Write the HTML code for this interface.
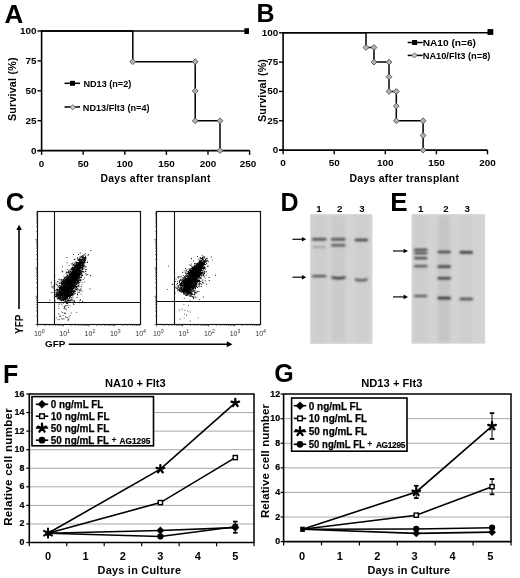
<!DOCTYPE html>
<html><head><meta charset="utf-8"><style>
html,body{margin:0;padding:0;background:#fff;}
svg{display:block;font-family:"Liberation Sans",sans-serif;}
</style></head><body>
<svg width="520" height="578" viewBox="0 0 520 578">
<defs><filter id="soft" x="0" y="0" width="100%" height="100%"><feGaussianBlur stdDeviation="0.35"/></filter></defs>
<g filter="url(#soft)">
<rect width="520" height="578" fill="#fff"/>
<text x="4.60" y="22.60" font-size="26" font-weight="bold" text-anchor="start" fill="#000" >A</text>
<line x1="41.60" y1="30.20" x2="41.60" y2="151.40" stroke="#000" stroke-width="1.6"/>
<line x1="37.50" y1="150.60" x2="249.60" y2="150.60" stroke="#000" stroke-width="1.6"/>
<line x1="37.50" y1="31.00" x2="41.60" y2="31.00" stroke="#000" stroke-width="1.4"/>
<text x="36.60" y="34.00" font-size="9.9" font-weight="bold" text-anchor="end" fill="#000" >100</text>
<line x1="37.50" y1="60.90" x2="41.60" y2="60.90" stroke="#000" stroke-width="1.4"/>
<text x="36.60" y="63.90" font-size="9.9" font-weight="bold" text-anchor="end" fill="#000" >75</text>
<line x1="37.50" y1="90.80" x2="41.60" y2="90.80" stroke="#000" stroke-width="1.4"/>
<text x="36.60" y="93.80" font-size="9.9" font-weight="bold" text-anchor="end" fill="#000" >50</text>
<line x1="37.50" y1="120.70" x2="41.60" y2="120.70" stroke="#000" stroke-width="1.4"/>
<text x="36.60" y="123.70" font-size="9.9" font-weight="bold" text-anchor="end" fill="#000" >25</text>
<line x1="37.50" y1="150.60" x2="41.60" y2="150.60" stroke="#000" stroke-width="1.4"/>
<text x="36.60" y="153.60" font-size="9.9" font-weight="bold" text-anchor="end" fill="#000" >0</text>
<line x1="41.60" y1="150.60" x2="41.60" y2="154.80" stroke="#000" stroke-width="1.4"/>
<text x="41.60" y="166.80" font-size="9.9" font-weight="bold" text-anchor="middle" fill="#000" >0</text>
<line x1="83.20" y1="150.60" x2="83.20" y2="154.80" stroke="#000" stroke-width="1.4"/>
<text x="83.20" y="166.80" font-size="9.9" font-weight="bold" text-anchor="middle" fill="#000" >50</text>
<line x1="124.80" y1="150.60" x2="124.80" y2="154.80" stroke="#000" stroke-width="1.4"/>
<text x="124.80" y="166.80" font-size="9.9" font-weight="bold" text-anchor="middle" fill="#000" >100</text>
<line x1="166.40" y1="150.60" x2="166.40" y2="154.80" stroke="#000" stroke-width="1.4"/>
<text x="166.40" y="166.80" font-size="9.9" font-weight="bold" text-anchor="middle" fill="#000" >150</text>
<line x1="208.00" y1="150.60" x2="208.00" y2="154.80" stroke="#000" stroke-width="1.4"/>
<text x="208.00" y="166.80" font-size="9.9" font-weight="bold" text-anchor="middle" fill="#000" >200</text>
<line x1="249.60" y1="150.60" x2="249.60" y2="154.80" stroke="#000" stroke-width="1.4"/>
<text x="248.10" y="166.80" font-size="9.9" font-weight="bold" text-anchor="middle" fill="#000" >250</text>
<text transform="translate(16.00,89.30) rotate(-90)" x="0" y="0" font-size="10.7" font-weight="bold" text-anchor="middle"  textLength="63.5">Survival (%)</text>
<text x="100.40" y="182.30" font-size="10.4" font-weight="bold" text-anchor="start" fill="#000"  textLength="110">Days after transplant</text>
<path d="M41.6,31.0 H246.7" fill="none" stroke="#000" stroke-width="1.5"/>
<rect x="244.40" y="28.20" width="4.6" height="5.8" fill="#000"/>
<path d="M41.6,31.0 H132.8 V61.7 H195.2 V120.8 H220 V150.6" fill="none" stroke="#000" stroke-width="1.5"/>
<path d="M132.80,58.80 L135.70,61.70 L132.80,64.60 L129.90,61.70Z" fill="#b4b4b4" stroke="#505050" stroke-width="0.9"/>
<path d="M195.20,58.80 L198.10,61.70 L195.20,64.60 L192.30,61.70Z" fill="#b4b4b4" stroke="#505050" stroke-width="0.9"/>
<path d="M195.20,88.10 L198.10,91.00 L195.20,93.90 L192.30,91.00Z" fill="#b4b4b4" stroke="#505050" stroke-width="0.9"/>
<path d="M195.20,117.90 L198.10,120.80 L195.20,123.70 L192.30,120.80Z" fill="#b4b4b4" stroke="#505050" stroke-width="0.9"/>
<path d="M220.00,117.90 L222.90,120.80 L220.00,123.70 L217.10,120.80Z" fill="#b4b4b4" stroke="#505050" stroke-width="0.9"/>
<path d="M220.00,147.70 L222.90,150.60 L220.00,153.50 L217.10,150.60Z" fill="#b4b4b4" stroke="#505050" stroke-width="0.9"/>
<line x1="64.50" y1="83.30" x2="80.00" y2="83.30" stroke="#000" stroke-width="1.5"/>
<rect x="70.00" y="80.80" width="5" height="5" fill="#000"/>
<text x="83.4" y="86.6" font-size="9.4" font-weight="bold" textLength="47.9" lengthAdjust="spacingAndGlyphs">ND13 (n=2)</text>
<line x1="64.50" y1="107.00" x2="80.00" y2="107.00" stroke="#000" stroke-width="1.5"/>
<path d="M72.80,104.70 L75.40,107.30 L72.80,109.90 L70.20,107.30Z" fill="#c8c8c8" stroke="#666" stroke-width="0.9"/>
<text x="82.8" y="110.6" font-size="9.4" font-weight="bold" textLength="66.8" lengthAdjust="spacingAndGlyphs">ND13/Flt3 (n=4)</text>
<text x="256.60" y="22.40" font-size="25" font-weight="bold" text-anchor="start" fill="#000" >B</text>
<line x1="283.10" y1="32.00" x2="283.10" y2="150.90" stroke="#000" stroke-width="1.6"/>
<line x1="279.00" y1="150.10" x2="487.50" y2="150.10" stroke="#000" stroke-width="1.6"/>
<line x1="279.00" y1="32.80" x2="283.10" y2="32.80" stroke="#000" stroke-width="1.4"/>
<text x="278.30" y="35.60" font-size="9.9" font-weight="bold" text-anchor="end" fill="#000" >100</text>
<line x1="279.00" y1="62.12" x2="283.10" y2="62.12" stroke="#000" stroke-width="1.4"/>
<text x="278.30" y="64.92" font-size="9.9" font-weight="bold" text-anchor="end" fill="#000" >75</text>
<line x1="279.00" y1="91.45" x2="283.10" y2="91.45" stroke="#000" stroke-width="1.4"/>
<text x="278.30" y="94.25" font-size="9.9" font-weight="bold" text-anchor="end" fill="#000" >50</text>
<line x1="279.00" y1="120.77" x2="283.10" y2="120.77" stroke="#000" stroke-width="1.4"/>
<text x="278.30" y="123.57" font-size="9.9" font-weight="bold" text-anchor="end" fill="#000" >25</text>
<line x1="279.00" y1="150.10" x2="283.10" y2="150.10" stroke="#000" stroke-width="1.4"/>
<text x="278.30" y="152.90" font-size="9.9" font-weight="bold" text-anchor="end" fill="#000" >0</text>
<line x1="283.10" y1="150.10" x2="283.10" y2="154.30" stroke="#000" stroke-width="1.4"/>
<text x="283.10" y="165.80" font-size="9.9" font-weight="bold" text-anchor="middle" fill="#000" >0</text>
<line x1="334.20" y1="150.10" x2="334.20" y2="154.30" stroke="#000" stroke-width="1.4"/>
<text x="334.20" y="165.80" font-size="9.9" font-weight="bold" text-anchor="middle" fill="#000" >50</text>
<line x1="385.30" y1="150.10" x2="385.30" y2="154.30" stroke="#000" stroke-width="1.4"/>
<text x="385.30" y="165.80" font-size="9.9" font-weight="bold" text-anchor="middle" fill="#000" >100</text>
<line x1="436.40" y1="150.10" x2="436.40" y2="154.30" stroke="#000" stroke-width="1.4"/>
<text x="436.40" y="165.80" font-size="9.9" font-weight="bold" text-anchor="middle" fill="#000" >150</text>
<line x1="487.50" y1="150.10" x2="487.50" y2="154.30" stroke="#000" stroke-width="1.4"/>
<text x="487.50" y="165.80" font-size="9.9" font-weight="bold" text-anchor="middle" fill="#000" >200</text>
<text transform="translate(265.60,90.60) rotate(-90)" x="0" y="0" font-size="10.7" font-weight="bold" text-anchor="middle"  textLength="63">Survival (%)</text>
<text x="349.50" y="182.30" font-size="10.4" font-weight="bold" text-anchor="start" fill="#000"  textLength="109.5">Days after transplant</text>
<path d="M283.1,32.79999999999998 H490.4" fill="none" stroke="#000" stroke-width="1.5"/>
<rect x="487.50" y="29.10" width="5.8" height="5.8" fill="#000"/>
<path d="M283.1,32.79999999999998 H366 V47.46 H374 V62.12 H389 V91.45 H396.3 V120.77 H423.1 V150.1" fill="none" stroke="#000" stroke-width="1.5"/>
<path d="M366.00,44.56 L368.90,47.46 L366.00,50.36 L363.10,47.46Z" fill="#b4b4b4" stroke="#505050" stroke-width="0.9"/>
<path d="M374.00,44.56 L376.90,47.46 L374.00,50.36 L371.10,47.46Z" fill="#b4b4b4" stroke="#505050" stroke-width="0.9"/>
<path d="M374.00,59.22 L376.90,62.12 L374.00,65.02 L371.10,62.12Z" fill="#b4b4b4" stroke="#505050" stroke-width="0.9"/>
<path d="M389.00,59.22 L391.90,62.12 L389.00,65.02 L386.10,62.12Z" fill="#b4b4b4" stroke="#505050" stroke-width="0.9"/>
<path d="M389.00,73.89 L391.90,76.79 L389.00,79.69 L386.10,76.79Z" fill="#b4b4b4" stroke="#505050" stroke-width="0.9"/>
<path d="M389.00,88.55 L391.90,91.45 L389.00,94.35 L386.10,91.45Z" fill="#b4b4b4" stroke="#505050" stroke-width="0.9"/>
<path d="M396.30,88.55 L399.20,91.45 L396.30,94.35 L393.40,91.45Z" fill="#b4b4b4" stroke="#505050" stroke-width="0.9"/>
<path d="M396.30,103.21 L399.20,106.11 L396.30,109.01 L393.40,106.11Z" fill="#b4b4b4" stroke="#505050" stroke-width="0.9"/>
<path d="M396.30,117.87 L399.20,120.77 L396.30,123.67 L393.40,120.77Z" fill="#b4b4b4" stroke="#505050" stroke-width="0.9"/>
<path d="M423.10,117.87 L426.00,120.77 L423.10,123.67 L420.20,120.77Z" fill="#b4b4b4" stroke="#505050" stroke-width="0.9"/>
<path d="M423.10,132.54 L426.00,135.44 L423.10,138.34 L420.20,135.44Z" fill="#b4b4b4" stroke="#505050" stroke-width="0.9"/>
<path d="M423.10,147.20 L426.00,150.10 L423.10,153.00 L420.20,150.10Z" fill="#b4b4b4" stroke="#505050" stroke-width="0.9"/>
<line x1="407.70" y1="42.50" x2="422.70" y2="42.50" stroke="#000" stroke-width="1.5"/>
<rect x="412.10" y="40.00" width="5" height="5" fill="#000"/>
<text x="422.7" y="45.9" font-size="9.8" font-weight="bold" textLength="53.3" lengthAdjust="spacingAndGlyphs">NA10 (n=6)</text>
<line x1="407.70" y1="55.40" x2="422.70" y2="55.40" stroke="#000" stroke-width="1.5"/>
<path d="M414.40,52.80 L417.00,55.40 L414.40,58.00 L411.80,55.40Z" fill="#c8c8c8" stroke="#666" stroke-width="0.9"/>
<text x="422.7" y="58.8" font-size="9.8" font-weight="bold" textLength="67.7" lengthAdjust="spacingAndGlyphs">NA10/Flt3 (n=8)</text>
<text x="5.80" y="210.70" font-size="26" font-weight="bold" text-anchor="start" fill="#000" >C</text>
<rect x="37.5" y="211.5" width="103.00" height="113.00" fill="none" stroke="#111" stroke-width="1.15"/>
<line x1="54.50" y1="211.50" x2="54.50" y2="324.50" stroke="#111" stroke-width="1.1"/>
<line x1="37.50" y1="302.50" x2="140.50" y2="302.50" stroke="#111" stroke-width="1.1"/>
<path d="M37.50,324.5 v2 M45.25,324.5 v1.3 M49.79,324.5 v1.3 M53.00,324.5 v1.3 M55.50,324.5 v1.3 M57.54,324.5 v1.3 M59.26,324.5 v1.3 M60.75,324.5 v1.3 M62.07,324.5 v1.3 M63.25,324.5 v2 M71.00,324.5 v1.3 M75.54,324.5 v1.3 M78.75,324.5 v1.3 M81.25,324.5 v1.3 M83.29,324.5 v1.3 M85.01,324.5 v1.3 M86.50,324.5 v1.3 M87.82,324.5 v1.3 M89.00,324.5 v2 M96.75,324.5 v1.3 M101.29,324.5 v1.3 M104.50,324.5 v1.3 M107.00,324.5 v1.3 M109.04,324.5 v1.3 M110.76,324.5 v1.3 M112.25,324.5 v1.3 M113.57,324.5 v1.3 M114.75,324.5 v2 M122.50,324.5 v1.3 M127.04,324.5 v1.3 M130.25,324.5 v1.3 M132.75,324.5 v1.3 M134.79,324.5 v1.3 M136.51,324.5 v1.3 M138.00,324.5 v1.3 M139.32,324.5 v1.3 M37.5,324.50 h-2 M37.5,316.00 h-1.3 M37.5,311.02 h-1.3 M37.5,307.49 h-1.3 M37.5,304.75 h-1.3 M37.5,302.52 h-1.3 M37.5,300.63 h-1.3 M37.5,298.99 h-1.3 M37.5,297.54 h-1.3 M37.5,296.25 h-2 M37.5,287.75 h-1.3 M37.5,282.77 h-1.3 M37.5,279.24 h-1.3 M37.5,276.50 h-1.3 M37.5,274.27 h-1.3 M37.5,272.38 h-1.3 M37.5,270.74 h-1.3 M37.5,269.29 h-1.3 M37.5,268.00 h-2 M37.5,259.50 h-1.3 M37.5,254.52 h-1.3 M37.5,250.99 h-1.3 M37.5,248.25 h-1.3 M37.5,246.02 h-1.3 M37.5,244.13 h-1.3 M37.5,242.49 h-1.3 M37.5,241.04 h-1.3 M37.5,239.75 h-2 M37.5,231.25 h-1.3 M37.5,226.27 h-1.3 M37.5,222.74 h-1.3 M37.5,220.00 h-1.3 M37.5,217.77 h-1.3 M37.5,215.88 h-1.3 M37.5,214.24 h-1.3 M37.5,212.79 h-1.3" stroke="#333" stroke-width="0.8" fill="none"/>
<text x="33.90" y="335.9" font-size="7" fill="#333">10<tspan dy="-2.8" font-size="5.2">0</tspan></text>
<text x="59.25" y="335.9" font-size="7" fill="#333">10<tspan dy="-2.8" font-size="5.2">1</tspan></text>
<text x="84.60" y="335.9" font-size="7" fill="#333">10<tspan dy="-2.8" font-size="5.2">2</tspan></text>
<text x="109.95" y="335.9" font-size="7" fill="#333">10<tspan dy="-2.8" font-size="5.2">3</tspan></text>
<text x="135.30" y="335.9" font-size="7" fill="#333">10<tspan dy="-2.8" font-size="5.2">4</tspan></text>
<path d="M73.5,282.7h.9v.9h-.9zM77.4,269.7h.9v.9h-.9zM77.1,281.5h.9v.9h-.9zM66.1,284.8h.9v.9h-.9zM76.8,276.3h.9v.9h-.9zM68.6,290.7h.9v.9h-.9zM64.9,296.7h.9v.9h-.9zM76.2,270.5h.9v.9h-.9zM79.6,272.3h.9v.9h-.9zM56.9,293.3h.9v.9h-.9zM66.7,279.2h.9v.9h-.9zM73.9,277.4h.9v.9h-.9zM85.3,271.0h.9v.9h-.9zM75.6,279.6h.9v.9h-.9zM68.6,278.1h.9v.9h-.9zM81.4,271.8h.9v.9h-.9zM68.0,291.9h.9v.9h-.9zM70.6,275.9h.9v.9h-.9zM65.9,279.1h.9v.9h-.9zM64.1,293.5h.9v.9h-.9zM76.3,268.8h.9v.9h-.9zM75.9,276.9h.9v.9h-.9zM66.2,274.4h.9v.9h-.9zM82.1,262.6h.9v.9h-.9zM72.4,285.8h.9v.9h-.9zM70.1,278.3h.9v.9h-.9zM77.3,263.4h.9v.9h-.9zM73.0,286.2h.9v.9h-.9zM72.5,273.4h.9v.9h-.9zM72.4,283.7h.9v.9h-.9zM69.6,300.8h.9v.9h-.9zM64.5,294.0h.9v.9h-.9zM68.8,291.4h.9v.9h-.9zM77.0,272.6h.9v.9h-.9zM70.1,283.2h.9v.9h-.9zM79.4,270.6h.9v.9h-.9zM72.9,292.0h.9v.9h-.9zM67.5,290.5h.9v.9h-.9zM66.4,297.7h.9v.9h-.9zM70.5,280.1h.9v.9h-.9zM68.6,286.1h.9v.9h-.9zM75.0,281.6h.9v.9h-.9zM70.0,284.4h.9v.9h-.9zM69.0,286.3h.9v.9h-.9zM59.4,294.8h.9v.9h-.9zM78.2,271.0h.9v.9h-.9zM71.7,283.3h.9v.9h-.9zM87.6,255.2h.9v.9h-.9zM61.1,288.6h.9v.9h-.9zM60.2,296.0h.9v.9h-.9zM73.7,279.1h.9v.9h-.9zM79.6,265.2h.9v.9h-.9zM69.4,284.6h.9v.9h-.9zM65.3,292.1h.9v.9h-.9zM64.7,284.6h.9v.9h-.9zM71.5,278.9h.9v.9h-.9zM74.3,269.6h.9v.9h-.9zM72.2,280.7h.9v.9h-.9zM77.6,264.5h.9v.9h-.9zM82.2,269.4h.9v.9h-.9zM62.1,289.2h.9v.9h-.9zM74.7,279.8h.9v.9h-.9zM67.4,285.8h.9v.9h-.9zM72.0,279.6h.9v.9h-.9zM76.2,266.3h.9v.9h-.9zM61.9,293.1h.9v.9h-.9zM50.8,281.8h.9v.9h-.9zM83.6,258.4h.9v.9h-.9zM70.2,287.8h.9v.9h-.9zM63.3,290.4h.9v.9h-.9zM70.9,269.5h.9v.9h-.9zM63.5,288.5h.9v.9h-.9zM80.2,280.5h.9v.9h-.9zM76.9,274.4h.9v.9h-.9zM69.9,278.3h.9v.9h-.9zM63.9,282.2h.9v.9h-.9zM73.4,285.2h.9v.9h-.9zM68.7,290.3h.9v.9h-.9zM61.4,287.7h.9v.9h-.9zM68.9,286.0h.9v.9h-.9zM67.1,291.8h.9v.9h-.9zM77.2,275.1h.9v.9h-.9zM64.5,290.1h.9v.9h-.9zM76.2,270.6h.9v.9h-.9zM79.5,274.5h.9v.9h-.9zM79.2,270.7h.9v.9h-.9zM78.0,254.0h.9v.9h-.9zM73.2,274.9h.9v.9h-.9zM68.2,290.3h.9v.9h-.9zM74.1,272.0h.9v.9h-.9zM79.2,261.2h.9v.9h-.9zM80.6,260.5h.9v.9h-.9zM80.4,261.1h.9v.9h-.9zM72.2,276.6h.9v.9h-.9zM71.6,275.4h.9v.9h-.9zM58.9,286.4h.9v.9h-.9zM72.7,300.7h.9v.9h-.9zM77.7,268.2h.9v.9h-.9zM70.1,285.0h.9v.9h-.9zM64.2,289.5h.9v.9h-.9zM71.9,266.8h.9v.9h-.9zM74.8,272.0h.9v.9h-.9zM78.1,266.7h.9v.9h-.9zM71.5,281.8h.9v.9h-.9zM78.0,275.1h.9v.9h-.9zM65.0,289.7h.9v.9h-.9zM72.6,291.0h.9v.9h-.9zM64.1,287.4h.9v.9h-.9zM68.1,289.7h.9v.9h-.9zM69.2,269.7h.9v.9h-.9zM70.6,295.3h.9v.9h-.9zM70.8,281.0h.9v.9h-.9zM61.5,290.9h.9v.9h-.9zM75.5,270.6h.9v.9h-.9zM72.4,277.3h.9v.9h-.9zM75.9,289.3h.9v.9h-.9zM72.9,278.0h.9v.9h-.9zM71.0,277.8h.9v.9h-.9zM69.6,293.3h.9v.9h-.9zM71.7,277.0h.9v.9h-.9zM79.0,264.4h.9v.9h-.9zM73.5,288.2h.9v.9h-.9zM79.2,263.9h.9v.9h-.9zM64.6,292.4h.9v.9h-.9zM65.0,296.7h.9v.9h-.9zM69.6,272.8h.9v.9h-.9zM74.7,277.8h.9v.9h-.9zM69.5,285.9h.9v.9h-.9zM62.2,293.3h.9v.9h-.9zM79.7,263.3h.9v.9h-.9zM79.0,265.9h.9v.9h-.9zM76.8,264.2h.9v.9h-.9zM73.0,273.0h.9v.9h-.9zM72.9,279.3h.9v.9h-.9zM81.7,264.3h.9v.9h-.9zM76.4,266.0h.9v.9h-.9zM63.4,298.6h.9v.9h-.9zM69.9,281.1h.9v.9h-.9zM68.5,279.3h.9v.9h-.9zM72.8,279.5h.9v.9h-.9zM72.4,272.8h.9v.9h-.9zM76.3,286.7h.9v.9h-.9zM79.3,264.1h.9v.9h-.9zM67.5,287.7h.9v.9h-.9zM75.0,266.0h.9v.9h-.9zM68.5,282.5h.9v.9h-.9zM61.2,300.4h.9v.9h-.9zM69.9,296.1h.9v.9h-.9zM75.4,270.5h.9v.9h-.9zM80.2,270.7h.9v.9h-.9zM73.5,267.0h.9v.9h-.9zM78.5,265.2h.9v.9h-.9zM73.0,279.4h.9v.9h-.9zM67.9,286.3h.9v.9h-.9zM72.0,277.7h.9v.9h-.9zM66.4,294.6h.9v.9h-.9zM74.2,264.4h.9v.9h-.9zM74.8,268.4h.9v.9h-.9zM77.6,282.1h.9v.9h-.9zM77.9,277.7h.9v.9h-.9zM65.4,296.8h.9v.9h-.9zM65.8,271.4h.9v.9h-.9zM77.1,273.8h.9v.9h-.9zM72.3,268.9h.9v.9h-.9zM83.1,261.5h.9v.9h-.9zM74.0,275.4h.9v.9h-.9zM62.5,288.6h.9v.9h-.9zM80.7,286.2h.9v.9h-.9zM70.7,283.7h.9v.9h-.9zM76.8,273.1h.9v.9h-.9zM79.4,265.5h.9v.9h-.9zM71.2,273.6h.9v.9h-.9zM72.4,272.3h.9v.9h-.9zM70.1,283.8h.9v.9h-.9zM73.9,279.5h.9v.9h-.9zM85.6,266.5h.9v.9h-.9zM67.8,294.5h.9v.9h-.9zM76.2,270.2h.9v.9h-.9zM63.1,282.6h.9v.9h-.9zM72.4,279.7h.9v.9h-.9zM73.1,271.4h.9v.9h-.9zM62.2,292.7h.9v.9h-.9zM75.5,275.9h.9v.9h-.9zM66.2,292.5h.9v.9h-.9zM83.7,263.0h.9v.9h-.9zM65.9,291.3h.9v.9h-.9zM68.9,290.3h.9v.9h-.9zM78.3,278.6h.9v.9h-.9zM79.2,275.4h.9v.9h-.9zM74.9,270.4h.9v.9h-.9zM77.7,267.2h.9v.9h-.9zM67.8,277.8h.9v.9h-.9zM69.1,282.2h.9v.9h-.9zM65.8,276.3h.9v.9h-.9zM56.2,291.4h.9v.9h-.9zM64.6,293.6h.9v.9h-.9zM83.7,260.7h.9v.9h-.9zM81.5,266.8h.9v.9h-.9zM73.3,274.3h.9v.9h-.9zM79.0,265.7h.9v.9h-.9zM69.7,295.2h.9v.9h-.9zM73.5,289.9h.9v.9h-.9zM69.0,276.0h.9v.9h-.9zM72.9,268.5h.9v.9h-.9zM69.3,280.4h.9v.9h-.9zM63.8,278.5h.9v.9h-.9zM72.0,277.2h.9v.9h-.9zM64.8,293.1h.9v.9h-.9zM67.7,283.6h.9v.9h-.9zM69.2,275.9h.9v.9h-.9zM72.1,271.8h.9v.9h-.9zM65.7,290.0h.9v.9h-.9zM67.1,290.5h.9v.9h-.9zM64.9,287.8h.9v.9h-.9zM80.3,262.6h.9v.9h-.9zM70.8,281.9h.9v.9h-.9zM81.0,267.1h.9v.9h-.9zM71.3,277.5h.9v.9h-.9zM79.2,264.9h.9v.9h-.9zM80.0,279.3h.9v.9h-.9zM77.4,265.4h.9v.9h-.9zM75.7,262.6h.9v.9h-.9zM64.4,295.0h.9v.9h-.9zM74.3,285.4h.9v.9h-.9zM62.6,292.3h.9v.9h-.9zM68.7,291.7h.9v.9h-.9zM67.6,286.3h.9v.9h-.9zM69.1,291.0h.9v.9h-.9zM62.4,281.6h.9v.9h-.9zM74.1,279.1h.9v.9h-.9zM76.6,282.6h.9v.9h-.9zM73.2,287.8h.9v.9h-.9zM79.8,262.1h.9v.9h-.9zM74.6,281.8h.9v.9h-.9zM71.4,275.7h.9v.9h-.9zM72.3,275.4h.9v.9h-.9zM68.0,289.3h.9v.9h-.9zM71.4,283.5h.9v.9h-.9zM71.1,279.6h.9v.9h-.9zM73.9,286.9h.9v.9h-.9zM72.9,279.5h.9v.9h-.9zM58.9,290.2h.9v.9h-.9zM80.6,272.7h.9v.9h-.9zM66.0,296.3h.9v.9h-.9zM68.0,281.8h.9v.9h-.9zM62.6,284.4h.9v.9h-.9zM66.8,292.1h.9v.9h-.9zM79.5,277.8h.9v.9h-.9zM72.2,290.2h.9v.9h-.9zM71.6,286.0h.9v.9h-.9zM78.6,262.5h.9v.9h-.9zM65.5,283.3h.9v.9h-.9zM77.3,271.7h.9v.9h-.9zM79.8,271.2h.9v.9h-.9zM78.4,266.2h.9v.9h-.9zM70.6,285.1h.9v.9h-.9zM75.4,286.7h.9v.9h-.9zM78.7,262.5h.9v.9h-.9zM63.5,293.3h.9v.9h-.9zM74.6,292.7h.9v.9h-.9zM69.3,287.0h.9v.9h-.9zM75.2,274.6h.9v.9h-.9zM63.3,292.6h.9v.9h-.9zM64.0,277.6h.9v.9h-.9zM57.5,292.1h.9v.9h-.9zM63.0,287.0h.9v.9h-.9zM72.5,280.1h.9v.9h-.9zM66.6,295.6h.9v.9h-.9zM62.2,290.6h.9v.9h-.9zM71.2,281.6h.9v.9h-.9zM67.5,287.9h.9v.9h-.9zM70.8,275.0h.9v.9h-.9zM58.0,297.7h.9v.9h-.9zM72.4,284.3h.9v.9h-.9zM65.4,289.8h.9v.9h-.9zM62.7,289.1h.9v.9h-.9zM69.0,288.9h.9v.9h-.9zM71.7,276.9h.9v.9h-.9zM68.7,281.0h.9v.9h-.9zM72.4,277.3h.9v.9h-.9zM77.7,269.7h.9v.9h-.9zM70.1,275.1h.9v.9h-.9zM79.3,282.2h.9v.9h-.9zM79.8,263.8h.9v.9h-.9zM60.9,292.8h.9v.9h-.9zM62.2,299.2h.9v.9h-.9zM73.6,292.2h.9v.9h-.9zM76.1,268.2h.9v.9h-.9zM80.2,266.6h.9v.9h-.9zM76.8,272.5h.9v.9h-.9zM81.7,257.3h.9v.9h-.9zM62.7,287.9h.9v.9h-.9zM66.6,287.7h.9v.9h-.9zM68.9,280.1h.9v.9h-.9zM76.8,266.6h.9v.9h-.9zM64.7,297.1h.9v.9h-.9zM73.2,283.6h.9v.9h-.9zM58.5,278.8h.9v.9h-.9zM62.9,292.7h.9v.9h-.9zM74.5,287.6h.9v.9h-.9zM78.0,265.0h.9v.9h-.9zM64.9,290.7h.9v.9h-.9zM67.9,283.2h.9v.9h-.9zM80.9,267.6h.9v.9h-.9zM67.7,295.8h.9v.9h-.9zM70.2,286.0h.9v.9h-.9zM78.3,272.5h.9v.9h-.9zM68.0,296.1h.9v.9h-.9zM71.1,283.5h.9v.9h-.9zM68.0,285.4h.9v.9h-.9zM64.9,284.5h.9v.9h-.9zM66.8,280.2h.9v.9h-.9zM66.3,279.3h.9v.9h-.9zM62.9,298.7h.9v.9h-.9zM72.5,275.0h.9v.9h-.9zM84.5,257.2h.9v.9h-.9zM76.8,273.8h.9v.9h-.9zM82.2,301.1h.9v.9h-.9zM60.1,298.5h.9v.9h-.9zM73.9,271.0h.9v.9h-.9zM74.6,276.4h.9v.9h-.9zM64.9,289.3h.9v.9h-.9zM73.1,277.7h.9v.9h-.9zM64.8,286.4h.9v.9h-.9zM75.3,282.6h.9v.9h-.9zM84.8,256.9h.9v.9h-.9zM74.1,276.7h.9v.9h-.9zM70.4,283.1h.9v.9h-.9zM75.6,269.6h.9v.9h-.9zM69.2,270.3h.9v.9h-.9zM67.7,280.0h.9v.9h-.9zM68.8,281.6h.9v.9h-.9zM78.9,272.2h.9v.9h-.9zM71.8,286.5h.9v.9h-.9zM62.4,285.1h.9v.9h-.9zM83.7,262.9h.9v.9h-.9zM87.3,274.0h.9v.9h-.9zM80.9,259.3h.9v.9h-.9zM67.6,289.8h.9v.9h-.9zM67.6,291.6h.9v.9h-.9zM69.7,287.7h.9v.9h-.9zM68.1,280.1h.9v.9h-.9zM62.2,294.5h.9v.9h-.9zM66.4,290.7h.9v.9h-.9zM64.7,288.3h.9v.9h-.9zM61.5,292.2h.9v.9h-.9zM72.3,280.0h.9v.9h-.9zM66.8,297.4h.9v.9h-.9zM54.3,275.3h.9v.9h-.9zM72.5,273.8h.9v.9h-.9zM64.3,291.4h.9v.9h-.9zM73.2,279.2h.9v.9h-.9zM63.0,290.5h.9v.9h-.9zM69.7,274.2h.9v.9h-.9zM67.6,292.3h.9v.9h-.9zM68.9,285.6h.9v.9h-.9zM65.4,290.9h.9v.9h-.9zM67.5,288.6h.9v.9h-.9zM59.3,299.3h.9v.9h-.9zM73.8,286.7h.9v.9h-.9zM69.2,286.1h.9v.9h-.9zM56.1,295.7h.9v.9h-.9zM78.2,271.7h.9v.9h-.9zM64.5,283.8h.9v.9h-.9zM74.1,274.2h.9v.9h-.9zM69.7,282.8h.9v.9h-.9zM73.0,268.1h.9v.9h-.9zM58.4,293.9h.9v.9h-.9zM65.7,298.2h.9v.9h-.9zM61.6,295.1h.9v.9h-.9zM78.3,276.3h.9v.9h-.9zM56.9,290.7h.9v.9h-.9zM75.6,277.1h.9v.9h-.9zM74.6,272.2h.9v.9h-.9zM67.2,293.1h.9v.9h-.9zM74.8,273.5h.9v.9h-.9zM68.4,278.2h.9v.9h-.9zM66.6,280.3h.9v.9h-.9zM82.4,264.8h.9v.9h-.9zM63.8,281.3h.9v.9h-.9zM67.4,276.9h.9v.9h-.9zM74.8,280.6h.9v.9h-.9zM71.1,290.3h.9v.9h-.9zM81.3,260.6h.9v.9h-.9zM68.0,275.9h.9v.9h-.9zM73.4,287.2h.9v.9h-.9zM68.6,275.5h.9v.9h-.9zM83.5,260.5h.9v.9h-.9zM81.4,275.6h.9v.9h-.9zM64.1,282.1h.9v.9h-.9zM66.2,280.2h.9v.9h-.9zM71.7,269.0h.9v.9h-.9zM64.0,288.5h.9v.9h-.9zM73.2,303.5h.9v.9h-.9zM63.1,291.1h.9v.9h-.9zM76.3,274.0h.9v.9h-.9zM81.6,290.5h.9v.9h-.9zM66.5,277.5h.9v.9h-.9zM50.7,292.2h.9v.9h-.9zM75.8,267.3h.9v.9h-.9zM74.1,270.9h.9v.9h-.9zM78.2,269.2h.9v.9h-.9zM63.3,279.2h.9v.9h-.9zM71.5,281.9h.9v.9h-.9zM69.2,287.8h.9v.9h-.9zM64.6,287.9h.9v.9h-.9zM65.9,288.3h.9v.9h-.9zM73.9,273.5h.9v.9h-.9zM62.6,285.0h.9v.9h-.9zM69.7,290.2h.9v.9h-.9zM72.4,288.8h.9v.9h-.9zM76.8,283.2h.9v.9h-.9zM60.1,295.6h.9v.9h-.9zM70.3,277.3h.9v.9h-.9zM67.7,286.8h.9v.9h-.9zM67.3,280.2h.9v.9h-.9zM64.1,291.0h.9v.9h-.9zM58.1,297.6h.9v.9h-.9zM76.1,271.1h.9v.9h-.9zM58.6,292.9h.9v.9h-.9zM67.1,293.5h.9v.9h-.9zM81.0,260.8h.9v.9h-.9zM57.5,296.2h.9v.9h-.9zM72.4,294.3h.9v.9h-.9zM75.2,271.3h.9v.9h-.9zM61.7,293.1h.9v.9h-.9zM59.9,294.6h.9v.9h-.9zM83.4,263.1h.9v.9h-.9zM73.1,269.8h.9v.9h-.9zM71.6,285.2h.9v.9h-.9zM72.5,286.3h.9v.9h-.9zM72.4,283.5h.9v.9h-.9zM65.1,290.4h.9v.9h-.9zM67.9,278.9h.9v.9h-.9zM69.1,288.2h.9v.9h-.9zM81.4,260.2h.9v.9h-.9zM69.8,275.3h.9v.9h-.9zM77.0,277.4h.9v.9h-.9zM62.0,292.0h.9v.9h-.9zM61.9,297.0h.9v.9h-.9zM71.5,280.9h.9v.9h-.9zM73.3,291.0h.9v.9h-.9zM76.5,269.4h.9v.9h-.9zM63.5,282.8h.9v.9h-.9zM70.6,277.0h.9v.9h-.9zM76.4,267.0h.9v.9h-.9zM66.8,275.1h.9v.9h-.9zM66.6,297.1h.9v.9h-.9zM83.1,271.7h.9v.9h-.9zM82.3,264.1h.9v.9h-.9zM60.1,293.8h.9v.9h-.9zM67.7,292.2h.9v.9h-.9zM62.0,287.1h.9v.9h-.9zM72.7,286.5h.9v.9h-.9zM62.4,289.8h.9v.9h-.9zM66.9,282.4h.9v.9h-.9zM72.4,282.1h.9v.9h-.9zM84.4,259.4h.9v.9h-.9zM70.9,291.0h.9v.9h-.9zM69.7,288.5h.9v.9h-.9zM73.4,284.7h.9v.9h-.9zM76.6,269.6h.9v.9h-.9zM67.9,278.7h.9v.9h-.9zM68.5,275.0h.9v.9h-.9zM62.6,298.2h.9v.9h-.9zM81.3,273.5h.9v.9h-.9zM70.7,288.7h.9v.9h-.9zM81.3,262.4h.9v.9h-.9zM73.4,282.0h.9v.9h-.9zM78.8,273.0h.9v.9h-.9zM55.7,293.8h.9v.9h-.9zM87.0,262.0h.9v.9h-.9zM75.3,276.2h.9v.9h-.9zM77.5,263.3h.9v.9h-.9zM63.7,284.7h.9v.9h-.9zM68.0,281.4h.9v.9h-.9zM78.7,269.3h.9v.9h-.9zM72.5,299.9h.9v.9h-.9zM78.8,260.1h.9v.9h-.9zM79.2,263.2h.9v.9h-.9zM65.1,280.4h.9v.9h-.9zM69.0,278.4h.9v.9h-.9zM63.7,282.5h.9v.9h-.9zM68.3,291.6h.9v.9h-.9zM77.0,269.5h.9v.9h-.9zM69.3,279.4h.9v.9h-.9zM71.7,277.7h.9v.9h-.9zM82.2,264.9h.9v.9h-.9zM74.1,281.1h.9v.9h-.9zM63.0,287.4h.9v.9h-.9zM73.6,274.3h.9v.9h-.9zM71.4,267.9h.9v.9h-.9zM71.5,276.7h.9v.9h-.9zM71.1,263.4h.9v.9h-.9zM66.1,283.3h.9v.9h-.9zM75.8,275.4h.9v.9h-.9zM59.8,291.3h.9v.9h-.9zM67.5,280.7h.9v.9h-.9zM60.9,298.0h.9v.9h-.9zM72.7,275.7h.9v.9h-.9zM70.7,279.4h.9v.9h-.9zM72.9,268.6h.9v.9h-.9zM69.8,291.7h.9v.9h-.9zM66.2,293.9h.9v.9h-.9zM70.4,282.8h.9v.9h-.9zM76.8,267.5h.9v.9h-.9zM72.1,270.0h.9v.9h-.9zM72.2,291.1h.9v.9h-.9zM75.3,274.3h.9v.9h-.9zM64.7,277.0h.9v.9h-.9zM64.7,294.7h.9v.9h-.9zM68.0,270.5h.9v.9h-.9zM73.2,279.7h.9v.9h-.9zM67.0,271.7h.9v.9h-.9zM70.3,274.1h.9v.9h-.9zM70.8,273.5h.9v.9h-.9zM75.1,276.5h.9v.9h-.9zM69.0,289.7h.9v.9h-.9zM71.4,276.2h.9v.9h-.9zM79.9,270.9h.9v.9h-.9zM73.1,280.1h.9v.9h-.9zM77.8,275.9h.9v.9h-.9zM58.5,292.1h.9v.9h-.9zM64.2,284.7h.9v.9h-.9zM61.2,284.4h.9v.9h-.9zM66.1,285.7h.9v.9h-.9zM80.4,268.7h.9v.9h-.9zM65.2,294.1h.9v.9h-.9zM69.7,290.6h.9v.9h-.9zM77.1,275.4h.9v.9h-.9zM66.8,283.5h.9v.9h-.9zM72.7,279.8h.9v.9h-.9zM73.2,281.0h.9v.9h-.9zM78.3,289.3h.9v.9h-.9zM73.4,273.8h.9v.9h-.9zM78.5,261.8h.9v.9h-.9zM63.7,290.9h.9v.9h-.9zM79.3,261.1h.9v.9h-.9zM62.3,296.6h.9v.9h-.9zM77.4,271.6h.9v.9h-.9zM81.1,277.0h.9v.9h-.9zM74.2,273.5h.9v.9h-.9zM80.4,264.8h.9v.9h-.9zM55.4,291.9h.9v.9h-.9zM65.2,297.3h.9v.9h-.9zM82.5,258.1h.9v.9h-.9zM82.4,256.8h.9v.9h-.9zM80.7,255.8h.9v.9h-.9zM83.3,259.4h.9v.9h-.9zM76.1,262.1h.9v.9h-.9zM69.9,281.3h.9v.9h-.9zM73.6,277.7h.9v.9h-.9zM59.5,294.9h.9v.9h-.9zM71.2,294.2h.9v.9h-.9zM67.3,289.1h.9v.9h-.9zM68.2,276.4h.9v.9h-.9zM85.4,273.3h.9v.9h-.9zM79.3,302.3h.9v.9h-.9zM64.4,281.5h.9v.9h-.9zM70.6,280.8h.9v.9h-.9zM67.4,290.1h.9v.9h-.9zM78.9,266.2h.9v.9h-.9zM85.5,258.2h.9v.9h-.9zM85.0,255.6h.9v.9h-.9zM71.4,283.9h.9v.9h-.9zM75.4,277.7h.9v.9h-.9zM76.5,263.6h.9v.9h-.9zM68.6,283.7h.9v.9h-.9zM63.9,277.5h.9v.9h-.9zM75.6,261.6h.9v.9h-.9zM64.2,284.7h.9v.9h-.9zM61.6,289.7h.9v.9h-.9zM74.2,278.7h.9v.9h-.9zM73.9,271.8h.9v.9h-.9zM65.3,294.5h.9v.9h-.9zM81.1,259.3h.9v.9h-.9zM61.7,281.5h.9v.9h-.9zM64.1,284.9h.9v.9h-.9zM63.0,283.0h.9v.9h-.9zM70.2,279.0h.9v.9h-.9zM74.6,278.4h.9v.9h-.9zM66.1,289.2h.9v.9h-.9zM73.3,277.9h.9v.9h-.9zM57.0,293.4h.9v.9h-.9zM73.7,280.8h.9v.9h-.9zM82.4,267.9h.9v.9h-.9zM67.1,285.9h.9v.9h-.9zM70.9,286.4h.9v.9h-.9zM65.3,290.6h.9v.9h-.9zM70.1,280.7h.9v.9h-.9zM74.9,272.5h.9v.9h-.9zM73.3,280.0h.9v.9h-.9zM60.8,289.5h.9v.9h-.9zM61.8,300.1h.9v.9h-.9zM75.9,268.1h.9v.9h-.9zM77.9,284.7h.9v.9h-.9zM67.4,282.4h.9v.9h-.9zM63.1,293.5h.9v.9h-.9zM68.0,279.1h.9v.9h-.9zM73.3,279.0h.9v.9h-.9zM79.7,271.5h.9v.9h-.9zM62.0,266.4h.9v.9h-.9zM76.2,272.7h.9v.9h-.9zM70.3,279.9h.9v.9h-.9zM72.4,278.0h.9v.9h-.9zM65.9,286.2h.9v.9h-.9zM77.7,263.9h.9v.9h-.9zM65.3,301.6h.9v.9h-.9zM66.2,289.3h.9v.9h-.9zM61.0,289.9h.9v.9h-.9zM72.8,272.4h.9v.9h-.9zM76.5,263.2h.9v.9h-.9zM67.2,295.2h.9v.9h-.9zM65.0,295.5h.9v.9h-.9zM71.0,269.4h.9v.9h-.9zM74.5,268.7h.9v.9h-.9zM66.7,287.0h.9v.9h-.9zM77.6,268.9h.9v.9h-.9zM69.3,281.9h.9v.9h-.9zM75.6,267.2h.9v.9h-.9zM75.9,271.7h.9v.9h-.9zM61.9,296.2h.9v.9h-.9zM62.1,290.4h.9v.9h-.9zM74.8,276.4h.9v.9h-.9zM69.8,276.2h.9v.9h-.9zM59.2,289.2h.9v.9h-.9zM57.8,295.9h.9v.9h-.9zM81.2,271.3h.9v.9h-.9zM64.4,287.1h.9v.9h-.9zM79.1,262.6h.9v.9h-.9zM64.0,285.4h.9v.9h-.9zM71.6,280.5h.9v.9h-.9zM71.4,271.7h.9v.9h-.9zM71.7,270.9h.9v.9h-.9zM69.5,277.2h.9v.9h-.9zM68.7,272.2h.9v.9h-.9zM63.5,275.7h.9v.9h-.9zM73.2,283.3h.9v.9h-.9zM76.9,271.7h.9v.9h-.9zM73.0,279.5h.9v.9h-.9zM62.0,292.4h.9v.9h-.9zM75.9,272.8h.9v.9h-.9zM68.3,275.2h.9v.9h-.9zM71.2,280.9h.9v.9h-.9zM64.8,292.3h.9v.9h-.9zM67.3,279.3h.9v.9h-.9zM58.4,297.0h.9v.9h-.9zM72.0,269.0h.9v.9h-.9zM80.2,280.2h.9v.9h-.9zM65.0,284.3h.9v.9h-.9zM64.4,283.8h.9v.9h-.9zM81.3,267.6h.9v.9h-.9zM77.6,271.9h.9v.9h-.9zM64.3,284.6h.9v.9h-.9zM75.3,277.1h.9v.9h-.9zM68.2,294.6h.9v.9h-.9zM69.6,290.2h.9v.9h-.9zM77.2,265.4h.9v.9h-.9zM68.1,288.1h.9v.9h-.9zM65.9,286.4h.9v.9h-.9zM76.6,297.0h.9v.9h-.9zM68.9,274.9h.9v.9h-.9zM62.6,287.3h.9v.9h-.9zM70.4,280.1h.9v.9h-.9zM59.0,296.0h.9v.9h-.9zM63.2,291.4h.9v.9h-.9zM72.9,284.0h.9v.9h-.9zM69.6,282.9h.9v.9h-.9zM65.4,292.7h.9v.9h-.9zM77.4,280.5h.9v.9h-.9zM68.2,277.6h.9v.9h-.9zM74.0,291.2h.9v.9h-.9zM57.8,294.3h.9v.9h-.9zM74.8,270.2h.9v.9h-.9zM73.6,279.5h.9v.9h-.9zM76.3,277.7h.9v.9h-.9zM61.4,298.2h.9v.9h-.9zM70.8,297.5h.9v.9h-.9zM59.6,279.5h.9v.9h-.9zM74.7,277.3h.9v.9h-.9zM76.0,277.6h.9v.9h-.9zM78.0,280.4h.9v.9h-.9zM67.8,295.4h.9v.9h-.9zM68.4,291.4h.9v.9h-.9zM73.9,300.4h.9v.9h-.9zM63.4,288.5h.9v.9h-.9zM80.5,259.1h.9v.9h-.9zM78.3,267.3h.9v.9h-.9zM64.0,291.1h.9v.9h-.9zM66.4,275.9h.9v.9h-.9zM65.4,289.2h.9v.9h-.9zM77.1,272.4h.9v.9h-.9zM65.0,300.4h.9v.9h-.9zM74.7,289.0h.9v.9h-.9zM67.6,285.4h.9v.9h-.9zM75.3,271.8h.9v.9h-.9zM77.1,265.0h.9v.9h-.9zM77.3,269.4h.9v.9h-.9zM58.7,285.1h.9v.9h-.9zM66.7,295.7h.9v.9h-.9zM70.5,278.4h.9v.9h-.9zM72.2,279.9h.9v.9h-.9zM82.9,260.2h.9v.9h-.9zM69.7,289.0h.9v.9h-.9zM64.7,294.4h.9v.9h-.9zM79.6,299.8h.9v.9h-.9zM63.0,287.3h.9v.9h-.9zM81.6,257.3h.9v.9h-.9zM72.0,276.8h.9v.9h-.9zM69.1,283.4h.9v.9h-.9zM66.3,286.8h.9v.9h-.9zM63.6,294.2h.9v.9h-.9zM62.1,289.0h.9v.9h-.9zM80.4,280.6h.9v.9h-.9zM69.7,289.8h.9v.9h-.9zM59.7,294.1h.9v.9h-.9zM78.1,265.3h.9v.9h-.9zM75.2,272.9h.9v.9h-.9zM69.7,276.2h.9v.9h-.9zM71.2,284.7h.9v.9h-.9zM59.1,288.4h.9v.9h-.9zM68.1,293.8h.9v.9h-.9zM65.6,289.8h.9v.9h-.9zM67.2,285.1h.9v.9h-.9zM73.5,284.7h.9v.9h-.9zM70.1,274.8h.9v.9h-.9zM67.2,296.3h.9v.9h-.9zM77.0,268.3h.9v.9h-.9zM66.5,304.9h.9v.9h-.9zM71.3,281.5h.9v.9h-.9zM66.4,292.0h.9v.9h-.9zM74.6,275.2h.9v.9h-.9zM77.2,276.6h.9v.9h-.9zM77.3,264.3h.9v.9h-.9zM74.0,273.3h.9v.9h-.9zM67.7,293.7h.9v.9h-.9zM69.6,286.5h.9v.9h-.9zM65.5,291.0h.9v.9h-.9zM67.2,282.8h.9v.9h-.9zM65.7,287.7h.9v.9h-.9zM73.4,267.4h.9v.9h-.9zM79.1,266.3h.9v.9h-.9zM72.4,284.7h.9v.9h-.9zM78.4,266.5h.9v.9h-.9zM80.3,265.4h.9v.9h-.9zM73.1,277.4h.9v.9h-.9zM70.0,285.6h.9v.9h-.9zM70.0,288.2h.9v.9h-.9zM69.5,274.7h.9v.9h-.9zM71.6,274.0h.9v.9h-.9zM66.7,293.6h.9v.9h-.9zM66.7,280.0h.9v.9h-.9zM76.3,276.4h.9v.9h-.9zM68.7,272.2h.9v.9h-.9zM79.5,271.9h.9v.9h-.9zM68.0,292.0h.9v.9h-.9zM68.4,280.6h.9v.9h-.9zM66.0,288.5h.9v.9h-.9zM77.3,259.6h.9v.9h-.9zM77.5,274.8h.9v.9h-.9zM73.6,268.3h.9v.9h-.9zM66.8,278.8h.9v.9h-.9zM72.8,286.8h.9v.9h-.9zM65.2,286.7h.9v.9h-.9zM70.5,287.4h.9v.9h-.9zM75.6,269.1h.9v.9h-.9zM68.7,284.2h.9v.9h-.9zM65.9,289.8h.9v.9h-.9zM60.6,282.1h.9v.9h-.9zM74.4,272.4h.9v.9h-.9zM69.5,296.4h.9v.9h-.9zM52.5,286.4h.9v.9h-.9zM83.2,258.4h.9v.9h-.9zM65.3,290.8h.9v.9h-.9zM65.5,280.4h.9v.9h-.9zM59.0,288.3h.9v.9h-.9zM77.0,272.0h.9v.9h-.9zM77.5,267.7h.9v.9h-.9zM68.1,295.3h.9v.9h-.9zM71.0,278.6h.9v.9h-.9zM77.2,268.7h.9v.9h-.9zM71.4,282.1h.9v.9h-.9zM69.7,290.0h.9v.9h-.9zM72.2,282.1h.9v.9h-.9zM79.4,290.4h.9v.9h-.9zM68.2,291.8h.9v.9h-.9zM69.0,294.1h.9v.9h-.9zM77.3,271.5h.9v.9h-.9zM62.0,290.2h.9v.9h-.9zM66.5,288.8h.9v.9h-.9zM71.0,287.9h.9v.9h-.9zM74.2,263.4h.9v.9h-.9zM82.3,267.6h.9v.9h-.9zM72.9,270.7h.9v.9h-.9zM70.3,282.0h.9v.9h-.9zM71.1,269.0h.9v.9h-.9zM83.1,259.9h.9v.9h-.9zM69.2,289.8h.9v.9h-.9zM74.8,273.3h.9v.9h-.9zM70.9,275.9h.9v.9h-.9zM64.4,292.0h.9v.9h-.9zM68.5,281.4h.9v.9h-.9zM67.6,284.6h.9v.9h-.9zM74.2,278.3h.9v.9h-.9zM77.4,270.0h.9v.9h-.9zM73.0,286.9h.9v.9h-.9zM71.7,280.0h.9v.9h-.9zM64.4,293.5h.9v.9h-.9zM63.9,287.5h.9v.9h-.9zM63.4,292.4h.9v.9h-.9zM63.1,298.3h.9v.9h-.9zM61.9,284.5h.9v.9h-.9zM69.8,291.3h.9v.9h-.9zM63.1,292.1h.9v.9h-.9zM71.1,288.7h.9v.9h-.9zM76.9,272.6h.9v.9h-.9zM87.8,254.1h.9v.9h-.9zM59.4,293.8h.9v.9h-.9zM68.8,290.6h.9v.9h-.9zM75.6,272.3h.9v.9h-.9zM75.7,261.5h.9v.9h-.9zM68.9,275.2h.9v.9h-.9zM69.9,284.6h.9v.9h-.9zM67.0,282.6h.9v.9h-.9zM65.1,290.3h.9v.9h-.9zM71.1,268.7h.9v.9h-.9zM78.0,274.6h.9v.9h-.9zM70.0,285.7h.9v.9h-.9zM67.2,295.1h.9v.9h-.9zM63.3,289.9h.9v.9h-.9zM79.0,265.5h.9v.9h-.9zM73.1,276.6h.9v.9h-.9zM65.2,297.7h.9v.9h-.9zM67.0,290.4h.9v.9h-.9zM77.8,259.2h.9v.9h-.9zM89.5,288.6h.9v.9h-.9zM69.8,291.2h.9v.9h-.9zM73.5,289.8h.9v.9h-.9zM62.0,298.6h.9v.9h-.9zM63.8,296.9h.9v.9h-.9zM66.8,281.5h.9v.9h-.9zM69.0,276.2h.9v.9h-.9zM65.1,290.7h.9v.9h-.9zM57.2,295.7h.9v.9h-.9zM73.3,286.9h.9v.9h-.9zM65.7,296.6h.9v.9h-.9zM81.4,262.0h.9v.9h-.9zM68.3,295.5h.9v.9h-.9zM77.7,267.6h.9v.9h-.9zM60.1,286.5h.9v.9h-.9zM84.0,261.1h.9v.9h-.9zM83.7,264.2h.9v.9h-.9zM81.4,260.8h.9v.9h-.9zM75.9,268.9h.9v.9h-.9zM58.9,293.4h.9v.9h-.9zM76.3,283.5h.9v.9h-.9zM65.7,282.7h.9v.9h-.9zM77.1,277.5h.9v.9h-.9zM70.0,273.1h.9v.9h-.9zM59.5,293.0h.9v.9h-.9zM71.1,277.3h.9v.9h-.9zM82.9,261.7h.9v.9h-.9zM72.0,286.4h.9v.9h-.9zM74.7,276.8h.9v.9h-.9zM81.2,256.5h.9v.9h-.9zM65.0,280.5h.9v.9h-.9zM65.1,295.7h.9v.9h-.9zM79.2,271.3h.9v.9h-.9zM67.3,284.4h.9v.9h-.9zM59.6,292.6h.9v.9h-.9zM79.3,266.2h.9v.9h-.9zM59.4,287.2h.9v.9h-.9zM72.2,270.0h.9v.9h-.9zM63.8,285.7h.9v.9h-.9zM74.4,264.9h.9v.9h-.9zM61.1,283.4h.9v.9h-.9zM74.1,279.0h.9v.9h-.9zM66.1,295.7h.9v.9h-.9zM76.1,272.1h.9v.9h-.9zM65.1,286.6h.9v.9h-.9zM74.1,276.2h.9v.9h-.9zM66.8,281.4h.9v.9h-.9zM75.6,272.0h.9v.9h-.9zM79.8,267.1h.9v.9h-.9zM77.9,275.2h.9v.9h-.9zM72.4,279.0h.9v.9h-.9zM69.9,277.0h.9v.9h-.9zM79.2,269.0h.9v.9h-.9zM64.7,293.2h.9v.9h-.9zM74.8,279.3h.9v.9h-.9zM65.0,288.3h.9v.9h-.9zM62.4,286.7h.9v.9h-.9zM75.9,268.8h.9v.9h-.9zM81.2,261.6h.9v.9h-.9zM71.6,279.0h.9v.9h-.9zM72.1,267.8h.9v.9h-.9zM78.6,286.3h.9v.9h-.9zM64.9,288.4h.9v.9h-.9zM66.5,284.6h.9v.9h-.9zM76.4,264.9h.9v.9h-.9zM58.5,296.2h.9v.9h-.9zM73.5,281.9h.9v.9h-.9zM76.5,287.4h.9v.9h-.9zM60.7,294.0h.9v.9h-.9zM71.3,289.5h.9v.9h-.9zM62.3,290.1h.9v.9h-.9zM68.8,288.4h.9v.9h-.9zM72.1,277.1h.9v.9h-.9zM71.8,293.0h.9v.9h-.9zM71.3,272.5h.9v.9h-.9zM57.1,289.3h.9v.9h-.9zM64.4,294.9h.9v.9h-.9zM72.5,295.7h.9v.9h-.9zM67.9,285.7h.9v.9h-.9zM64.0,286.1h.9v.9h-.9zM69.7,282.4h.9v.9h-.9zM73.0,280.9h.9v.9h-.9zM63.1,286.7h.9v.9h-.9zM79.3,267.6h.9v.9h-.9zM75.7,273.9h.9v.9h-.9zM83.5,266.1h.9v.9h-.9zM75.4,274.5h.9v.9h-.9zM72.2,289.1h.9v.9h-.9zM72.2,271.9h.9v.9h-.9zM71.6,281.2h.9v.9h-.9zM74.6,280.9h.9v.9h-.9zM69.2,288.2h.9v.9h-.9zM83.3,265.3h.9v.9h-.9zM75.9,286.3h.9v.9h-.9zM73.8,271.4h.9v.9h-.9zM74.3,282.1h.9v.9h-.9zM61.2,291.7h.9v.9h-.9zM76.4,270.9h.9v.9h-.9zM71.0,286.4h.9v.9h-.9zM68.7,292.4h.9v.9h-.9zM69.8,285.6h.9v.9h-.9zM79.0,268.3h.9v.9h-.9zM73.8,269.2h.9v.9h-.9zM65.1,286.5h.9v.9h-.9zM66.6,294.7h.9v.9h-.9zM77.3,270.1h.9v.9h-.9zM64.3,292.9h.9v.9h-.9zM66.4,278.9h.9v.9h-.9zM68.3,291.8h.9v.9h-.9zM72.4,269.7h.9v.9h-.9zM78.7,277.0h.9v.9h-.9zM74.0,291.1h.9v.9h-.9zM72.1,273.0h.9v.9h-.9zM63.1,293.5h.9v.9h-.9zM70.5,283.8h.9v.9h-.9zM64.0,282.1h.9v.9h-.9zM71.6,286.6h.9v.9h-.9zM66.6,262.4h.9v.9h-.9zM76.5,270.6h.9v.9h-.9zM66.9,284.5h.9v.9h-.9zM77.4,273.1h.9v.9h-.9zM57.6,296.6h.9v.9h-.9zM61.6,294.7h.9v.9h-.9zM79.3,279.5h.9v.9h-.9zM66.5,287.2h.9v.9h-.9zM67.8,290.6h.9v.9h-.9zM57.5,294.2h.9v.9h-.9zM69.3,280.1h.9v.9h-.9zM67.3,282.9h.9v.9h-.9zM77.7,265.6h.9v.9h-.9zM65.9,293.5h.9v.9h-.9zM69.4,283.5h.9v.9h-.9zM80.3,263.7h.9v.9h-.9zM73.5,283.8h.9v.9h-.9zM71.6,283.3h.9v.9h-.9zM63.3,296.3h.9v.9h-.9zM72.7,278.8h.9v.9h-.9zM75.9,279.8h.9v.9h-.9zM60.0,296.6h.9v.9h-.9zM83.7,254.1h.9v.9h-.9zM70.2,287.3h.9v.9h-.9zM77.9,274.0h.9v.9h-.9zM69.0,289.6h.9v.9h-.9zM82.3,261.9h.9v.9h-.9zM70.0,286.5h.9v.9h-.9zM82.0,267.8h.9v.9h-.9zM78.0,262.6h.9v.9h-.9zM73.0,272.3h.9v.9h-.9zM72.0,279.3h.9v.9h-.9zM67.6,290.9h.9v.9h-.9zM66.4,299.4h.9v.9h-.9zM67.8,286.9h.9v.9h-.9zM69.1,284.8h.9v.9h-.9zM62.3,295.4h.9v.9h-.9zM80.5,270.7h.9v.9h-.9zM78.9,277.9h.9v.9h-.9zM70.6,287.0h.9v.9h-.9zM71.3,288.4h.9v.9h-.9zM77.4,277.6h.9v.9h-.9zM67.8,285.1h.9v.9h-.9zM80.1,269.9h.9v.9h-.9zM55.5,291.9h.9v.9h-.9zM66.0,282.4h.9v.9h-.9zM66.3,295.6h.9v.9h-.9zM70.6,291.8h.9v.9h-.9zM65.0,293.6h.9v.9h-.9zM72.9,281.0h.9v.9h-.9zM58.1,298.4h.9v.9h-.9zM77.3,278.2h.9v.9h-.9zM73.1,272.7h.9v.9h-.9zM65.1,280.0h.9v.9h-.9zM74.2,270.3h.9v.9h-.9zM69.2,275.8h.9v.9h-.9zM82.3,270.9h.9v.9h-.9zM77.2,280.3h.9v.9h-.9zM74.3,281.0h.9v.9h-.9zM63.5,294.3h.9v.9h-.9zM59.4,294.4h.9v.9h-.9zM66.1,293.4h.9v.9h-.9zM68.8,289.6h.9v.9h-.9zM65.7,276.9h.9v.9h-.9zM74.1,290.4h.9v.9h-.9zM73.1,270.1h.9v.9h-.9zM68.0,282.3h.9v.9h-.9zM66.3,281.2h.9v.9h-.9zM68.9,295.1h.9v.9h-.9zM67.3,296.5h.9v.9h-.9zM78.4,265.8h.9v.9h-.9zM74.8,270.9h.9v.9h-.9zM78.4,278.3h.9v.9h-.9zM70.2,273.4h.9v.9h-.9zM72.0,275.4h.9v.9h-.9zM53.9,288.5h.9v.9h-.9zM73.7,282.3h.9v.9h-.9zM62.5,283.1h.9v.9h-.9zM69.0,287.4h.9v.9h-.9zM76.0,278.1h.9v.9h-.9zM50.8,283.7h.9v.9h-.9zM72.0,280.1h.9v.9h-.9zM69.4,286.6h.9v.9h-.9zM72.8,281.4h.9v.9h-.9zM67.4,287.5h.9v.9h-.9zM71.5,283.8h.9v.9h-.9zM68.9,278.4h.9v.9h-.9zM75.9,283.9h.9v.9h-.9zM67.8,288.1h.9v.9h-.9zM69.6,281.3h.9v.9h-.9zM60.3,296.8h.9v.9h-.9zM75.6,274.2h.9v.9h-.9zM72.4,277.7h.9v.9h-.9zM71.2,291.1h.9v.9h-.9zM74.9,269.9h.9v.9h-.9zM66.3,286.5h.9v.9h-.9zM73.7,281.7h.9v.9h-.9zM76.7,272.7h.9v.9h-.9zM70.4,288.6h.9v.9h-.9zM63.1,299.7h.9v.9h-.9zM66.7,283.5h.9v.9h-.9zM56.4,294.1h.9v.9h-.9zM72.1,284.0h.9v.9h-.9zM64.9,295.2h.9v.9h-.9zM78.4,278.2h.9v.9h-.9zM64.8,287.1h.9v.9h-.9zM69.0,290.4h.9v.9h-.9zM71.1,285.8h.9v.9h-.9zM66.3,286.7h.9v.9h-.9zM74.0,277.7h.9v.9h-.9zM65.6,279.3h.9v.9h-.9zM72.4,295.2h.9v.9h-.9zM58.9,293.5h.9v.9h-.9zM65.8,282.8h.9v.9h-.9zM81.7,269.3h.9v.9h-.9zM78.5,268.0h.9v.9h-.9zM79.7,270.2h.9v.9h-.9zM75.1,270.6h.9v.9h-.9zM72.7,273.9h.9v.9h-.9zM72.1,288.1h.9v.9h-.9zM78.5,266.8h.9v.9h-.9zM67.6,291.2h.9v.9h-.9zM77.0,271.3h.9v.9h-.9zM80.7,279.4h.9v.9h-.9zM79.0,270.3h.9v.9h-.9zM76.3,286.1h.9v.9h-.9zM78.0,274.2h.9v.9h-.9zM62.4,289.3h.9v.9h-.9zM76.8,273.7h.9v.9h-.9zM68.9,289.9h.9v.9h-.9zM78.5,279.0h.9v.9h-.9zM69.9,292.6h.9v.9h-.9zM75.1,277.4h.9v.9h-.9zM67.3,279.5h.9v.9h-.9zM64.3,296.4h.9v.9h-.9zM67.9,295.7h.9v.9h-.9zM69.4,281.4h.9v.9h-.9zM67.6,284.7h.9v.9h-.9zM75.2,268.3h.9v.9h-.9zM64.5,286.6h.9v.9h-.9zM78.7,266.6h.9v.9h-.9zM64.5,288.7h.9v.9h-.9zM66.0,290.3h.9v.9h-.9zM66.3,292.1h.9v.9h-.9zM68.9,280.9h.9v.9h-.9zM57.8,293.4h.9v.9h-.9zM63.0,293.1h.9v.9h-.9zM67.4,291.4h.9v.9h-.9zM71.5,275.0h.9v.9h-.9zM67.2,291.2h.9v.9h-.9zM61.3,285.5h.9v.9h-.9zM76.6,271.7h.9v.9h-.9zM68.5,277.8h.9v.9h-.9zM74.3,273.0h.9v.9h-.9zM61.4,296.4h.9v.9h-.9zM72.5,288.3h.9v.9h-.9zM75.4,268.2h.9v.9h-.9zM69.8,288.8h.9v.9h-.9zM75.9,272.7h.9v.9h-.9zM66.3,302.1h.9v.9h-.9zM72.5,276.5h.9v.9h-.9zM66.9,297.8h.9v.9h-.9zM57.4,293.1h.9v.9h-.9zM69.8,287.0h.9v.9h-.9zM69.9,285.4h.9v.9h-.9zM74.1,275.3h.9v.9h-.9zM75.0,281.4h.9v.9h-.9zM73.1,273.5h.9v.9h-.9zM72.5,286.1h.9v.9h-.9zM62.2,298.8h.9v.9h-.9zM74.2,269.2h.9v.9h-.9zM71.0,282.6h.9v.9h-.9zM77.3,275.8h.9v.9h-.9zM73.6,287.1h.9v.9h-.9zM69.6,294.3h.9v.9h-.9zM64.0,297.7h.9v.9h-.9zM71.2,276.4h.9v.9h-.9zM64.2,292.3h.9v.9h-.9zM55.5,294.3h.9v.9h-.9zM79.5,289.6h.9v.9h-.9zM70.3,294.6h.9v.9h-.9zM73.7,282.0h.9v.9h-.9zM74.2,273.4h.9v.9h-.9zM64.9,299.4h.9v.9h-.9zM66.3,279.8h.9v.9h-.9zM72.6,286.9h.9v.9h-.9zM70.6,282.2h.9v.9h-.9zM71.9,282.5h.9v.9h-.9zM73.7,268.5h.9v.9h-.9zM79.7,268.1h.9v.9h-.9zM69.4,273.4h.9v.9h-.9zM65.6,281.4h.9v.9h-.9zM79.2,270.4h.9v.9h-.9zM68.3,289.3h.9v.9h-.9zM65.7,279.1h.9v.9h-.9zM73.4,275.5h.9v.9h-.9zM67.1,279.9h.9v.9h-.9zM62.7,293.4h.9v.9h-.9zM79.7,266.3h.9v.9h-.9zM67.1,300.7h.9v.9h-.9zM64.0,289.0h.9v.9h-.9zM77.7,264.2h.9v.9h-.9zM65.1,296.2h.9v.9h-.9zM63.4,294.2h.9v.9h-.9zM69.2,289.3h.9v.9h-.9zM56.8,295.8h.9v.9h-.9zM64.2,292.6h.9v.9h-.9zM72.7,286.6h.9v.9h-.9zM68.9,279.8h.9v.9h-.9zM69.4,274.0h.9v.9h-.9zM71.3,287.1h.9v.9h-.9zM68.0,281.8h.9v.9h-.9zM72.9,283.7h.9v.9h-.9zM57.8,295.8h.9v.9h-.9zM59.3,295.7h.9v.9h-.9zM65.1,299.4h.9v.9h-.9zM68.4,282.3h.9v.9h-.9zM55.2,293.9h.9v.9h-.9zM64.3,280.1h.9v.9h-.9zM73.9,272.0h.9v.9h-.9zM59.3,284.9h.9v.9h-.9zM70.2,277.5h.9v.9h-.9zM72.8,281.8h.9v.9h-.9zM75.4,277.3h.9v.9h-.9zM74.9,278.3h.9v.9h-.9zM70.8,269.1h.9v.9h-.9zM59.5,297.6h.9v.9h-.9zM76.6,267.5h.9v.9h-.9zM63.8,288.5h.9v.9h-.9zM58.1,289.4h.9v.9h-.9zM73.5,273.3h.9v.9h-.9zM70.3,294.0h.9v.9h-.9zM75.3,261.4h.9v.9h-.9zM78.2,262.1h.9v.9h-.9zM74.1,274.8h.9v.9h-.9zM62.6,295.0h.9v.9h-.9zM52.7,287.5h.9v.9h-.9zM77.0,275.7h.9v.9h-.9zM84.6,260.3h.9v.9h-.9zM65.9,288.8h.9v.9h-.9zM73.7,282.9h.9v.9h-.9zM69.9,275.7h.9v.9h-.9zM73.3,280.2h.9v.9h-.9zM68.2,271.6h.9v.9h-.9zM69.2,280.0h.9v.9h-.9zM66.1,283.9h.9v.9h-.9zM73.0,264.1h.9v.9h-.9zM63.1,297.3h.9v.9h-.9zM73.5,275.7h.9v.9h-.9zM69.4,297.1h.9v.9h-.9zM66.5,292.9h.9v.9h-.9zM62.3,271.2h.9v.9h-.9zM61.8,294.1h.9v.9h-.9zM72.1,267.0h.9v.9h-.9zM77.6,266.9h.9v.9h-.9zM71.4,287.6h.9v.9h-.9zM75.6,274.1h.9v.9h-.9zM67.2,290.2h.9v.9h-.9zM70.0,285.1h.9v.9h-.9zM81.4,262.1h.9v.9h-.9zM68.6,287.4h.9v.9h-.9zM65.2,294.0h.9v.9h-.9zM60.8,293.5h.9v.9h-.9zM70.8,277.4h.9v.9h-.9zM64.9,284.3h.9v.9h-.9zM71.6,279.8h.9v.9h-.9zM62.4,292.9h.9v.9h-.9zM68.0,294.4h.9v.9h-.9zM63.7,298.6h.9v.9h-.9zM84.0,277.4h.9v.9h-.9zM67.9,286.5h.9v.9h-.9zM62.6,291.5h.9v.9h-.9zM57.0,284.8h.9v.9h-.9zM85.5,257.8h.9v.9h-.9zM76.6,265.7h.9v.9h-.9zM69.4,287.9h.9v.9h-.9zM69.8,290.9h.9v.9h-.9zM64.9,285.9h.9v.9h-.9zM81.5,265.5h.9v.9h-.9zM58.5,286.3h.9v.9h-.9zM76.2,275.7h.9v.9h-.9zM64.8,291.7h.9v.9h-.9zM63.9,285.3h.9v.9h-.9zM67.8,293.3h.9v.9h-.9zM69.0,297.8h.9v.9h-.9zM68.8,297.6h.9v.9h-.9zM67.7,281.0h.9v.9h-.9zM70.3,292.3h.9v.9h-.9zM57.8,289.6h.9v.9h-.9zM71.5,283.0h.9v.9h-.9zM65.8,290.3h.9v.9h-.9zM70.4,277.8h.9v.9h-.9zM73.2,281.9h.9v.9h-.9zM66.0,297.9h.9v.9h-.9zM55.4,289.7h.9v.9h-.9zM62.1,299.1h.9v.9h-.9zM61.7,292.4h.9v.9h-.9zM76.6,275.1h.9v.9h-.9zM70.7,278.3h.9v.9h-.9zM67.0,300.3h.9v.9h-.9zM60.5,289.9h.9v.9h-.9zM79.0,274.3h.9v.9h-.9zM76.7,279.6h.9v.9h-.9zM68.7,286.2h.9v.9h-.9zM71.2,281.5h.9v.9h-.9zM56.9,293.6h.9v.9h-.9zM65.8,294.4h.9v.9h-.9zM75.7,271.0h.9v.9h-.9zM74.8,270.3h.9v.9h-.9zM74.5,279.0h.9v.9h-.9zM70.2,288.9h.9v.9h-.9zM62.8,293.5h.9v.9h-.9zM63.4,300.3h.9v.9h-.9zM66.9,286.6h.9v.9h-.9zM70.7,290.8h.9v.9h-.9zM65.6,282.1h.9v.9h-.9zM79.7,264.8h.9v.9h-.9zM61.3,283.1h.9v.9h-.9zM74.1,278.5h.9v.9h-.9zM64.2,297.0h.9v.9h-.9zM80.2,272.2h.9v.9h-.9zM75.0,268.8h.9v.9h-.9zM64.3,288.8h.9v.9h-.9zM66.1,283.0h.9v.9h-.9zM78.0,275.5h.9v.9h-.9zM75.4,287.8h.9v.9h-.9zM62.5,290.5h.9v.9h-.9zM62.5,295.1h.9v.9h-.9zM78.1,264.9h.9v.9h-.9zM81.3,258.8h.9v.9h-.9zM75.0,278.5h.9v.9h-.9zM74.6,278.9h.9v.9h-.9zM70.6,282.2h.9v.9h-.9zM68.4,293.0h.9v.9h-.9zM71.1,286.4h.9v.9h-.9zM74.8,266.3h.9v.9h-.9zM84.3,261.9h.9v.9h-.9zM75.1,265.1h.9v.9h-.9zM77.4,274.7h.9v.9h-.9zM73.3,273.4h.9v.9h-.9zM75.1,277.8h.9v.9h-.9zM67.1,281.1h.9v.9h-.9zM73.3,281.0h.9v.9h-.9zM75.8,278.2h.9v.9h-.9zM79.2,272.9h.9v.9h-.9zM62.9,290.2h.9v.9h-.9zM73.3,276.5h.9v.9h-.9zM74.6,270.9h.9v.9h-.9zM83.8,258.1h.9v.9h-.9zM68.4,287.4h.9v.9h-.9zM69.5,274.8h.9v.9h-.9zM81.2,266.8h.9v.9h-.9zM74.1,279.7h.9v.9h-.9zM59.2,292.2h.9v.9h-.9zM78.5,265.9h.9v.9h-.9zM64.5,288.6h.9v.9h-.9zM65.7,282.1h.9v.9h-.9zM76.0,273.7h.9v.9h-.9zM62.1,296.8h.9v.9h-.9zM74.7,273.2h.9v.9h-.9zM67.6,295.7h.9v.9h-.9zM66.5,290.0h.9v.9h-.9zM78.7,271.5h.9v.9h-.9zM65.0,289.4h.9v.9h-.9zM82.3,266.7h.9v.9h-.9zM78.9,258.0h.9v.9h-.9zM65.7,285.0h.9v.9h-.9zM70.7,286.4h.9v.9h-.9zM63.5,296.6h.9v.9h-.9zM66.6,286.1h.9v.9h-.9zM72.3,275.9h.9v.9h-.9zM71.2,276.0h.9v.9h-.9zM73.2,286.1h.9v.9h-.9zM63.8,292.5h.9v.9h-.9zM68.6,277.7h.9v.9h-.9zM79.1,267.9h.9v.9h-.9zM67.4,293.5h.9v.9h-.9zM64.5,298.9h.9v.9h-.9zM74.9,279.7h.9v.9h-.9zM72.6,284.1h.9v.9h-.9zM72.4,278.3h.9v.9h-.9zM77.0,266.5h.9v.9h-.9zM76.5,278.7h.9v.9h-.9zM80.2,289.6h.9v.9h-.9zM69.4,281.6h.9v.9h-.9zM75.5,279.2h.9v.9h-.9zM80.3,267.1h.9v.9h-.9zM65.2,279.2h.9v.9h-.9zM70.6,274.3h.9v.9h-.9zM67.0,278.7h.9v.9h-.9zM75.0,268.8h.9v.9h-.9zM71.9,294.3h.9v.9h-.9zM66.4,286.3h.9v.9h-.9zM83.3,260.8h.9v.9h-.9zM78.3,268.9h.9v.9h-.9zM66.0,303.1h.9v.9h-.9zM65.8,282.3h.9v.9h-.9zM69.1,295.5h.9v.9h-.9zM58.7,296.3h.9v.9h-.9zM69.5,279.2h.9v.9h-.9zM77.4,270.6h.9v.9h-.9zM72.4,287.9h.9v.9h-.9zM67.9,284.1h.9v.9h-.9zM83.7,271.6h.9v.9h-.9zM65.2,293.8h.9v.9h-.9zM61.9,289.3h.9v.9h-.9zM70.5,278.1h.9v.9h-.9zM75.3,271.4h.9v.9h-.9zM74.6,284.9h.9v.9h-.9zM60.9,283.5h.9v.9h-.9zM72.1,281.9h.9v.9h-.9zM58.0,294.6h.9v.9h-.9zM64.7,286.5h.9v.9h-.9zM65.9,289.0h.9v.9h-.9zM64.8,296.7h.9v.9h-.9zM70.7,269.6h.9v.9h-.9zM66.9,294.1h.9v.9h-.9zM71.3,283.8h.9v.9h-.9zM77.1,294.3h.9v.9h-.9zM74.5,258.7h.9v.9h-.9zM75.7,280.0h.9v.9h-.9zM76.2,267.3h.9v.9h-.9zM59.1,291.2h.9v.9h-.9zM90.4,250.0h.9v.9h-.9zM70.8,282.5h.9v.9h-.9zM62.2,283.1h.9v.9h-.9zM54.6,290.4h.9v.9h-.9zM55.4,295.6h.9v.9h-.9zM70.6,279.1h.9v.9h-.9zM68.6,295.0h.9v.9h-.9zM64.1,298.8h.9v.9h-.9zM67.8,283.9h.9v.9h-.9zM84.9,252.9h.9v.9h-.9zM65.2,293.3h.9v.9h-.9zM56.0,294.9h.9v.9h-.9zM64.8,288.6h.9v.9h-.9zM65.4,297.8h.9v.9h-.9zM73.9,271.0h.9v.9h-.9zM69.3,293.0h.9v.9h-.9zM70.6,280.0h.9v.9h-.9zM71.5,291.3h.9v.9h-.9zM81.7,264.0h.9v.9h-.9zM79.5,273.5h.9v.9h-.9zM67.7,284.7h.9v.9h-.9zM68.0,280.2h.9v.9h-.9zM58.8,295.9h.9v.9h-.9zM65.5,296.0h.9v.9h-.9zM69.5,284.6h.9v.9h-.9zM65.4,298.6h.9v.9h-.9zM76.4,273.5h.9v.9h-.9zM65.6,292.2h.9v.9h-.9zM69.5,278.2h.9v.9h-.9zM65.9,282.8h.9v.9h-.9zM68.3,284.9h.9v.9h-.9zM73.8,273.1h.9v.9h-.9zM67.9,291.1h.9v.9h-.9zM61.6,298.1h.9v.9h-.9zM60.5,296.4h.9v.9h-.9zM68.7,265.2h.9v.9h-.9zM57.5,297.0h.9v.9h-.9zM74.8,289.9h.9v.9h-.9zM75.4,278.5h.9v.9h-.9zM65.7,290.8h.9v.9h-.9zM63.3,297.3h.9v.9h-.9zM72.2,275.5h.9v.9h-.9zM68.3,286.8h.9v.9h-.9zM74.3,266.9h.9v.9h-.9zM68.5,290.3h.9v.9h-.9zM79.2,272.5h.9v.9h-.9zM69.8,285.4h.9v.9h-.9zM62.4,285.3h.9v.9h-.9zM71.6,285.5h.9v.9h-.9zM62.3,300.1h.9v.9h-.9zM74.1,275.8h.9v.9h-.9zM68.3,287.9h.9v.9h-.9zM57.9,294.7h.9v.9h-.9zM70.2,292.1h.9v.9h-.9zM74.8,268.6h.9v.9h-.9zM71.2,283.6h.9v.9h-.9zM74.4,277.2h.9v.9h-.9zM66.0,281.8h.9v.9h-.9zM64.3,294.3h.9v.9h-.9zM60.9,279.1h.9v.9h-.9zM73.1,268.1h.9v.9h-.9zM82.3,258.1h.9v.9h-.9zM82.0,269.3h.9v.9h-.9zM79.9,267.3h.9v.9h-.9zM68.2,278.1h.9v.9h-.9zM77.5,270.3h.9v.9h-.9zM83.5,266.2h.9v.9h-.9zM62.0,287.4h.9v.9h-.9zM72.1,279.0h.9v.9h-.9zM72.0,276.3h.9v.9h-.9zM69.9,283.6h.9v.9h-.9zM78.3,268.3h.9v.9h-.9zM66.1,287.4h.9v.9h-.9zM80.0,263.4h.9v.9h-.9zM70.5,283.6h.9v.9h-.9zM71.8,284.2h.9v.9h-.9zM66.7,295.7h.9v.9h-.9zM64.1,295.7h.9v.9h-.9zM70.8,284.7h.9v.9h-.9zM77.5,277.9h.9v.9h-.9zM72.5,282.8h.9v.9h-.9zM73.4,272.8h.9v.9h-.9zM58.5,295.1h.9v.9h-.9zM63.2,292.7h.9v.9h-.9zM69.5,291.1h.9v.9h-.9zM76.2,274.5h.9v.9h-.9zM64.9,291.2h.9v.9h-.9zM64.2,291.5h.9v.9h-.9zM77.3,268.5h.9v.9h-.9zM70.1,277.2h.9v.9h-.9zM63.9,284.7h.9v.9h-.9zM69.9,278.7h.9v.9h-.9zM62.1,271.3h.9v.9h-.9zM70.8,277.4h.9v.9h-.9zM64.8,288.4h.9v.9h-.9zM76.6,270.5h.9v.9h-.9zM63.8,293.9h.9v.9h-.9zM64.1,298.0h.9v.9h-.9zM67.8,298.9h.9v.9h-.9zM69.8,276.9h.9v.9h-.9zM69.2,279.0h.9v.9h-.9zM63.3,294.7h.9v.9h-.9zM75.2,265.7h.9v.9h-.9zM72.7,282.2h.9v.9h-.9zM77.5,280.7h.9v.9h-.9zM60.6,289.3h.9v.9h-.9zM73.7,280.7h.9v.9h-.9zM64.1,282.7h.9v.9h-.9zM61.9,293.2h.9v.9h-.9zM68.4,288.5h.9v.9h-.9zM84.8,259.9h.9v.9h-.9zM78.4,273.9h.9v.9h-.9zM60.3,288.9h.9v.9h-.9zM65.8,280.9h.9v.9h-.9zM82.2,263.7h.9v.9h-.9zM66.4,291.6h.9v.9h-.9zM76.3,274.2h.9v.9h-.9zM70.0,275.4h.9v.9h-.9zM69.7,293.9h.9v.9h-.9zM74.3,284.6h.9v.9h-.9zM81.3,261.6h.9v.9h-.9zM74.7,282.3h.9v.9h-.9zM70.2,282.2h.9v.9h-.9zM70.5,275.8h.9v.9h-.9zM71.2,280.5h.9v.9h-.9zM74.3,275.3h.9v.9h-.9zM67.6,291.9h.9v.9h-.9zM75.5,271.8h.9v.9h-.9zM79.0,264.2h.9v.9h-.9zM81.7,266.9h.9v.9h-.9zM71.1,277.7h.9v.9h-.9zM68.2,284.1h.9v.9h-.9zM64.5,289.2h.9v.9h-.9zM56.1,296.7h.9v.9h-.9zM70.4,281.4h.9v.9h-.9zM63.3,283.9h.9v.9h-.9zM64.8,288.9h.9v.9h-.9zM70.3,291.5h.9v.9h-.9zM66.3,285.9h.9v.9h-.9zM74.5,276.2h.9v.9h-.9zM68.2,277.2h.9v.9h-.9zM76.0,273.8h.9v.9h-.9zM73.7,281.8h.9v.9h-.9zM78.4,273.0h.9v.9h-.9zM60.2,287.8h.9v.9h-.9zM61.5,289.8h.9v.9h-.9zM73.5,278.8h.9v.9h-.9zM69.7,281.4h.9v.9h-.9zM79.9,271.9h.9v.9h-.9zM68.4,279.4h.9v.9h-.9zM68.6,293.5h.9v.9h-.9zM69.1,282.4h.9v.9h-.9zM74.0,266.5h.9v.9h-.9zM64.9,298.5h.9v.9h-.9zM66.0,278.5h.9v.9h-.9zM63.5,294.5h.9v.9h-.9zM71.1,271.4h.9v.9h-.9zM65.8,291.4h.9v.9h-.9zM70.3,278.5h.9v.9h-.9zM63.3,294.3h.9v.9h-.9zM78.2,282.8h.9v.9h-.9zM76.7,273.0h.9v.9h-.9zM67.5,282.1h.9v.9h-.9zM67.1,287.8h.9v.9h-.9zM79.2,259.5h.9v.9h-.9zM60.4,294.0h.9v.9h-.9zM80.7,264.4h.9v.9h-.9zM78.5,271.7h.9v.9h-.9zM83.4,254.9h.9v.9h-.9zM78.9,280.0h.9v.9h-.9zM62.2,291.9h.9v.9h-.9zM78.4,270.3h.9v.9h-.9zM66.2,286.9h.9v.9h-.9zM77.6,271.2h.9v.9h-.9zM62.3,295.7h.9v.9h-.9zM72.9,280.6h.9v.9h-.9zM62.9,299.4h.9v.9h-.9zM77.2,269.5h.9v.9h-.9zM63.9,298.2h.9v.9h-.9zM68.8,283.5h.9v.9h-.9zM74.2,273.6h.9v.9h-.9zM66.6,287.9h.9v.9h-.9zM64.4,294.3h.9v.9h-.9zM68.6,287.8h.9v.9h-.9zM71.5,283.9h.9v.9h-.9zM77.6,265.7h.9v.9h-.9zM73.6,291.4h.9v.9h-.9zM61.6,298.0h.9v.9h-.9zM77.0,268.6h.9v.9h-.9zM58.2,289.7h.9v.9h-.9zM60.5,292.4h.9v.9h-.9zM64.3,290.4h.9v.9h-.9zM72.1,292.6h.9v.9h-.9zM65.4,288.4h.9v.9h-.9zM68.5,281.4h.9v.9h-.9zM75.0,280.9h.9v.9h-.9zM65.4,291.4h.9v.9h-.9zM67.8,299.9h.9v.9h-.9zM63.0,284.5h.9v.9h-.9zM79.4,274.3h.9v.9h-.9zM80.0,267.8h.9v.9h-.9zM71.6,268.6h.9v.9h-.9zM72.6,279.7h.9v.9h-.9zM67.6,280.9h.9v.9h-.9zM78.0,270.1h.9v.9h-.9zM79.0,271.4h.9v.9h-.9zM67.4,284.1h.9v.9h-.9zM66.9,278.2h.9v.9h-.9zM59.2,282.5h.9v.9h-.9zM70.9,271.9h.9v.9h-.9zM58.8,298.2h.9v.9h-.9zM71.1,281.2h.9v.9h-.9zM59.6,287.8h.9v.9h-.9zM74.0,277.3h.9v.9h-.9zM76.9,289.5h.9v.9h-.9zM71.1,292.3h.9v.9h-.9zM77.0,285.9h.9v.9h-.9zM71.5,288.3h.9v.9h-.9zM80.7,293.7h.9v.9h-.9zM73.5,274.5h.9v.9h-.9zM67.1,298.3h.9v.9h-.9zM71.1,277.7h.9v.9h-.9zM67.1,275.8h.9v.9h-.9zM69.1,284.0h.9v.9h-.9zM65.2,288.9h.9v.9h-.9zM67.1,288.4h.9v.9h-.9zM71.1,282.8h.9v.9h-.9zM75.3,271.5h.9v.9h-.9zM68.2,286.0h.9v.9h-.9zM75.6,263.7h.9v.9h-.9zM81.6,259.3h.9v.9h-.9zM60.9,292.1h.9v.9h-.9zM69.7,280.4h.9v.9h-.9zM65.6,297.5h.9v.9h-.9zM75.6,266.0h.9v.9h-.9zM81.9,265.5h.9v.9h-.9zM75.9,277.6h.9v.9h-.9zM61.6,284.6h.9v.9h-.9zM68.4,281.6h.9v.9h-.9zM74.5,281.2h.9v.9h-.9zM71.5,280.2h.9v.9h-.9zM62.0,294.8h.9v.9h-.9zM78.2,260.0h.9v.9h-.9zM62.6,288.8h.9v.9h-.9zM70.7,285.3h.9v.9h-.9zM75.3,273.7h.9v.9h-.9zM74.2,276.1h.9v.9h-.9zM69.2,283.7h.9v.9h-.9zM65.7,283.2h.9v.9h-.9zM82.2,268.8h.9v.9h-.9zM63.3,286.6h.9v.9h-.9zM71.2,287.3h.9v.9h-.9zM71.8,278.1h.9v.9h-.9zM74.0,301.0h.9v.9h-.9zM71.6,280.1h.9v.9h-.9zM69.6,274.8h.9v.9h-.9zM60.8,300.0h.9v.9h-.9zM74.9,272.7h.9v.9h-.9zM73.5,286.1h.9v.9h-.9zM67.7,276.2h.9v.9h-.9zM70.2,273.5h.9v.9h-.9zM57.9,292.3h.9v.9h-.9zM68.3,293.3h.9v.9h-.9zM70.5,274.4h.9v.9h-.9zM67.8,291.1h.9v.9h-.9zM69.9,283.6h.9v.9h-.9zM55.5,282.7h.9v.9h-.9zM68.0,289.5h.9v.9h-.9zM78.3,271.1h.9v.9h-.9zM61.5,282.7h.9v.9h-.9zM59.0,282.5h.9v.9h-.9zM71.7,279.5h.9v.9h-.9zM63.2,291.8h.9v.9h-.9zM60.9,294.8h.9v.9h-.9zM77.7,267.5h.9v.9h-.9zM74.8,275.8h.9v.9h-.9zM61.3,288.2h.9v.9h-.9zM67.4,278.8h.9v.9h-.9zM80.0,270.0h.9v.9h-.9zM64.7,296.9h.9v.9h-.9zM71.0,271.4h.9v.9h-.9zM78.7,284.4h.9v.9h-.9zM69.6,287.8h.9v.9h-.9zM67.1,277.1h.9v.9h-.9zM57.3,293.0h.9v.9h-.9zM64.8,296.4h.9v.9h-.9zM85.2,269.3h.9v.9h-.9zM74.7,270.3h.9v.9h-.9zM75.0,271.3h.9v.9h-.9zM76.0,269.3h.9v.9h-.9zM54.3,280.3h.9v.9h-.9zM80.0,267.9h.9v.9h-.9zM73.7,281.4h.9v.9h-.9zM77.2,276.2h.9v.9h-.9zM76.8,267.1h.9v.9h-.9zM64.8,284.7h.9v.9h-.9zM78.7,268.0h.9v.9h-.9zM76.7,281.2h.9v.9h-.9zM75.7,271.6h.9v.9h-.9zM66.5,290.7h.9v.9h-.9zM61.3,299.5h.9v.9h-.9zM63.6,280.4h.9v.9h-.9zM81.0,265.1h.9v.9h-.9zM72.4,285.0h.9v.9h-.9zM80.2,259.7h.9v.9h-.9zM71.6,267.1h.9v.9h-.9zM66.6,285.7h.9v.9h-.9zM68.3,295.5h.9v.9h-.9zM62.9,299.8h.9v.9h-.9zM75.7,278.2h.9v.9h-.9zM75.7,266.0h.9v.9h-.9zM71.3,284.4h.9v.9h-.9zM65.2,287.0h.9v.9h-.9zM68.9,279.2h.9v.9h-.9zM65.9,279.2h.9v.9h-.9zM76.2,280.0h.9v.9h-.9zM73.7,272.1h.9v.9h-.9zM66.2,287.7h.9v.9h-.9zM66.9,268.9h.9v.9h-.9zM67.6,293.3h.9v.9h-.9zM78.4,268.0h.9v.9h-.9zM73.6,274.6h.9v.9h-.9zM67.8,293.9h.9v.9h-.9zM71.2,276.7h.9v.9h-.9zM66.3,288.1h.9v.9h-.9zM75.2,268.6h.9v.9h-.9zM65.9,282.2h.9v.9h-.9zM63.0,298.7h.9v.9h-.9zM73.5,271.2h.9v.9h-.9zM76.4,288.8h.9v.9h-.9zM60.3,297.9h.9v.9h-.9zM58.7,288.6h.9v.9h-.9zM71.7,282.2h.9v.9h-.9zM66.4,284.2h.9v.9h-.9zM70.8,279.4h.9v.9h-.9zM63.0,299.1h.9v.9h-.9zM77.5,262.9h.9v.9h-.9zM67.5,294.5h.9v.9h-.9zM75.4,262.6h.9v.9h-.9zM76.9,282.6h.9v.9h-.9zM71.0,285.1h.9v.9h-.9zM69.9,284.6h.9v.9h-.9zM62.9,290.4h.9v.9h-.9zM72.9,272.1h.9v.9h-.9zM66.0,297.4h.9v.9h-.9zM63.7,290.6h.9v.9h-.9zM61.8,283.6h.9v.9h-.9zM72.5,271.7h.9v.9h-.9zM62.1,290.4h.9v.9h-.9zM66.3,285.8h.9v.9h-.9zM68.2,298.7h.9v.9h-.9zM75.1,272.5h.9v.9h-.9zM67.1,282.2h.9v.9h-.9zM74.1,272.5h.9v.9h-.9zM62.3,285.9h.9v.9h-.9zM58.9,291.3h.9v.9h-.9zM59.0,287.1h.9v.9h-.9zM70.1,271.0h.9v.9h-.9zM68.8,284.4h.9v.9h-.9zM68.9,284.9h.9v.9h-.9zM70.0,284.7h.9v.9h-.9zM77.8,273.8h.9v.9h-.9zM67.5,279.9h.9v.9h-.9zM71.2,285.5h.9v.9h-.9zM68.4,300.0h.9v.9h-.9zM75.1,281.6h.9v.9h-.9zM66.8,291.3h.9v.9h-.9zM69.9,292.2h.9v.9h-.9zM69.2,297.6h.9v.9h-.9zM73.2,273.8h.9v.9h-.9zM81.6,261.0h.9v.9h-.9zM66.6,286.7h.9v.9h-.9zM55.9,292.6h.9v.9h-.9zM65.0,277.4h.9v.9h-.9zM74.6,279.5h.9v.9h-.9zM81.0,262.8h.9v.9h-.9zM74.2,273.8h.9v.9h-.9zM60.0,293.8h.9v.9h-.9zM74.7,268.5h.9v.9h-.9zM85.9,274.6h.9v.9h-.9zM75.1,273.7h.9v.9h-.9zM67.6,284.0h.9v.9h-.9zM75.5,277.3h.9v.9h-.9zM85.3,258.0h.9v.9h-.9zM61.5,282.6h.9v.9h-.9zM58.4,289.9h.9v.9h-.9zM64.2,292.1h.9v.9h-.9zM71.4,283.6h.9v.9h-.9zM62.8,299.9h.9v.9h-.9zM62.1,296.7h.9v.9h-.9zM69.6,270.8h.9v.9h-.9zM74.5,277.0h.9v.9h-.9zM63.7,295.6h.9v.9h-.9zM80.1,265.7h.9v.9h-.9zM72.4,272.7h.9v.9h-.9zM73.2,281.9h.9v.9h-.9zM64.5,286.3h.9v.9h-.9zM65.9,296.5h.9v.9h-.9zM64.0,289.3h.9v.9h-.9zM76.9,270.7h.9v.9h-.9zM67.4,282.6h.9v.9h-.9zM73.7,281.8h.9v.9h-.9zM74.4,280.8h.9v.9h-.9zM59.6,289.4h.9v.9h-.9zM67.4,293.9h.9v.9h-.9zM60.7,281.6h.9v.9h-.9zM67.6,290.2h.9v.9h-.9zM71.2,276.6h.9v.9h-.9zM78.0,262.1h.9v.9h-.9zM68.4,282.1h.9v.9h-.9zM60.8,299.2h.9v.9h-.9zM76.5,274.0h.9v.9h-.9zM65.5,281.2h.9v.9h-.9zM60.5,293.0h.9v.9h-.9zM67.0,302.6h.9v.9h-.9zM66.6,287.0h.9v.9h-.9zM72.5,282.1h.9v.9h-.9zM73.4,267.3h.9v.9h-.9zM71.1,295.2h.9v.9h-.9zM60.0,291.9h.9v.9h-.9zM59.7,295.0h.9v.9h-.9zM67.3,302.4h.9v.9h-.9zM81.9,267.2h.9v.9h-.9zM72.1,276.4h.9v.9h-.9zM72.6,283.6h.9v.9h-.9zM65.5,285.6h.9v.9h-.9zM67.9,288.8h.9v.9h-.9zM68.1,287.3h.9v.9h-.9zM73.3,272.7h.9v.9h-.9zM72.1,276.2h.9v.9h-.9zM73.6,276.0h.9v.9h-.9zM66.9,280.0h.9v.9h-.9zM58.8,282.7h.9v.9h-.9zM68.8,292.3h.9v.9h-.9zM77.5,284.7h.9v.9h-.9zM72.5,278.9h.9v.9h-.9zM62.4,297.9h.9v.9h-.9zM68.4,288.1h.9v.9h-.9zM74.5,277.3h.9v.9h-.9zM75.9,264.9h.9v.9h-.9zM63.5,282.1h.9v.9h-.9zM68.3,290.4h.9v.9h-.9zM65.3,290.2h.9v.9h-.9zM72.2,282.2h.9v.9h-.9zM76.9,293.4h.9v.9h-.9zM62.9,280.1h.9v.9h-.9zM69.2,279.3h.9v.9h-.9zM68.7,273.7h.9v.9h-.9zM67.4,286.7h.9v.9h-.9zM84.2,261.2h.9v.9h-.9zM68.5,282.1h.9v.9h-.9zM66.3,288.0h.9v.9h-.9zM73.6,278.8h.9v.9h-.9zM74.2,267.4h.9v.9h-.9zM72.5,282.8h.9v.9h-.9zM71.0,274.2h.9v.9h-.9zM55.4,293.7h.9v.9h-.9zM67.0,289.5h.9v.9h-.9zM72.7,291.0h.9v.9h-.9zM76.0,265.4h.9v.9h-.9zM67.3,290.0h.9v.9h-.9zM76.3,265.0h.9v.9h-.9zM76.4,279.4h.9v.9h-.9zM64.6,287.0h.9v.9h-.9zM68.9,290.0h.9v.9h-.9zM74.5,274.4h.9v.9h-.9zM68.2,285.1h.9v.9h-.9zM71.1,285.0h.9v.9h-.9zM59.6,299.5h.9v.9h-.9zM67.6,288.2h.9v.9h-.9zM60.1,291.0h.9v.9h-.9zM58.9,296.7h.9v.9h-.9zM67.1,282.4h.9v.9h-.9zM74.2,278.0h.9v.9h-.9zM73.7,262.4h.9v.9h-.9zM73.7,274.2h.9v.9h-.9zM57.5,289.2h.9v.9h-.9zM65.2,300.4h.9v.9h-.9zM77.2,266.5h.9v.9h-.9zM65.3,289.6h.9v.9h-.9zM71.6,280.8h.9v.9h-.9zM68.5,293.8h.9v.9h-.9zM68.6,280.8h.9v.9h-.9zM66.3,281.8h.9v.9h-.9zM69.8,280.5h.9v.9h-.9zM68.4,283.4h.9v.9h-.9zM75.6,273.8h.9v.9h-.9zM76.7,272.7h.9v.9h-.9zM63.4,294.5h.9v.9h-.9zM72.4,272.4h.9v.9h-.9zM78.5,268.9h.9v.9h-.9zM65.9,295.2h.9v.9h-.9zM60.8,292.0h.9v.9h-.9zM64.7,291.6h.9v.9h-.9zM65.9,283.0h.9v.9h-.9zM72.1,272.8h.9v.9h-.9zM79.0,264.6h.9v.9h-.9zM74.5,282.4h.9v.9h-.9zM71.0,280.7h.9v.9h-.9zM70.9,288.8h.9v.9h-.9zM60.4,287.3h.9v.9h-.9zM80.6,265.3h.9v.9h-.9zM74.8,272.5h.9v.9h-.9zM67.0,277.8h.9v.9h-.9zM70.2,271.6h.9v.9h-.9zM83.6,257.0h.9v.9h-.9zM63.7,281.2h.9v.9h-.9zM82.8,256.0h.9v.9h-.9zM74.1,282.9h.9v.9h-.9zM68.6,283.7h.9v.9h-.9zM57.0,281.3h.9v.9h-.9zM77.6,291.8h.9v.9h-.9zM83.8,264.8h.9v.9h-.9zM61.5,291.9h.9v.9h-.9zM73.9,272.3h.9v.9h-.9zM71.0,280.6h.9v.9h-.9zM63.6,294.5h.9v.9h-.9zM61.6,287.3h.9v.9h-.9zM70.7,297.0h.9v.9h-.9zM69.2,290.2h.9v.9h-.9zM68.3,294.0h.9v.9h-.9zM67.9,284.0h.9v.9h-.9zM60.3,296.4h.9v.9h-.9zM70.8,299.2h.9v.9h-.9zM77.0,278.5h.9v.9h-.9zM81.6,266.6h.9v.9h-.9zM81.4,256.2h.9v.9h-.9zM76.2,271.9h.9v.9h-.9zM53.9,291.6h.9v.9h-.9zM66.7,288.5h.9v.9h-.9zM75.0,278.8h.9v.9h-.9zM67.6,278.1h.9v.9h-.9zM63.8,292.0h.9v.9h-.9zM79.8,271.5h.9v.9h-.9zM75.2,275.7h.9v.9h-.9zM78.7,269.6h.9v.9h-.9zM81.8,256.7h.9v.9h-.9zM66.5,285.9h.9v.9h-.9zM71.9,285.2h.9v.9h-.9zM65.7,276.2h.9v.9h-.9zM64.8,294.7h.9v.9h-.9zM74.5,266.7h.9v.9h-.9zM62.8,292.2h.9v.9h-.9zM78.0,282.8h.9v.9h-.9zM73.0,284.3h.9v.9h-.9zM72.0,277.0h.9v.9h-.9zM85.3,258.5h.9v.9h-.9zM66.6,283.0h.9v.9h-.9zM78.4,268.7h.9v.9h-.9zM65.2,298.5h.9v.9h-.9zM76.6,264.3h.9v.9h-.9zM66.8,293.6h.9v.9h-.9zM56.9,295.2h.9v.9h-.9zM74.5,269.2h.9v.9h-.9zM78.2,274.9h.9v.9h-.9zM79.9,257.6h.9v.9h-.9zM72.5,281.8h.9v.9h-.9zM67.7,295.9h.9v.9h-.9zM68.4,301.9h.9v.9h-.9zM69.8,286.9h.9v.9h-.9zM75.7,281.7h.9v.9h-.9zM73.2,270.7h.9v.9h-.9zM76.3,276.1h.9v.9h-.9zM73.4,273.7h.9v.9h-.9zM71.2,284.7h.9v.9h-.9zM67.6,285.6h.9v.9h-.9zM70.4,283.4h.9v.9h-.9zM65.2,290.7h.9v.9h-.9zM75.8,265.1h.9v.9h-.9zM66.7,280.8h.9v.9h-.9zM70.2,276.9h.9v.9h-.9zM62.8,279.7h.9v.9h-.9zM57.6,286.6h.9v.9h-.9zM80.2,299.3h.9v.9h-.9zM62.1,282.3h.9v.9h-.9zM59.4,298.3h.9v.9h-.9zM82.8,259.2h.9v.9h-.9zM79.4,269.0h.9v.9h-.9zM77.9,285.7h.9v.9h-.9zM66.1,290.5h.9v.9h-.9zM63.0,288.6h.9v.9h-.9zM78.9,268.3h.9v.9h-.9zM74.8,286.2h.9v.9h-.9zM74.3,274.2h.9v.9h-.9zM76.5,280.1h.9v.9h-.9zM76.3,279.1h.9v.9h-.9zM72.5,272.5h.9v.9h-.9zM74.7,272.8h.9v.9h-.9zM66.5,296.7h.9v.9h-.9zM75.2,282.9h.9v.9h-.9zM60.9,296.8h.9v.9h-.9zM61.3,297.2h.9v.9h-.9zM65.5,281.8h.9v.9h-.9zM64.4,287.2h.9v.9h-.9zM66.8,293.1h.9v.9h-.9zM66.8,291.6h.9v.9h-.9zM75.5,265.4h.9v.9h-.9zM66.8,295.1h.9v.9h-.9zM74.6,275.1h.9v.9h-.9zM67.9,287.0h.9v.9h-.9zM73.6,276.6h.9v.9h-.9zM65.7,288.5h.9v.9h-.9zM72.5,275.8h.9v.9h-.9zM67.0,296.0h.9v.9h-.9zM67.8,295.0h.9v.9h-.9zM68.0,289.5h.9v.9h-.9zM69.4,285.8h.9v.9h-.9zM79.4,271.0h.9v.9h-.9zM56.7,289.8h.9v.9h-.9zM64.1,284.7h.9v.9h-.9zM67.0,287.7h.9v.9h-.9zM76.8,269.5h.9v.9h-.9zM60.3,285.5h.9v.9h-.9zM61.4,295.0h.9v.9h-.9zM65.4,291.0h.9v.9h-.9zM77.2,287.9h.9v.9h-.9zM52.4,292.2h.9v.9h-.9zM66.1,280.2h.9v.9h-.9zM68.3,288.6h.9v.9h-.9zM60.9,293.9h.9v.9h-.9zM72.9,285.6h.9v.9h-.9zM65.3,279.3h.9v.9h-.9zM71.0,282.7h.9v.9h-.9zM78.4,264.0h.9v.9h-.9zM65.4,281.9h.9v.9h-.9zM70.9,291.9h.9v.9h-.9zM77.0,274.1h.9v.9h-.9zM75.2,279.3h.9v.9h-.9zM70.9,286.1h.9v.9h-.9zM67.7,280.8h.9v.9h-.9zM67.6,285.6h.9v.9h-.9zM65.2,291.3h.9v.9h-.9zM69.4,289.3h.9v.9h-.9zM67.1,296.9h.9v.9h-.9zM77.1,273.4h.9v.9h-.9zM73.6,281.8h.9v.9h-.9zM70.8,268.9h.9v.9h-.9zM72.2,277.0h.9v.9h-.9zM78.5,270.8h.9v.9h-.9zM80.1,265.2h.9v.9h-.9zM76.1,270.5h.9v.9h-.9zM74.9,283.7h.9v.9h-.9zM74.3,278.6h.9v.9h-.9zM66.7,287.4h.9v.9h-.9zM72.7,293.3h.9v.9h-.9zM61.6,288.3h.9v.9h-.9zM83.8,260.3h.9v.9h-.9zM72.9,280.2h.9v.9h-.9zM73.1,264.3h.9v.9h-.9zM67.7,286.6h.9v.9h-.9zM76.7,267.4h.9v.9h-.9zM73.3,272.4h.9v.9h-.9zM79.5,269.6h.9v.9h-.9zM78.8,263.5h.9v.9h-.9zM76.0,271.4h.9v.9h-.9zM72.0,276.8h.9v.9h-.9zM61.4,284.7h.9v.9h-.9zM72.7,291.2h.9v.9h-.9zM65.8,290.5h.9v.9h-.9zM66.5,297.0h.9v.9h-.9zM73.2,282.4h.9v.9h-.9zM66.0,293.6h.9v.9h-.9zM72.4,297.4h.9v.9h-.9zM66.2,290.0h.9v.9h-.9zM67.8,287.2h.9v.9h-.9zM68.0,287.5h.9v.9h-.9zM57.5,286.7h.9v.9h-.9zM72.9,275.3h.9v.9h-.9zM79.7,266.3h.9v.9h-.9zM74.8,266.7h.9v.9h-.9zM65.3,297.8h.9v.9h-.9zM62.9,294.5h.9v.9h-.9zM59.1,293.2h.9v.9h-.9zM64.9,283.3h.9v.9h-.9zM84.4,258.6h.9v.9h-.9zM63.5,291.8h.9v.9h-.9zM78.0,277.6h.9v.9h-.9zM72.9,269.3h.9v.9h-.9zM68.5,280.5h.9v.9h-.9zM67.5,288.1h.9v.9h-.9zM70.2,278.6h.9v.9h-.9zM78.4,268.4h.9v.9h-.9zM65.0,292.6h.9v.9h-.9zM73.6,294.2h.9v.9h-.9zM66.4,301.6h.9v.9h-.9zM64.9,293.5h.9v.9h-.9zM71.2,278.3h.9v.9h-.9zM71.2,281.8h.9v.9h-.9zM79.4,262.4h.9v.9h-.9zM65.2,293.9h.9v.9h-.9zM74.6,272.0h.9v.9h-.9zM72.7,288.2h.9v.9h-.9zM73.3,273.8h.9v.9h-.9zM71.7,273.0h.9v.9h-.9zM77.2,273.1h.9v.9h-.9zM65.6,286.5h.9v.9h-.9zM70.5,285.2h.9v.9h-.9zM75.5,277.4h.9v.9h-.9zM73.6,276.7h.9v.9h-.9zM76.0,270.4h.9v.9h-.9zM63.1,289.7h.9v.9h-.9zM68.2,280.4h.9v.9h-.9zM63.7,298.2h.9v.9h-.9zM60.3,282.8h.9v.9h-.9zM76.0,269.9h.9v.9h-.9zM82.0,266.4h.9v.9h-.9zM67.4,295.8h.9v.9h-.9zM76.3,275.9h.9v.9h-.9zM80.9,272.3h.9v.9h-.9zM66.1,293.4h.9v.9h-.9zM81.5,263.0h.9v.9h-.9zM79.1,260.4h.9v.9h-.9zM74.6,281.8h.9v.9h-.9zM72.5,273.4h.9v.9h-.9zM72.9,279.0h.9v.9h-.9zM79.5,271.0h.9v.9h-.9zM70.1,287.2h.9v.9h-.9zM74.3,284.4h.9v.9h-.9zM75.4,271.9h.9v.9h-.9zM70.4,268.7h.9v.9h-.9zM64.4,289.6h.9v.9h-.9zM70.1,283.6h.9v.9h-.9zM67.6,286.9h.9v.9h-.9zM63.9,288.0h.9v.9h-.9zM59.8,295.4h.9v.9h-.9zM76.7,267.0h.9v.9h-.9zM69.2,290.7h.9v.9h-.9zM61.5,288.0h.9v.9h-.9zM78.8,262.0h.9v.9h-.9zM63.4,283.0h.9v.9h-.9zM81.9,255.3h.9v.9h-.9zM67.5,283.5h.9v.9h-.9zM67.0,303.0h.9v.9h-.9zM66.3,284.5h.9v.9h-.9zM77.9,280.4h.9v.9h-.9zM82.3,266.6h.9v.9h-.9zM71.1,269.2h.9v.9h-.9zM62.3,287.1h.9v.9h-.9zM57.8,292.1h.9v.9h-.9zM72.8,279.0h.9v.9h-.9zM69.3,285.8h.9v.9h-.9zM64.3,279.7h.9v.9h-.9zM71.9,267.1h.9v.9h-.9zM62.0,300.1h.9v.9h-.9zM71.4,276.0h.9v.9h-.9zM65.2,283.2h.9v.9h-.9zM70.6,277.1h.9v.9h-.9zM60.2,297.4h.9v.9h-.9zM75.1,277.5h.9v.9h-.9zM74.7,293.1h.9v.9h-.9zM66.3,280.3h.9v.9h-.9zM75.8,270.8h.9v.9h-.9zM76.4,282.7h.9v.9h-.9zM83.5,261.3h.9v.9h-.9zM84.2,260.0h.9v.9h-.9zM67.8,280.5h.9v.9h-.9zM68.6,286.6h.9v.9h-.9zM65.8,281.8h.9v.9h-.9zM78.5,270.1h.9v.9h-.9zM73.9,272.7h.9v.9h-.9zM75.5,273.2h.9v.9h-.9zM62.7,294.0h.9v.9h-.9zM73.4,276.8h.9v.9h-.9zM76.0,279.6h.9v.9h-.9zM67.0,291.4h.9v.9h-.9zM68.8,291.5h.9v.9h-.9zM72.4,299.3h.9v.9h-.9zM71.0,284.0h.9v.9h-.9zM65.3,294.8h.9v.9h-.9zM66.1,287.1h.9v.9h-.9zM72.9,273.9h.9v.9h-.9zM62.5,278.8h.9v.9h-.9zM67.0,292.6h.9v.9h-.9zM80.1,267.4h.9v.9h-.9zM67.8,287.5h.9v.9h-.9zM80.7,264.4h.9v.9h-.9zM76.1,272.6h.9v.9h-.9zM65.6,281.9h.9v.9h-.9zM81.1,275.3h.9v.9h-.9zM75.4,269.8h.9v.9h-.9zM80.1,262.0h.9v.9h-.9zM66.2,283.3h.9v.9h-.9zM79.5,262.4h.9v.9h-.9zM71.7,289.2h.9v.9h-.9zM75.4,277.8h.9v.9h-.9zM63.8,284.0h.9v.9h-.9zM71.0,281.6h.9v.9h-.9zM66.0,291.4h.9v.9h-.9zM81.5,284.4h.9v.9h-.9zM60.8,286.7h.9v.9h-.9zM63.3,291.6h.9v.9h-.9zM65.1,293.6h.9v.9h-.9zM65.3,283.7h.9v.9h-.9zM74.3,273.0h.9v.9h-.9zM64.8,288.3h.9v.9h-.9zM79.3,275.9h.9v.9h-.9zM80.3,263.6h.9v.9h-.9zM69.3,300.3h.9v.9h-.9zM78.4,267.8h.9v.9h-.9zM72.0,279.2h.9v.9h-.9zM75.6,281.7h.9v.9h-.9zM68.6,279.3h.9v.9h-.9zM67.5,292.3h.9v.9h-.9zM69.7,284.0h.9v.9h-.9zM58.9,289.7h.9v.9h-.9zM70.8,283.1h.9v.9h-.9zM67.7,292.1h.9v.9h-.9zM69.2,283.6h.9v.9h-.9zM73.1,285.5h.9v.9h-.9zM74.6,265.4h.9v.9h-.9zM64.3,296.1h.9v.9h-.9zM72.5,280.0h.9v.9h-.9zM83.8,262.2h.9v.9h-.9zM62.8,289.7h.9v.9h-.9zM68.2,278.8h.9v.9h-.9zM72.4,277.7h.9v.9h-.9zM59.0,290.3h.9v.9h-.9zM74.2,275.0h.9v.9h-.9zM70.7,289.0h.9v.9h-.9zM78.3,281.5h.9v.9h-.9zM63.0,296.6h.9v.9h-.9zM62.8,286.9h.9v.9h-.9zM65.5,276.4h.9v.9h-.9zM74.2,282.1h.9v.9h-.9zM76.6,274.3h.9v.9h-.9zM76.0,269.7h.9v.9h-.9zM67.7,282.9h.9v.9h-.9zM67.4,278.7h.9v.9h-.9zM74.0,271.4h.9v.9h-.9zM72.7,270.6h.9v.9h-.9zM84.4,281.7h.9v.9h-.9zM69.1,280.4h.9v.9h-.9zM70.4,283.0h.9v.9h-.9zM61.9,281.4h.9v.9h-.9zM75.2,279.5h.9v.9h-.9zM74.7,268.8h.9v.9h-.9zM79.5,259.2h.9v.9h-.9zM61.6,292.2h.9v.9h-.9zM64.4,295.9h.9v.9h-.9zM74.8,276.9h.9v.9h-.9zM61.1,291.0h.9v.9h-.9zM74.3,269.8h.9v.9h-.9zM71.7,277.4h.9v.9h-.9zM61.7,292.3h.9v.9h-.9zM61.4,296.8h.9v.9h-.9zM72.9,277.1h.9v.9h-.9zM62.8,294.1h.9v.9h-.9zM79.8,252.5h.9v.9h-.9zM71.3,278.6h.9v.9h-.9zM67.6,288.3h.9v.9h-.9zM68.7,274.6h.9v.9h-.9zM61.1,294.5h.9v.9h-.9zM69.6,272.4h.9v.9h-.9zM73.9,271.2h.9v.9h-.9zM73.8,271.3h.9v.9h-.9zM75.8,283.9h.9v.9h-.9zM66.3,300.4h.9v.9h-.9zM63.7,290.5h.9v.9h-.9zM67.9,283.2h.9v.9h-.9zM63.4,292.1h.9v.9h-.9zM59.9,299.1h.9v.9h-.9zM70.9,299.3h.9v.9h-.9zM82.8,279.2h.9v.9h-.9zM56.1,289.0h.9v.9h-.9zM69.0,282.8h.9v.9h-.9zM79.5,256.2h.9v.9h-.9zM77.7,275.6h.9v.9h-.9zM60.9,290.2h.9v.9h-.9zM72.1,278.2h.9v.9h-.9zM60.5,290.6h.9v.9h-.9zM61.6,297.0h.9v.9h-.9zM79.2,265.6h.9v.9h-.9zM68.9,285.3h.9v.9h-.9zM85.0,255.9h.9v.9h-.9zM72.0,274.2h.9v.9h-.9zM60.3,295.2h.9v.9h-.9zM79.7,270.0h.9v.9h-.9zM64.1,290.7h.9v.9h-.9zM78.8,259.0h.9v.9h-.9zM65.8,292.3h.9v.9h-.9zM73.6,269.0h.9v.9h-.9zM64.1,288.1h.9v.9h-.9zM76.1,284.0h.9v.9h-.9zM69.5,295.5h.9v.9h-.9zM73.6,275.1h.9v.9h-.9zM57.4,297.8h.9v.9h-.9zM76.6,282.0h.9v.9h-.9zM71.8,264.4h.9v.9h-.9zM66.1,272.2h.9v.9h-.9zM65.5,286.1h.9v.9h-.9zM77.3,271.8h.9v.9h-.9zM77.3,258.1h.9v.9h-.9zM62.7,291.4h.9v.9h-.9zM77.2,263.7h.9v.9h-.9zM72.0,290.1h.9v.9h-.9zM65.5,281.5h.9v.9h-.9zM80.6,287.8h.9v.9h-.9zM79.2,291.8h.9v.9h-.9zM69.1,282.1h.9v.9h-.9zM78.8,268.0h.9v.9h-.9zM69.7,282.3h.9v.9h-.9zM76.1,273.0h.9v.9h-.9zM70.2,273.8h.9v.9h-.9zM76.4,276.9h.9v.9h-.9zM79.4,275.4h.9v.9h-.9zM70.1,284.0h.9v.9h-.9zM76.9,279.4h.9v.9h-.9zM70.4,274.2h.9v.9h-.9zM72.5,272.5h.9v.9h-.9zM72.8,286.9h.9v.9h-.9zM72.7,278.3h.9v.9h-.9zM63.6,285.6h.9v.9h-.9zM75.5,281.0h.9v.9h-.9zM61.9,289.0h.9v.9h-.9zM67.9,300.1h.9v.9h-.9zM82.4,263.8h.9v.9h-.9zM62.6,296.5h.9v.9h-.9zM71.2,288.1h.9v.9h-.9zM66.3,282.7h.9v.9h-.9zM73.4,272.5h.9v.9h-.9zM69.6,289.9h.9v.9h-.9zM61.9,293.3h.9v.9h-.9zM65.5,298.2h.9v.9h-.9zM66.2,294.6h.9v.9h-.9zM57.2,298.6h.9v.9h-.9zM61.8,280.6h.9v.9h-.9zM70.2,281.1h.9v.9h-.9zM72.2,286.1h.9v.9h-.9zM67.3,278.7h.9v.9h-.9zM80.2,268.0h.9v.9h-.9zM69.9,280.2h.9v.9h-.9zM69.3,276.5h.9v.9h-.9zM61.1,296.0h.9v.9h-.9zM79.7,256.9h.9v.9h-.9zM78.4,270.6h.9v.9h-.9zM70.6,299.1h.9v.9h-.9zM75.3,276.5h.9v.9h-.9zM73.8,275.3h.9v.9h-.9zM75.7,267.2h.9v.9h-.9zM65.9,286.4h.9v.9h-.9zM73.9,280.9h.9v.9h-.9zM71.3,284.0h.9v.9h-.9zM82.8,258.5h.9v.9h-.9zM66.8,295.2h.9v.9h-.9zM78.3,273.7h.9v.9h-.9zM62.9,285.5h.9v.9h-.9zM80.8,264.4h.9v.9h-.9zM55.7,284.1h.9v.9h-.9zM79.9,262.9h.9v.9h-.9zM66.0,294.5h.9v.9h-.9zM82.5,266.2h.9v.9h-.9zM61.6,295.8h.9v.9h-.9zM75.8,268.4h.9v.9h-.9zM62.2,292.6h.9v.9h-.9zM77.8,271.3h.9v.9h-.9zM68.9,283.1h.9v.9h-.9zM61.8,293.0h.9v.9h-.9zM72.5,283.9h.9v.9h-.9zM74.9,269.3h.9v.9h-.9zM81.8,269.5h.9v.9h-.9zM65.2,291.2h.9v.9h-.9zM56.7,291.7h.9v.9h-.9zM84.8,266.2h.9v.9h-.9zM79.5,271.0h.9v.9h-.9zM67.8,286.5h.9v.9h-.9zM76.2,272.0h.9v.9h-.9zM66.9,288.8h.9v.9h-.9zM55.8,295.1h.9v.9h-.9zM57.4,281.3h.9v.9h-.9zM62.1,295.4h.9v.9h-.9zM73.7,278.3h.9v.9h-.9zM71.0,272.5h.9v.9h-.9zM63.1,297.4h.9v.9h-.9zM61.8,296.3h.9v.9h-.9zM73.6,268.5h.9v.9h-.9zM66.1,281.9h.9v.9h-.9zM68.8,273.5h.9v.9h-.9zM73.0,268.5h.9v.9h-.9zM66.7,287.2h.9v.9h-.9zM75.7,264.8h.9v.9h-.9zM70.0,288.2h.9v.9h-.9zM68.6,282.8h.9v.9h-.9zM82.3,259.2h.9v.9h-.9zM69.4,299.8h.9v.9h-.9zM73.9,269.1h.9v.9h-.9zM82.6,264.2h.9v.9h-.9zM68.6,276.3h.9v.9h-.9zM74.2,269.7h.9v.9h-.9zM72.6,265.0h.9v.9h-.9zM63.0,288.8h.9v.9h-.9zM66.9,295.7h.9v.9h-.9zM69.5,278.3h.9v.9h-.9zM77.2,262.1h.9v.9h-.9zM70.4,278.0h.9v.9h-.9zM67.1,286.8h.9v.9h-.9zM69.5,283.6h.9v.9h-.9zM77.7,268.3h.9v.9h-.9zM61.0,280.3h.9v.9h-.9zM82.7,258.8h.9v.9h-.9zM78.0,285.3h.9v.9h-.9zM60.7,297.6h.9v.9h-.9zM75.1,271.0h.9v.9h-.9zM73.6,278.8h.9v.9h-.9zM70.5,268.6h.9v.9h-.9zM75.6,267.3h.9v.9h-.9zM69.9,290.5h.9v.9h-.9zM74.7,275.7h.9v.9h-.9zM72.3,272.9h.9v.9h-.9zM65.3,287.2h.9v.9h-.9zM65.8,283.0h.9v.9h-.9zM77.9,271.8h.9v.9h-.9zM71.3,287.9h.9v.9h-.9zM58.0,291.3h.9v.9h-.9zM65.3,299.1h.9v.9h-.9zM67.4,283.4h.9v.9h-.9zM83.5,264.4h.9v.9h-.9zM74.8,280.9h.9v.9h-.9zM68.9,284.3h.9v.9h-.9zM69.0,293.0h.9v.9h-.9zM68.8,283.3h.9v.9h-.9zM65.0,297.7h.9v.9h-.9zM59.8,296.5h.9v.9h-.9zM68.6,287.7h.9v.9h-.9zM73.0,279.4h.9v.9h-.9zM68.6,280.7h.9v.9h-.9zM68.7,277.6h.9v.9h-.9zM62.1,289.3h.9v.9h-.9zM67.1,296.1h.9v.9h-.9zM62.6,291.8h.9v.9h-.9zM68.3,285.8h.9v.9h-.9zM83.4,268.6h.9v.9h-.9zM59.7,288.5h.9v.9h-.9zM75.4,266.6h.9v.9h-.9zM60.8,295.5h.9v.9h-.9zM82.3,259.7h.9v.9h-.9zM67.7,283.7h.9v.9h-.9zM79.2,276.1h.9v.9h-.9zM73.4,271.8h.9v.9h-.9zM72.6,271.8h.9v.9h-.9zM69.2,285.8h.9v.9h-.9zM75.4,270.9h.9v.9h-.9zM76.9,268.3h.9v.9h-.9zM61.0,297.4h.9v.9h-.9zM66.7,285.8h.9v.9h-.9zM75.9,275.9h.9v.9h-.9zM78.4,259.5h.9v.9h-.9zM82.8,271.3h.9v.9h-.9zM71.9,286.7h.9v.9h-.9zM72.9,280.3h.9v.9h-.9zM80.5,270.2h.9v.9h-.9zM63.3,285.3h.9v.9h-.9zM68.8,284.5h.9v.9h-.9zM73.5,284.3h.9v.9h-.9zM76.5,271.7h.9v.9h-.9zM72.6,278.1h.9v.9h-.9zM66.8,294.6h.9v.9h-.9zM59.9,297.9h.9v.9h-.9zM67.5,272.2h.9v.9h-.9zM69.9,273.5h.9v.9h-.9zM64.2,292.0h.9v.9h-.9zM63.3,297.9h.9v.9h-.9zM63.0,284.7h.9v.9h-.9zM73.9,278.3h.9v.9h-.9zM80.7,267.7h.9v.9h-.9zM74.3,285.6h.9v.9h-.9zM63.9,291.4h.9v.9h-.9zM59.2,289.6h.9v.9h-.9zM76.2,267.6h.9v.9h-.9zM58.6,289.6h.9v.9h-.9zM70.3,275.0h.9v.9h-.9zM66.5,280.9h.9v.9h-.9zM82.5,267.2h.9v.9h-.9zM62.9,280.8h.9v.9h-.9zM80.6,263.1h.9v.9h-.9zM68.7,288.9h.9v.9h-.9zM66.0,282.3h.9v.9h-.9zM82.5,275.2h.9v.9h-.9zM69.3,275.5h.9v.9h-.9zM77.7,259.3h.9v.9h-.9zM65.2,288.7h.9v.9h-.9zM64.9,283.4h.9v.9h-.9zM65.1,286.8h.9v.9h-.9zM79.8,262.5h.9v.9h-.9zM81.4,265.6h.9v.9h-.9zM77.4,270.3h.9v.9h-.9zM82.1,274.7h.9v.9h-.9zM60.7,289.9h.9v.9h-.9zM81.7,281.9h.9v.9h-.9zM86.7,260.7h.9v.9h-.9zM64.8,290.2h.9v.9h-.9zM75.2,290.9h.9v.9h-.9zM78.3,272.2h.9v.9h-.9zM72.6,280.8h.9v.9h-.9zM77.9,280.9h.9v.9h-.9zM68.7,288.9h.9v.9h-.9zM61.4,294.2h.9v.9h-.9zM75.6,287.3h.9v.9h-.9zM75.6,271.4h.9v.9h-.9zM82.3,263.6h.9v.9h-.9zM64.9,299.0h.9v.9h-.9zM60.3,292.8h.9v.9h-.9zM73.9,276.8h.9v.9h-.9zM71.4,284.3h.9v.9h-.9zM68.2,279.1h.9v.9h-.9zM61.7,283.5h.9v.9h-.9zM70.5,276.7h.9v.9h-.9zM83.5,259.4h.9v.9h-.9zM77.1,273.1h.9v.9h-.9zM75.4,272.3h.9v.9h-.9zM71.6,283.6h.9v.9h-.9zM72.1,283.4h.9v.9h-.9zM73.4,267.4h.9v.9h-.9zM68.5,285.3h.9v.9h-.9zM63.6,290.7h.9v.9h-.9zM70.2,286.6h.9v.9h-.9zM76.6,277.4h.9v.9h-.9zM69.4,289.3h.9v.9h-.9zM68.3,281.6h.9v.9h-.9zM70.0,287.5h.9v.9h-.9zM74.1,280.1h.9v.9h-.9zM76.2,264.3h.9v.9h-.9zM76.8,270.3h.9v.9h-.9zM78.2,263.8h.9v.9h-.9zM72.9,279.4h.9v.9h-.9zM78.8,274.3h.9v.9h-.9zM63.8,287.8h.9v.9h-.9zM62.5,288.0h.9v.9h-.9zM60.9,286.1h.9v.9h-.9zM68.9,281.8h.9v.9h-.9zM67.3,287.6h.9v.9h-.9zM75.8,284.7h.9v.9h-.9zM56.8,284.6h.9v.9h-.9zM68.8,285.4h.9v.9h-.9zM68.0,291.5h.9v.9h-.9zM78.6,273.1h.9v.9h-.9zM82.6,255.7h.9v.9h-.9zM78.5,269.6h.9v.9h-.9zM61.2,286.1h.9v.9h-.9zM61.3,293.8h.9v.9h-.9zM72.2,282.2h.9v.9h-.9zM71.6,274.8h.9v.9h-.9zM65.2,289.2h.9v.9h-.9zM81.6,270.9h.9v.9h-.9zM68.4,279.1h.9v.9h-.9zM64.9,277.3h.9v.9h-.9zM72.7,271.9h.9v.9h-.9zM80.2,267.4h.9v.9h-.9zM79.0,268.9h.9v.9h-.9zM73.7,269.4h.9v.9h-.9zM69.8,278.7h.9v.9h-.9zM64.9,291.6h.9v.9h-.9zM71.6,283.2h.9v.9h-.9zM64.2,298.5h.9v.9h-.9zM70.4,281.1h.9v.9h-.9zM75.5,270.2h.9v.9h-.9zM78.1,262.4h.9v.9h-.9zM69.7,284.7h.9v.9h-.9zM74.0,282.1h.9v.9h-.9zM74.8,274.4h.9v.9h-.9zM64.4,289.8h.9v.9h-.9zM79.0,272.7h.9v.9h-.9zM64.1,296.4h.9v.9h-.9zM70.2,271.7h.9v.9h-.9zM51.4,286.3h.9v.9h-.9zM66.5,282.5h.9v.9h-.9zM79.4,261.0h.9v.9h-.9zM70.5,287.8h.9v.9h-.9zM80.0,266.1h.9v.9h-.9zM60.9,293.9h.9v.9h-.9zM65.3,285.7h.9v.9h-.9zM69.1,286.6h.9v.9h-.9zM67.3,279.5h.9v.9h-.9zM72.3,277.0h.9v.9h-.9zM73.8,282.2h.9v.9h-.9zM63.7,291.6h.9v.9h-.9zM68.6,276.4h.9v.9h-.9zM70.2,274.9h.9v.9h-.9zM61.0,290.8h.9v.9h-.9zM59.6,297.9h.9v.9h-.9zM64.8,278.6h.9v.9h-.9zM67.8,283.9h.9v.9h-.9zM77.4,267.3h.9v.9h-.9zM74.5,285.4h.9v.9h-.9zM79.7,266.5h.9v.9h-.9zM71.3,269.0h.9v.9h-.9zM83.0,261.6h.9v.9h-.9zM74.8,276.6h.9v.9h-.9zM57.3,289.9h.9v.9h-.9zM70.8,285.1h.9v.9h-.9zM71.5,278.8h.9v.9h-.9zM66.0,290.3h.9v.9h-.9zM69.4,274.3h.9v.9h-.9zM62.1,290.0h.9v.9h-.9zM82.9,264.3h.9v.9h-.9zM68.3,293.2h.9v.9h-.9zM70.6,286.1h.9v.9h-.9zM74.3,270.6h.9v.9h-.9zM83.6,263.1h.9v.9h-.9zM62.8,285.5h.9v.9h-.9zM73.7,270.5h.9v.9h-.9zM79.5,268.0h.9v.9h-.9zM59.6,291.3h.9v.9h-.9zM68.9,284.6h.9v.9h-.9zM65.8,279.3h.9v.9h-.9zM66.2,277.5h.9v.9h-.9zM85.3,256.7h.9v.9h-.9zM58.8,292.6h.9v.9h-.9zM61.9,287.7h.9v.9h-.9zM69.4,288.3h.9v.9h-.9zM76.7,269.2h.9v.9h-.9zM64.4,299.1h.9v.9h-.9zM66.0,295.1h.9v.9h-.9zM72.7,276.0h.9v.9h-.9zM73.7,270.9h.9v.9h-.9zM65.6,286.1h.9v.9h-.9zM62.9,290.5h.9v.9h-.9zM70.3,288.5h.9v.9h-.9zM62.1,293.1h.9v.9h-.9zM77.5,266.9h.9v.9h-.9zM76.3,274.1h.9v.9h-.9zM70.9,278.9h.9v.9h-.9zM69.4,280.2h.9v.9h-.9zM77.5,265.2h.9v.9h-.9zM73.5,292.5h.9v.9h-.9zM82.4,261.5h.9v.9h-.9zM66.7,277.9h.9v.9h-.9zM68.3,287.0h.9v.9h-.9zM72.4,278.9h.9v.9h-.9zM67.9,292.9h.9v.9h-.9zM79.8,263.6h.9v.9h-.9zM49.4,299.5h.9v.9h-.9zM62.7,285.5h.9v.9h-.9zM65.0,290.1h.9v.9h-.9zM69.3,279.6h.9v.9h-.9zM66.6,280.2h.9v.9h-.9zM66.6,293.7h.9v.9h-.9zM73.6,270.6h.9v.9h-.9zM71.3,282.2h.9v.9h-.9zM65.6,293.3h.9v.9h-.9zM74.7,281.2h.9v.9h-.9zM66.4,293.5h.9v.9h-.9zM70.4,292.4h.9v.9h-.9zM66.4,278.9h.9v.9h-.9zM57.4,294.3h.9v.9h-.9zM76.9,271.2h.9v.9h-.9zM63.7,299.3h.9v.9h-.9zM85.0,259.7h.9v.9h-.9zM76.6,266.9h.9v.9h-.9zM75.3,264.2h.9v.9h-.9zM68.2,282.9h.9v.9h-.9zM70.1,279.0h.9v.9h-.9zM64.4,288.1h.9v.9h-.9zM78.2,267.0h.9v.9h-.9zM64.4,288.9h.9v.9h-.9zM70.4,281.6h.9v.9h-.9zM71.8,276.0h.9v.9h-.9zM71.2,292.7h.9v.9h-.9zM78.7,279.2h.9v.9h-.9zM74.8,272.7h.9v.9h-.9zM68.6,283.3h.9v.9h-.9zM67.2,294.9h.9v.9h-.9zM58.6,292.5h.9v.9h-.9zM61.4,287.1h.9v.9h-.9zM72.1,291.1h.9v.9h-.9zM60.2,286.0h.9v.9h-.9zM66.3,278.8h.9v.9h-.9zM72.3,285.0h.9v.9h-.9zM74.4,282.8h.9v.9h-.9zM56.8,293.3h.9v.9h-.9zM74.3,272.5h.9v.9h-.9zM68.0,286.6h.9v.9h-.9zM53.2,285.4h.9v.9h-.9zM74.9,274.1h.9v.9h-.9zM62.5,292.3h.9v.9h-.9zM79.0,276.6h.9v.9h-.9zM62.2,287.4h.9v.9h-.9zM67.3,284.9h.9v.9h-.9zM74.9,271.5h.9v.9h-.9zM64.3,283.3h.9v.9h-.9zM77.3,268.5h.9v.9h-.9zM65.4,290.7h.9v.9h-.9zM78.1,264.9h.9v.9h-.9zM72.9,286.8h.9v.9h-.9zM76.5,268.1h.9v.9h-.9zM74.8,267.2h.9v.9h-.9zM59.2,292.6h.9v.9h-.9zM73.2,290.8h.9v.9h-.9zM74.9,281.9h.9v.9h-.9zM69.0,281.8h.9v.9h-.9zM66.4,288.7h.9v.9h-.9zM71.2,278.2h.9v.9h-.9zM63.8,296.0h.9v.9h-.9zM68.5,293.4h.9v.9h-.9zM68.7,278.7h.9v.9h-.9zM74.9,285.8h.9v.9h-.9zM61.0,295.2h.9v.9h-.9zM73.9,274.6h.9v.9h-.9zM66.0,285.2h.9v.9h-.9zM80.3,270.0h.9v.9h-.9zM59.0,296.1h.9v.9h-.9zM69.8,288.1h.9v.9h-.9zM79.0,282.4h.9v.9h-.9zM57.9,295.5h.9v.9h-.9zM67.0,281.1h.9v.9h-.9zM69.4,294.3h.9v.9h-.9zM81.8,260.9h.9v.9h-.9zM73.3,268.5h.9v.9h-.9zM77.5,276.2h.9v.9h-.9zM85.0,261.9h.9v.9h-.9zM69.3,287.5h.9v.9h-.9zM78.8,270.1h.9v.9h-.9zM80.4,273.2h.9v.9h-.9zM82.0,262.8h.9v.9h-.9zM57.2,289.4h.9v.9h-.9zM75.3,270.1h.9v.9h-.9zM67.6,296.7h.9v.9h-.9zM71.9,275.1h.9v.9h-.9zM62.0,289.9h.9v.9h-.9zM64.6,291.6h.9v.9h-.9zM70.3,286.2h.9v.9h-.9zM63.8,292.9h.9v.9h-.9zM76.5,270.9h.9v.9h-.9zM68.2,295.5h.9v.9h-.9zM80.3,259.1h.9v.9h-.9zM81.1,260.8h.9v.9h-.9zM76.5,267.2h.9v.9h-.9zM63.2,285.7h.9v.9h-.9zM72.8,274.5h.9v.9h-.9zM71.4,281.9h.9v.9h-.9zM70.3,286.6h.9v.9h-.9zM72.7,276.9h.9v.9h-.9zM66.2,288.3h.9v.9h-.9zM72.0,276.2h.9v.9h-.9zM73.2,281.6h.9v.9h-.9zM69.2,285.7h.9v.9h-.9zM85.1,257.5h.9v.9h-.9zM65.6,291.2h.9v.9h-.9zM75.2,274.8h.9v.9h-.9zM82.4,261.4h.9v.9h-.9zM60.7,292.9h.9v.9h-.9zM68.8,282.1h.9v.9h-.9zM72.9,285.1h.9v.9h-.9zM56.9,288.5h.9v.9h-.9zM63.9,284.5h.9v.9h-.9zM62.0,280.6h.9v.9h-.9zM72.6,266.8h.9v.9h-.9zM75.2,279.3h.9v.9h-.9zM61.6,290.4h.9v.9h-.9zM63.2,280.3h.9v.9h-.9zM65.5,272.7h.9v.9h-.9zM69.9,286.7h.9v.9h-.9zM77.9,271.0h.9v.9h-.9zM77.5,271.2h.9v.9h-.9zM60.0,288.4h.9v.9h-.9zM76.4,283.6h.9v.9h-.9zM62.2,295.3h.9v.9h-.9zM68.9,274.2h.9v.9h-.9zM80.1,274.2h.9v.9h-.9zM75.2,276.9h.9v.9h-.9zM76.0,270.3h.9v.9h-.9zM73.0,253.9h.9v.9h-.9zM65.1,286.4h.9v.9h-.9zM73.7,269.2h.9v.9h-.9zM78.2,280.1h.9v.9h-.9zM62.7,298.3h.9v.9h-.9zM68.0,288.5h.9v.9h-.9zM73.4,283.9h.9v.9h-.9zM76.2,275.3h.9v.9h-.9zM72.6,279.0h.9v.9h-.9zM68.9,286.1h.9v.9h-.9zM66.2,295.6h.9v.9h-.9zM75.3,274.1h.9v.9h-.9zM66.2,295.2h.9v.9h-.9zM66.2,292.0h.9v.9h-.9zM65.7,279.9h.9v.9h-.9zM71.9,287.8h.9v.9h-.9zM81.6,261.4h.9v.9h-.9zM67.1,282.8h.9v.9h-.9zM70.5,286.7h.9v.9h-.9zM80.6,264.3h.9v.9h-.9zM71.8,285.6h.9v.9h-.9zM65.1,289.3h.9v.9h-.9zM81.8,262.1h.9v.9h-.9zM64.0,293.9h.9v.9h-.9zM78.4,274.3h.9v.9h-.9zM75.2,274.4h.9v.9h-.9zM64.8,296.5h.9v.9h-.9zM62.8,293.3h.9v.9h-.9zM70.2,283.4h.9v.9h-.9zM60.8,287.6h.9v.9h-.9zM71.1,288.4h.9v.9h-.9zM71.5,285.1h.9v.9h-.9zM74.9,272.8h.9v.9h-.9zM75.6,268.5h.9v.9h-.9zM63.7,287.0h.9v.9h-.9zM64.2,297.3h.9v.9h-.9zM69.9,291.9h.9v.9h-.9zM73.8,265.8h.9v.9h-.9zM72.1,273.5h.9v.9h-.9zM71.4,279.5h.9v.9h-.9zM78.3,275.0h.9v.9h-.9zM66.1,280.4h.9v.9h-.9zM72.2,262.8h.9v.9h-.9zM71.4,279.3h.9v.9h-.9zM75.6,276.7h.9v.9h-.9zM76.0,274.3h.9v.9h-.9zM79.8,261.9h.9v.9h-.9zM69.1,279.7h.9v.9h-.9zM80.8,273.2h.9v.9h-.9zM71.8,274.7h.9v.9h-.9zM79.9,267.7h.9v.9h-.9zM74.7,292.7h.9v.9h-.9zM69.5,279.0h.9v.9h-.9zM72.8,283.6h.9v.9h-.9zM77.4,277.8h.9v.9h-.9zM73.7,277.8h.9v.9h-.9zM80.6,261.3h.9v.9h-.9zM65.9,301.0h.9v.9h-.9zM64.9,292.7h.9v.9h-.9zM66.6,277.7h.9v.9h-.9zM78.8,267.1h.9v.9h-.9zM71.8,276.6h.9v.9h-.9zM73.5,289.7h.9v.9h-.9zM75.4,284.9h.9v.9h-.9zM77.6,271.8h.9v.9h-.9zM79.2,274.1h.9v.9h-.9zM75.6,263.5h.9v.9h-.9zM75.5,277.9h.9v.9h-.9zM67.4,284.7h.9v.9h-.9zM69.4,288.1h.9v.9h-.9zM84.3,267.4h.9v.9h-.9zM71.9,281.3h.9v.9h-.9zM74.7,283.7h.9v.9h-.9zM58.2,292.2h.9v.9h-.9zM69.0,274.7h.9v.9h-.9zM70.8,284.1h.9v.9h-.9zM74.0,270.7h.9v.9h-.9zM81.3,264.7h.9v.9h-.9zM63.7,282.5h.9v.9h-.9zM77.8,273.9h.9v.9h-.9zM64.8,292.8h.9v.9h-.9zM70.1,284.2h.9v.9h-.9zM78.8,272.6h.9v.9h-.9zM70.5,300.2h.9v.9h-.9zM73.3,269.3h.9v.9h-.9zM77.1,279.4h.9v.9h-.9zM60.6,298.0h.9v.9h-.9zM73.0,282.5h.9v.9h-.9zM70.5,282.5h.9v.9h-.9zM75.4,277.0h.9v.9h-.9zM67.3,292.3h.9v.9h-.9zM75.8,282.7h.9v.9h-.9zM71.7,278.1h.9v.9h-.9zM62.7,282.2h.9v.9h-.9zM77.4,267.3h.9v.9h-.9zM73.9,265.9h.9v.9h-.9zM74.3,272.7h.9v.9h-.9zM61.5,270.4h.9v.9h-.9zM64.4,290.6h.9v.9h-.9zM74.5,276.5h.9v.9h-.9zM69.8,287.8h.9v.9h-.9zM73.2,273.0h.9v.9h-.9zM60.8,290.8h.9v.9h-.9zM74.8,272.0h.9v.9h-.9zM72.7,273.2h.9v.9h-.9zM57.2,289.2h.9v.9h-.9zM64.9,286.2h.9v.9h-.9zM75.3,273.4h.9v.9h-.9zM70.5,282.1h.9v.9h-.9zM65.9,296.0h.9v.9h-.9zM81.0,261.7h.9v.9h-.9zM76.3,270.5h.9v.9h-.9zM80.0,270.9h.9v.9h-.9zM74.4,270.3h.9v.9h-.9zM67.7,281.8h.9v.9h-.9zM74.2,275.8h.9v.9h-.9zM64.6,289.6h.9v.9h-.9zM76.3,276.4h.9v.9h-.9zM74.3,277.8h.9v.9h-.9zM59.0,297.9h.9v.9h-.9zM64.9,282.1h.9v.9h-.9zM60.5,287.1h.9v.9h-.9zM73.8,259.1h.9v.9h-.9zM65.6,294.9h.9v.9h-.9zM83.3,257.1h.9v.9h-.9zM68.2,276.2h.9v.9h-.9zM78.1,273.4h.9v.9h-.9zM82.5,262.1h.9v.9h-.9zM72.3,275.5h.9v.9h-.9zM78.7,301.8h.9v.9h-.9zM59.1,282.8h.9v.9h-.9zM76.3,275.8h.9v.9h-.9zM55.1,296.0h.9v.9h-.9zM71.0,293.3h.9v.9h-.9zM83.2,262.4h.9v.9h-.9zM73.1,276.0h.9v.9h-.9zM72.1,271.1h.9v.9h-.9zM84.0,259.0h.9v.9h-.9zM68.3,280.1h.9v.9h-.9zM72.8,287.3h.9v.9h-.9zM70.7,281.8h.9v.9h-.9zM72.7,280.6h.9v.9h-.9zM75.5,273.7h.9v.9h-.9zM69.5,300.8h.9v.9h-.9zM77.9,267.0h.9v.9h-.9zM69.6,278.4h.9v.9h-.9zM65.3,297.8h.9v.9h-.9zM58.8,282.8h.9v.9h-.9zM55.8,296.7h.9v.9h-.9zM69.2,302.0h.9v.9h-.9zM66.0,295.0h.9v.9h-.9zM72.8,275.5h.9v.9h-.9zM71.2,294.7h.9v.9h-.9zM74.6,283.1h.9v.9h-.9zM74.6,272.4h.9v.9h-.9zM76.9,270.3h.9v.9h-.9zM75.7,286.2h.9v.9h-.9zM66.2,295.7h.9v.9h-.9zM67.5,286.8h.9v.9h-.9zM68.9,278.7h.9v.9h-.9zM69.9,284.3h.9v.9h-.9zM74.4,270.5h.9v.9h-.9zM68.2,292.9h.9v.9h-.9zM64.7,284.7h.9v.9h-.9zM72.0,274.1h.9v.9h-.9zM74.3,267.6h.9v.9h-.9zM75.4,275.4h.9v.9h-.9zM69.4,284.3h.9v.9h-.9zM72.1,281.4h.9v.9h-.9zM80.6,268.4h.9v.9h-.9zM69.2,287.0h.9v.9h-.9zM72.8,278.2h.9v.9h-.9zM62.4,285.4h.9v.9h-.9zM67.5,292.0h.9v.9h-.9zM65.7,292.7h.9v.9h-.9zM80.8,270.0h.9v.9h-.9zM60.6,291.9h.9v.9h-.9zM69.9,289.6h.9v.9h-.9zM77.2,257.3h.9v.9h-.9zM74.6,271.6h.9v.9h-.9zM63.3,298.1h.9v.9h-.9zM67.3,293.3h.9v.9h-.9zM81.5,271.9h.9v.9h-.9zM83.5,261.3h.9v.9h-.9zM80.0,260.4h.9v.9h-.9zM75.5,283.9h.9v.9h-.9zM65.4,293.0h.9v.9h-.9zM70.0,286.6h.9v.9h-.9zM70.1,284.5h.9v.9h-.9zM81.6,262.2h.9v.9h-.9zM74.9,267.2h.9v.9h-.9zM83.0,259.9h.9v.9h-.9zM65.9,294.5h.9v.9h-.9zM79.6,267.8h.9v.9h-.9zM82.2,259.0h.9v.9h-.9zM73.2,287.4h.9v.9h-.9zM75.8,265.2h.9v.9h-.9zM78.3,280.6h.9v.9h-.9zM80.1,276.8h.9v.9h-.9zM68.8,285.1h.9v.9h-.9zM65.2,298.6h.9v.9h-.9zM79.1,267.2h.9v.9h-.9zM72.8,284.2h.9v.9h-.9zM72.5,277.2h.9v.9h-.9zM80.1,260.4h.9v.9h-.9zM70.2,271.2h.9v.9h-.9zM60.7,293.3h.9v.9h-.9zM67.0,290.3h.9v.9h-.9zM74.9,274.6h.9v.9h-.9zM64.1,278.7h.9v.9h-.9zM73.1,275.2h.9v.9h-.9zM68.4,294.3h.9v.9h-.9zM75.6,286.5h.9v.9h-.9zM78.1,267.6h.9v.9h-.9zM66.8,273.7h.9v.9h-.9zM72.7,277.6h.9v.9h-.9zM72.9,284.4h.9v.9h-.9zM66.5,296.7h.9v.9h-.9zM63.5,294.3h.9v.9h-.9zM79.3,269.8h.9v.9h-.9zM74.5,274.1h.9v.9h-.9zM81.3,274.5h.9v.9h-.9zM64.3,280.9h.9v.9h-.9zM72.8,276.4h.9v.9h-.9zM67.0,282.2h.9v.9h-.9zM64.6,284.9h.9v.9h-.9zM60.1,287.3h.9v.9h-.9zM71.6,268.5h.9v.9h-.9zM66.5,257.0h.9v.9h-.9zM90.1,275.0h.9v.9h-.9zM63.3,281.2h.9v.9h-.9zM81.2,258.7h.9v.9h-.9zM59.8,292.0h.9v.9h-.9zM58.1,292.4h.9v.9h-.9zM71.3,279.1h.9v.9h-.9zM71.7,276.6h.9v.9h-.9zM77.7,273.6h.9v.9h-.9zM57.2,297.8h.9v.9h-.9zM74.8,273.7h.9v.9h-.9zM68.2,272.7h.9v.9h-.9zM67.5,288.6h.9v.9h-.9zM74.8,281.9h.9v.9h-.9zM74.0,277.6h.9v.9h-.9zM69.4,296.5h.9v.9h-.9zM75.0,271.4h.9v.9h-.9zM64.1,291.7h.9v.9h-.9zM73.4,273.0h.9v.9h-.9zM65.6,286.4h.9v.9h-.9zM68.8,281.0h.9v.9h-.9zM78.1,281.2h.9v.9h-.9zM79.2,275.7h.9v.9h-.9zM62.1,295.3h.9v.9h-.9zM59.5,296.5h.9v.9h-.9zM74.6,282.6h.9v.9h-.9zM70.3,290.6h.9v.9h-.9zM76.4,276.6h.9v.9h-.9zM72.0,277.2h.9v.9h-.9zM65.7,279.6h.9v.9h-.9zM77.4,274.2h.9v.9h-.9zM72.0,293.9h.9v.9h-.9zM72.0,278.2h.9v.9h-.9zM68.8,295.8h.9v.9h-.9zM68.8,295.9h.9v.9h-.9zM86.3,268.9h.9v.9h-.9zM78.6,266.9h.9v.9h-.9z" fill="#000"/>
<path d="M60.0,315.4h.9v.9h-.9zM62.8,302.9h.9v.9h-.9zM69.7,305.2h.9v.9h-.9zM61.2,297.1h.9v.9h-.9zM67.7,320.0h.9v.9h-.9zM65.4,301.6h.9v.9h-.9zM59.2,319.4h.9v.9h-.9zM65.0,316.3h.9v.9h-.9zM63.6,307.8h.9v.9h-.9zM60.9,297.5h.9v.9h-.9zM60.4,302.5h.9v.9h-.9zM63.7,297.5h.9v.9h-.9zM66.0,316.9h.9v.9h-.9zM55.8,317.5h.9v.9h-.9zM59.1,296.4h.9v.9h-.9zM57.6,296.0h.9v.9h-.9zM63.8,306.5h.9v.9h-.9zM58.8,303.8h.9v.9h-.9zM58.5,303.6h.9v.9h-.9zM65.1,312.8h.9v.9h-.9zM69.9,315.2h.9v.9h-.9zM54.0,303.7h.9v.9h-.9zM58.5,308.2h.9v.9h-.9zM64.2,301.7h.9v.9h-.9zM62.8,318.4h.9v.9h-.9zM68.8,316.3h.9v.9h-.9zM67.7,318.8h.9v.9h-.9zM62.3,318.5h.9v.9h-.9zM71.2,301.8h.9v.9h-.9zM76.2,312.2h.9v.9h-.9zM68.2,307.1h.9v.9h-.9zM61.0,311.4h.9v.9h-.9zM70.8,312.6h.9v.9h-.9zM64.9,305.0h.9v.9h-.9zM67.0,300.7h.9v.9h-.9zM63.2,315.2h.9v.9h-.9zM64.5,313.1h.9v.9h-.9zM68.5,318.6h.9v.9h-.9zM58.0,313.4h.9v.9h-.9zM68.8,299.7h.9v.9h-.9zM59.1,316.3h.9v.9h-.9zM66.1,309.3h.9v.9h-.9zM57.6,319.0h.9v.9h-.9zM58.0,305.7h.9v.9h-.9zM64.0,306.1h.9v.9h-.9zM63.7,318.4h.9v.9h-.9zM61.4,303.9h.9v.9h-.9zM54.8,300.5h.9v.9h-.9zM62.2,299.8h.9v.9h-.9zM61.7,297.8h.9v.9h-.9zM60.4,315.9h.9v.9h-.9zM64.8,308.7h.9v.9h-.9zM64.5,307.8h.9v.9h-.9zM66.4,298.6h.9v.9h-.9zM72.7,302.7h.9v.9h-.9zM59.3,297.4h.9v.9h-.9zM64.1,300.7h.9v.9h-.9zM60.8,318.3h.9v.9h-.9zM64.2,307.5h.9v.9h-.9zM62.4,312.0h.9v.9h-.9zM73.4,304.1h.9v.9h-.9zM65.3,305.6h.9v.9h-.9zM58.7,313.7h.9v.9h-.9zM63.9,312.6h.9v.9h-.9zM61.3,296.1h.9v.9h-.9zM67.6,299.6h.9v.9h-.9zM68.3,300.9h.9v.9h-.9zM66.4,301.2h.9v.9h-.9zM67.1,317.3h.9v.9h-.9zM67.5,304.8h.9v.9h-.9z" fill="#333"/>
<rect x="156.5" y="211.5" width="104.00" height="113.00" fill="none" stroke="#111" stroke-width="1.15"/>
<line x1="174.50" y1="211.50" x2="174.50" y2="324.50" stroke="#111" stroke-width="1.1"/>
<line x1="156.50" y1="301.50" x2="260.50" y2="301.50" stroke="#111" stroke-width="1.1"/>
<path d="M156.50,324.5 v2 M164.33,324.5 v1.3 M168.91,324.5 v1.3 M172.15,324.5 v1.3 M174.67,324.5 v1.3 M176.73,324.5 v1.3 M178.47,324.5 v1.3 M179.98,324.5 v1.3 M181.31,324.5 v1.3 M182.50,324.5 v2 M190.33,324.5 v1.3 M194.91,324.5 v1.3 M198.15,324.5 v1.3 M200.67,324.5 v1.3 M202.73,324.5 v1.3 M204.47,324.5 v1.3 M205.98,324.5 v1.3 M207.31,324.5 v1.3 M208.50,324.5 v2 M216.33,324.5 v1.3 M220.91,324.5 v1.3 M224.15,324.5 v1.3 M226.67,324.5 v1.3 M228.73,324.5 v1.3 M230.47,324.5 v1.3 M231.98,324.5 v1.3 M233.31,324.5 v1.3 M234.50,324.5 v2 M242.33,324.5 v1.3 M246.91,324.5 v1.3 M250.15,324.5 v1.3 M252.67,324.5 v1.3 M254.73,324.5 v1.3 M256.47,324.5 v1.3 M257.98,324.5 v1.3 M259.31,324.5 v1.3 M156.5,324.50 h-2 M156.5,316.00 h-1.3 M156.5,311.02 h-1.3 M156.5,307.49 h-1.3 M156.5,304.75 h-1.3 M156.5,302.52 h-1.3 M156.5,300.63 h-1.3 M156.5,298.99 h-1.3 M156.5,297.54 h-1.3 M156.5,296.25 h-2 M156.5,287.75 h-1.3 M156.5,282.77 h-1.3 M156.5,279.24 h-1.3 M156.5,276.50 h-1.3 M156.5,274.27 h-1.3 M156.5,272.38 h-1.3 M156.5,270.74 h-1.3 M156.5,269.29 h-1.3 M156.5,268.00 h-2 M156.5,259.50 h-1.3 M156.5,254.52 h-1.3 M156.5,250.99 h-1.3 M156.5,248.25 h-1.3 M156.5,246.02 h-1.3 M156.5,244.13 h-1.3 M156.5,242.49 h-1.3 M156.5,241.04 h-1.3 M156.5,239.75 h-2 M156.5,231.25 h-1.3 M156.5,226.27 h-1.3 M156.5,222.74 h-1.3 M156.5,220.00 h-1.3 M156.5,217.77 h-1.3 M156.5,215.88 h-1.3 M156.5,214.24 h-1.3 M156.5,212.79 h-1.3" stroke="#333" stroke-width="0.8" fill="none"/>
<text x="152.90" y="335.9" font-size="7" fill="#333">10<tspan dy="-2.8" font-size="5.2">0</tspan></text>
<text x="178.50" y="335.9" font-size="7" fill="#333">10<tspan dy="-2.8" font-size="5.2">1</tspan></text>
<text x="204.10" y="335.9" font-size="7" fill="#333">10<tspan dy="-2.8" font-size="5.2">2</tspan></text>
<text x="229.70" y="335.9" font-size="7" fill="#333">10<tspan dy="-2.8" font-size="5.2">3</tspan></text>
<text x="255.30" y="335.9" font-size="7" fill="#333">10<tspan dy="-2.8" font-size="5.2">4</tspan></text>
<path d="M195.0,274.7h.9v.9h-.9zM201.8,266.7h.9v.9h-.9zM183.6,277.8h.9v.9h-.9zM191.1,284.6h.9v.9h-.9zM191.3,273.8h.9v.9h-.9zM191.6,272.9h.9v.9h-.9zM181.1,288.8h.9v.9h-.9zM187.2,293.5h.9v.9h-.9zM193.4,271.0h.9v.9h-.9zM194.8,270.8h.9v.9h-.9zM195.1,270.7h.9v.9h-.9zM187.9,280.2h.9v.9h-.9zM193.1,298.0h.9v.9h-.9zM187.3,274.8h.9v.9h-.9zM201.1,263.6h.9v.9h-.9zM188.2,279.5h.9v.9h-.9zM201.4,263.5h.9v.9h-.9zM189.7,277.3h.9v.9h-.9zM190.8,285.1h.9v.9h-.9zM190.1,288.5h.9v.9h-.9zM187.8,284.7h.9v.9h-.9zM190.2,277.9h.9v.9h-.9zM197.1,263.8h.9v.9h-.9zM193.2,279.2h.9v.9h-.9zM194.5,272.9h.9v.9h-.9zM194.4,290.2h.9v.9h-.9zM185.9,282.0h.9v.9h-.9zM193.1,274.2h.9v.9h-.9zM204.5,271.5h.9v.9h-.9zM188.4,287.6h.9v.9h-.9zM193.4,278.5h.9v.9h-.9zM199.1,269.6h.9v.9h-.9zM193.5,280.1h.9v.9h-.9zM194.9,266.0h.9v.9h-.9zM189.3,281.2h.9v.9h-.9zM191.6,289.1h.9v.9h-.9zM190.6,279.3h.9v.9h-.9zM192.2,272.0h.9v.9h-.9zM196.6,272.5h.9v.9h-.9zM184.3,282.1h.9v.9h-.9zM193.9,273.0h.9v.9h-.9zM182.1,281.1h.9v.9h-.9zM188.5,276.7h.9v.9h-.9zM186.2,286.8h.9v.9h-.9zM191.3,284.8h.9v.9h-.9zM185.8,286.5h.9v.9h-.9zM200.7,268.1h.9v.9h-.9zM175.8,287.8h.9v.9h-.9zM184.4,289.3h.9v.9h-.9zM199.1,273.9h.9v.9h-.9zM191.7,277.1h.9v.9h-.9zM202.2,262.1h.9v.9h-.9zM193.7,268.3h.9v.9h-.9zM193.2,274.4h.9v.9h-.9zM191.2,272.8h.9v.9h-.9zM190.7,296.0h.9v.9h-.9zM181.6,287.0h.9v.9h-.9zM201.4,272.1h.9v.9h-.9zM193.4,273.9h.9v.9h-.9zM184.5,288.8h.9v.9h-.9zM197.2,271.9h.9v.9h-.9zM188.6,294.5h.9v.9h-.9zM188.2,271.2h.9v.9h-.9zM177.1,287.5h.9v.9h-.9zM193.4,273.6h.9v.9h-.9zM187.1,286.0h.9v.9h-.9zM187.1,282.9h.9v.9h-.9zM188.8,288.2h.9v.9h-.9zM193.5,282.2h.9v.9h-.9zM191.8,278.9h.9v.9h-.9zM186.6,295.2h.9v.9h-.9zM184.8,287.4h.9v.9h-.9zM196.6,269.0h.9v.9h-.9zM203.0,263.4h.9v.9h-.9zM192.4,277.3h.9v.9h-.9zM184.2,288.2h.9v.9h-.9zM183.6,283.0h.9v.9h-.9zM188.5,280.7h.9v.9h-.9zM190.7,275.1h.9v.9h-.9zM196.8,264.6h.9v.9h-.9zM188.4,277.8h.9v.9h-.9zM189.3,287.2h.9v.9h-.9zM187.2,293.7h.9v.9h-.9zM190.1,276.2h.9v.9h-.9zM197.0,279.4h.9v.9h-.9zM188.5,291.7h.9v.9h-.9zM190.1,282.0h.9v.9h-.9zM198.6,267.5h.9v.9h-.9zM183.2,289.9h.9v.9h-.9zM197.2,279.1h.9v.9h-.9zM192.9,280.5h.9v.9h-.9zM189.9,272.0h.9v.9h-.9zM191.6,282.9h.9v.9h-.9zM186.6,284.0h.9v.9h-.9zM196.9,274.5h.9v.9h-.9zM201.9,269.9h.9v.9h-.9zM194.7,267.2h.9v.9h-.9zM186.9,287.7h.9v.9h-.9zM185.4,278.0h.9v.9h-.9zM203.0,263.4h.9v.9h-.9zM185.2,280.7h.9v.9h-.9zM187.9,284.3h.9v.9h-.9zM184.9,294.4h.9v.9h-.9zM195.5,271.4h.9v.9h-.9zM200.1,273.1h.9v.9h-.9zM194.6,274.1h.9v.9h-.9zM196.3,272.3h.9v.9h-.9zM186.9,279.7h.9v.9h-.9zM189.0,274.9h.9v.9h-.9zM189.5,283.5h.9v.9h-.9zM202.2,268.2h.9v.9h-.9zM196.3,275.6h.9v.9h-.9zM200.5,267.9h.9v.9h-.9zM193.9,278.7h.9v.9h-.9zM194.9,268.3h.9v.9h-.9zM191.1,278.3h.9v.9h-.9zM194.8,270.3h.9v.9h-.9zM193.0,272.2h.9v.9h-.9zM191.5,268.0h.9v.9h-.9zM190.7,280.7h.9v.9h-.9zM201.4,273.1h.9v.9h-.9zM186.7,286.7h.9v.9h-.9zM190.3,276.4h.9v.9h-.9zM199.5,259.5h.9v.9h-.9zM198.1,272.1h.9v.9h-.9zM190.2,270.5h.9v.9h-.9zM185.2,275.4h.9v.9h-.9zM183.1,282.3h.9v.9h-.9zM186.4,289.6h.9v.9h-.9zM187.4,284.8h.9v.9h-.9zM184.1,290.0h.9v.9h-.9zM182.9,281.6h.9v.9h-.9zM178.4,286.8h.9v.9h-.9zM189.6,271.1h.9v.9h-.9zM203.8,272.6h.9v.9h-.9zM198.1,268.8h.9v.9h-.9zM188.0,286.4h.9v.9h-.9zM204.1,260.5h.9v.9h-.9zM187.8,276.5h.9v.9h-.9zM194.0,285.0h.9v.9h-.9zM188.5,279.1h.9v.9h-.9zM195.9,266.7h.9v.9h-.9zM196.8,272.8h.9v.9h-.9zM186.8,277.5h.9v.9h-.9zM189.6,282.4h.9v.9h-.9zM184.9,286.5h.9v.9h-.9zM197.6,271.1h.9v.9h-.9zM192.0,271.3h.9v.9h-.9zM191.6,266.1h.9v.9h-.9zM184.6,288.4h.9v.9h-.9zM195.9,278.0h.9v.9h-.9zM200.7,260.2h.9v.9h-.9zM200.4,265.4h.9v.9h-.9zM190.3,278.0h.9v.9h-.9zM199.1,280.0h.9v.9h-.9zM191.0,285.5h.9v.9h-.9zM186.9,288.6h.9v.9h-.9zM191.6,281.2h.9v.9h-.9zM202.1,272.6h.9v.9h-.9zM185.1,287.3h.9v.9h-.9zM187.7,287.5h.9v.9h-.9zM183.7,270.4h.9v.9h-.9zM188.1,283.8h.9v.9h-.9zM193.3,277.7h.9v.9h-.9zM194.5,292.6h.9v.9h-.9zM181.5,287.1h.9v.9h-.9zM194.1,269.4h.9v.9h-.9zM183.6,291.8h.9v.9h-.9zM192.4,272.0h.9v.9h-.9zM196.0,286.3h.9v.9h-.9zM197.7,266.5h.9v.9h-.9zM193.8,276.8h.9v.9h-.9zM186.2,288.2h.9v.9h-.9zM183.6,280.9h.9v.9h-.9zM186.7,292.8h.9v.9h-.9zM194.3,272.4h.9v.9h-.9zM193.3,271.4h.9v.9h-.9zM196.1,275.3h.9v.9h-.9zM187.3,287.5h.9v.9h-.9zM202.7,257.8h.9v.9h-.9zM200.7,268.4h.9v.9h-.9zM194.2,273.4h.9v.9h-.9zM187.9,288.7h.9v.9h-.9zM189.9,282.4h.9v.9h-.9zM195.4,270.1h.9v.9h-.9zM196.1,270.1h.9v.9h-.9zM180.6,284.9h.9v.9h-.9zM190.9,281.8h.9v.9h-.9zM196.1,286.0h.9v.9h-.9zM203.5,256.9h.9v.9h-.9zM187.9,287.0h.9v.9h-.9zM187.8,284.5h.9v.9h-.9zM198.9,269.0h.9v.9h-.9zM182.8,289.0h.9v.9h-.9zM197.3,267.6h.9v.9h-.9zM189.2,286.3h.9v.9h-.9zM185.1,290.4h.9v.9h-.9zM204.5,267.2h.9v.9h-.9zM187.9,288.2h.9v.9h-.9zM194.8,275.0h.9v.9h-.9zM194.6,275.5h.9v.9h-.9zM190.7,287.5h.9v.9h-.9zM187.2,279.8h.9v.9h-.9zM195.8,279.9h.9v.9h-.9zM184.5,285.5h.9v.9h-.9zM189.6,279.7h.9v.9h-.9zM188.6,283.4h.9v.9h-.9zM187.7,290.6h.9v.9h-.9zM183.8,287.4h.9v.9h-.9zM191.3,284.8h.9v.9h-.9zM185.4,284.3h.9v.9h-.9zM200.5,268.0h.9v.9h-.9zM195.3,282.0h.9v.9h-.9zM190.7,278.2h.9v.9h-.9zM188.7,276.6h.9v.9h-.9zM197.8,263.8h.9v.9h-.9zM187.8,275.8h.9v.9h-.9zM190.0,288.5h.9v.9h-.9zM197.3,279.5h.9v.9h-.9zM193.0,278.0h.9v.9h-.9zM187.9,282.8h.9v.9h-.9zM184.6,277.3h.9v.9h-.9zM191.7,275.2h.9v.9h-.9zM187.8,294.0h.9v.9h-.9zM195.2,273.0h.9v.9h-.9zM194.9,288.6h.9v.9h-.9zM182.5,279.7h.9v.9h-.9zM195.4,272.5h.9v.9h-.9zM198.5,280.4h.9v.9h-.9zM196.8,276.8h.9v.9h-.9zM194.5,276.2h.9v.9h-.9zM192.2,280.8h.9v.9h-.9zM185.5,281.3h.9v.9h-.9zM195.3,275.9h.9v.9h-.9zM198.5,267.8h.9v.9h-.9zM185.6,291.4h.9v.9h-.9zM195.0,291.5h.9v.9h-.9zM202.1,264.1h.9v.9h-.9zM199.4,267.6h.9v.9h-.9zM189.4,274.1h.9v.9h-.9zM185.6,295.0h.9v.9h-.9zM190.8,288.7h.9v.9h-.9zM196.9,278.7h.9v.9h-.9zM201.7,262.6h.9v.9h-.9zM188.0,291.3h.9v.9h-.9zM197.4,273.8h.9v.9h-.9zM201.3,261.9h.9v.9h-.9zM198.7,267.5h.9v.9h-.9zM180.9,291.9h.9v.9h-.9zM188.9,288.7h.9v.9h-.9zM189.4,285.0h.9v.9h-.9zM193.8,272.2h.9v.9h-.9zM193.1,275.5h.9v.9h-.9zM199.4,268.0h.9v.9h-.9zM199.5,260.5h.9v.9h-.9zM192.0,273.2h.9v.9h-.9zM199.6,269.7h.9v.9h-.9zM188.3,287.0h.9v.9h-.9zM187.0,279.8h.9v.9h-.9zM193.8,275.9h.9v.9h-.9zM201.4,274.5h.9v.9h-.9zM188.2,275.8h.9v.9h-.9zM195.0,272.6h.9v.9h-.9zM197.7,266.4h.9v.9h-.9zM187.0,283.1h.9v.9h-.9zM194.2,274.3h.9v.9h-.9zM185.2,287.8h.9v.9h-.9zM198.8,264.0h.9v.9h-.9zM193.5,287.4h.9v.9h-.9zM192.8,286.5h.9v.9h-.9zM200.3,269.7h.9v.9h-.9zM195.1,287.8h.9v.9h-.9zM190.6,279.8h.9v.9h-.9zM197.3,273.1h.9v.9h-.9zM189.5,279.8h.9v.9h-.9zM186.5,282.1h.9v.9h-.9zM187.9,278.1h.9v.9h-.9zM192.3,277.1h.9v.9h-.9zM196.0,268.5h.9v.9h-.9zM196.4,282.9h.9v.9h-.9zM198.2,269.3h.9v.9h-.9zM194.3,271.3h.9v.9h-.9zM195.6,272.7h.9v.9h-.9zM194.3,270.2h.9v.9h-.9zM189.4,285.5h.9v.9h-.9zM195.3,277.3h.9v.9h-.9zM193.6,282.2h.9v.9h-.9zM192.7,283.9h.9v.9h-.9zM199.8,264.6h.9v.9h-.9zM189.1,285.0h.9v.9h-.9zM194.0,269.7h.9v.9h-.9zM179.5,290.9h.9v.9h-.9zM193.9,274.0h.9v.9h-.9zM192.9,268.7h.9v.9h-.9zM194.5,273.4h.9v.9h-.9zM191.3,280.0h.9v.9h-.9zM192.9,278.1h.9v.9h-.9zM191.2,258.4h.9v.9h-.9zM201.4,266.1h.9v.9h-.9zM190.5,282.4h.9v.9h-.9zM197.5,280.3h.9v.9h-.9zM194.7,267.7h.9v.9h-.9zM183.5,285.1h.9v.9h-.9zM196.3,266.6h.9v.9h-.9zM202.7,275.6h.9v.9h-.9zM185.2,286.5h.9v.9h-.9zM196.9,273.4h.9v.9h-.9zM184.2,291.0h.9v.9h-.9zM190.8,294.5h.9v.9h-.9zM192.7,290.0h.9v.9h-.9zM197.9,275.2h.9v.9h-.9zM201.4,264.0h.9v.9h-.9zM185.8,282.4h.9v.9h-.9zM192.7,278.3h.9v.9h-.9zM194.8,272.2h.9v.9h-.9zM195.8,269.2h.9v.9h-.9zM188.6,288.7h.9v.9h-.9zM201.4,267.9h.9v.9h-.9zM195.5,273.4h.9v.9h-.9zM200.6,269.4h.9v.9h-.9zM187.8,282.4h.9v.9h-.9zM187.7,273.8h.9v.9h-.9zM195.2,269.2h.9v.9h-.9zM181.7,277.4h.9v.9h-.9zM208.6,277.1h.9v.9h-.9zM193.7,274.5h.9v.9h-.9zM178.8,289.6h.9v.9h-.9zM189.0,290.3h.9v.9h-.9zM199.8,266.3h.9v.9h-.9zM186.8,277.8h.9v.9h-.9zM188.4,289.9h.9v.9h-.9zM201.8,271.8h.9v.9h-.9zM183.9,286.0h.9v.9h-.9zM199.2,266.4h.9v.9h-.9zM187.7,285.7h.9v.9h-.9zM191.7,275.9h.9v.9h-.9zM201.9,264.8h.9v.9h-.9zM194.5,274.6h.9v.9h-.9zM195.9,285.2h.9v.9h-.9zM186.8,292.6h.9v.9h-.9zM198.3,272.0h.9v.9h-.9zM190.7,286.6h.9v.9h-.9zM184.7,289.2h.9v.9h-.9zM193.6,286.9h.9v.9h-.9zM185.8,288.5h.9v.9h-.9zM196.2,271.0h.9v.9h-.9zM199.4,266.9h.9v.9h-.9zM187.8,290.7h.9v.9h-.9zM193.2,274.4h.9v.9h-.9zM182.0,291.6h.9v.9h-.9zM192.9,276.4h.9v.9h-.9zM197.8,266.2h.9v.9h-.9zM186.2,293.8h.9v.9h-.9zM194.1,272.0h.9v.9h-.9zM194.6,280.9h.9v.9h-.9zM193.0,284.4h.9v.9h-.9zM191.4,286.5h.9v.9h-.9zM193.6,275.8h.9v.9h-.9zM187.0,284.9h.9v.9h-.9zM198.9,265.6h.9v.9h-.9zM192.6,272.5h.9v.9h-.9zM187.5,273.2h.9v.9h-.9zM185.0,286.7h.9v.9h-.9zM184.6,280.4h.9v.9h-.9zM187.6,285.0h.9v.9h-.9zM182.3,272.0h.9v.9h-.9zM194.1,274.5h.9v.9h-.9zM190.7,281.2h.9v.9h-.9zM195.1,276.8h.9v.9h-.9zM194.2,269.1h.9v.9h-.9zM189.0,275.3h.9v.9h-.9zM189.6,287.9h.9v.9h-.9zM195.0,278.8h.9v.9h-.9zM199.5,260.5h.9v.9h-.9zM191.6,277.0h.9v.9h-.9zM198.9,299.2h.9v.9h-.9zM197.5,275.2h.9v.9h-.9zM186.8,285.6h.9v.9h-.9zM201.8,265.7h.9v.9h-.9zM183.2,288.5h.9v.9h-.9zM196.5,270.4h.9v.9h-.9zM190.6,283.2h.9v.9h-.9zM185.1,284.6h.9v.9h-.9zM204.7,259.6h.9v.9h-.9zM188.2,279.2h.9v.9h-.9zM197.8,258.7h.9v.9h-.9zM199.7,262.1h.9v.9h-.9zM193.4,273.7h.9v.9h-.9zM179.0,290.7h.9v.9h-.9zM187.6,285.7h.9v.9h-.9zM200.4,265.2h.9v.9h-.9zM191.3,292.1h.9v.9h-.9zM181.0,289.7h.9v.9h-.9zM197.4,275.6h.9v.9h-.9zM189.0,279.7h.9v.9h-.9zM190.3,276.9h.9v.9h-.9zM199.0,266.6h.9v.9h-.9zM183.5,286.2h.9v.9h-.9zM197.6,271.6h.9v.9h-.9zM191.7,273.7h.9v.9h-.9zM198.3,270.3h.9v.9h-.9zM201.2,264.5h.9v.9h-.9zM200.9,270.1h.9v.9h-.9zM203.3,282.7h.9v.9h-.9zM186.5,285.0h.9v.9h-.9zM199.9,266.5h.9v.9h-.9zM201.7,260.8h.9v.9h-.9zM197.3,275.4h.9v.9h-.9zM189.7,287.2h.9v.9h-.9zM186.4,281.7h.9v.9h-.9zM198.9,272.1h.9v.9h-.9zM192.3,287.7h.9v.9h-.9zM183.3,279.5h.9v.9h-.9zM185.1,291.0h.9v.9h-.9zM184.4,293.0h.9v.9h-.9zM200.8,263.7h.9v.9h-.9zM189.9,279.2h.9v.9h-.9zM183.6,286.3h.9v.9h-.9zM187.5,279.4h.9v.9h-.9zM194.7,277.2h.9v.9h-.9zM184.1,290.1h.9v.9h-.9zM195.2,270.3h.9v.9h-.9zM187.6,283.8h.9v.9h-.9zM191.6,275.3h.9v.9h-.9zM191.3,278.6h.9v.9h-.9zM188.7,286.5h.9v.9h-.9zM181.2,275.9h.9v.9h-.9zM200.4,264.8h.9v.9h-.9zM190.2,288.2h.9v.9h-.9zM198.5,267.1h.9v.9h-.9zM185.9,286.8h.9v.9h-.9zM184.8,288.0h.9v.9h-.9zM196.8,274.3h.9v.9h-.9zM185.4,289.5h.9v.9h-.9zM192.2,277.7h.9v.9h-.9zM193.8,275.9h.9v.9h-.9zM198.8,284.3h.9v.9h-.9zM182.5,285.0h.9v.9h-.9zM185.9,291.3h.9v.9h-.9zM188.4,282.2h.9v.9h-.9zM186.7,271.2h.9v.9h-.9zM196.2,269.2h.9v.9h-.9zM188.9,290.4h.9v.9h-.9zM181.7,282.6h.9v.9h-.9zM180.2,284.1h.9v.9h-.9zM185.4,271.4h.9v.9h-.9zM194.2,293.6h.9v.9h-.9zM193.7,267.3h.9v.9h-.9zM188.4,287.0h.9v.9h-.9zM200.0,264.6h.9v.9h-.9zM191.7,293.3h.9v.9h-.9zM188.4,292.6h.9v.9h-.9zM197.0,273.1h.9v.9h-.9zM188.6,286.4h.9v.9h-.9zM185.9,287.0h.9v.9h-.9zM196.3,277.6h.9v.9h-.9zM191.1,278.5h.9v.9h-.9zM192.4,294.2h.9v.9h-.9zM192.6,268.4h.9v.9h-.9zM203.8,263.4h.9v.9h-.9zM197.1,273.4h.9v.9h-.9zM197.1,272.5h.9v.9h-.9zM191.2,277.8h.9v.9h-.9zM194.5,265.1h.9v.9h-.9zM192.6,282.1h.9v.9h-.9zM191.1,280.2h.9v.9h-.9zM195.7,275.7h.9v.9h-.9zM193.2,269.3h.9v.9h-.9zM193.1,271.9h.9v.9h-.9zM188.4,285.7h.9v.9h-.9zM192.3,296.1h.9v.9h-.9zM174.6,292.5h.9v.9h-.9zM191.4,283.3h.9v.9h-.9zM191.9,274.2h.9v.9h-.9zM192.5,283.4h.9v.9h-.9zM197.5,269.8h.9v.9h-.9zM186.7,293.8h.9v.9h-.9zM180.3,280.0h.9v.9h-.9zM203.7,264.2h.9v.9h-.9zM196.8,274.6h.9v.9h-.9zM180.8,286.8h.9v.9h-.9zM189.1,292.4h.9v.9h-.9zM201.9,257.3h.9v.9h-.9zM194.0,274.8h.9v.9h-.9zM186.8,286.9h.9v.9h-.9zM198.6,262.7h.9v.9h-.9zM188.6,283.9h.9v.9h-.9zM200.0,267.0h.9v.9h-.9zM193.1,284.5h.9v.9h-.9zM197.0,274.1h.9v.9h-.9zM187.2,285.5h.9v.9h-.9zM181.5,289.5h.9v.9h-.9zM193.4,275.1h.9v.9h-.9zM191.3,281.5h.9v.9h-.9zM191.8,270.7h.9v.9h-.9zM186.2,281.6h.9v.9h-.9zM196.4,274.9h.9v.9h-.9zM199.8,273.2h.9v.9h-.9zM192.4,278.0h.9v.9h-.9zM183.1,289.0h.9v.9h-.9zM194.1,277.7h.9v.9h-.9zM193.4,276.2h.9v.9h-.9zM186.4,278.9h.9v.9h-.9zM186.7,278.9h.9v.9h-.9zM192.4,283.4h.9v.9h-.9zM184.2,290.8h.9v.9h-.9zM184.5,289.6h.9v.9h-.9zM187.3,289.5h.9v.9h-.9zM189.2,282.5h.9v.9h-.9zM190.5,287.0h.9v.9h-.9zM183.3,293.0h.9v.9h-.9zM196.5,276.7h.9v.9h-.9zM192.5,281.9h.9v.9h-.9zM200.7,274.1h.9v.9h-.9zM199.7,265.6h.9v.9h-.9zM180.8,285.1h.9v.9h-.9zM195.0,275.6h.9v.9h-.9zM189.8,287.3h.9v.9h-.9zM190.3,279.3h.9v.9h-.9zM189.1,292.0h.9v.9h-.9zM205.1,258.9h.9v.9h-.9zM191.8,274.9h.9v.9h-.9zM189.0,281.3h.9v.9h-.9zM188.9,272.8h.9v.9h-.9zM197.3,263.8h.9v.9h-.9zM189.5,284.5h.9v.9h-.9zM179.1,283.9h.9v.9h-.9zM194.2,281.4h.9v.9h-.9zM189.3,279.5h.9v.9h-.9zM181.8,290.8h.9v.9h-.9zM187.9,294.2h.9v.9h-.9zM195.7,279.8h.9v.9h-.9zM192.3,281.5h.9v.9h-.9zM191.3,281.8h.9v.9h-.9zM201.2,264.2h.9v.9h-.9zM203.1,273.5h.9v.9h-.9zM196.8,274.0h.9v.9h-.9zM190.7,287.1h.9v.9h-.9zM194.5,276.2h.9v.9h-.9zM184.7,288.0h.9v.9h-.9zM184.5,282.7h.9v.9h-.9zM199.5,272.7h.9v.9h-.9zM184.9,285.0h.9v.9h-.9zM191.7,286.8h.9v.9h-.9zM183.2,285.9h.9v.9h-.9zM192.8,268.9h.9v.9h-.9zM185.9,290.7h.9v.9h-.9zM193.0,278.9h.9v.9h-.9zM189.8,278.5h.9v.9h-.9zM187.5,283.9h.9v.9h-.9zM190.1,280.4h.9v.9h-.9zM183.3,288.0h.9v.9h-.9zM192.6,275.6h.9v.9h-.9zM186.6,277.6h.9v.9h-.9zM196.5,265.3h.9v.9h-.9zM187.2,280.7h.9v.9h-.9zM193.6,280.3h.9v.9h-.9zM197.1,287.1h.9v.9h-.9zM194.3,267.6h.9v.9h-.9zM193.8,284.1h.9v.9h-.9zM196.5,277.0h.9v.9h-.9zM187.0,288.9h.9v.9h-.9zM197.6,273.7h.9v.9h-.9zM206.5,259.9h.9v.9h-.9zM185.2,290.8h.9v.9h-.9zM197.2,267.9h.9v.9h-.9zM193.3,272.7h.9v.9h-.9zM200.5,265.0h.9v.9h-.9zM191.3,279.7h.9v.9h-.9zM184.4,290.5h.9v.9h-.9zM200.4,264.1h.9v.9h-.9zM196.1,275.2h.9v.9h-.9zM185.4,286.8h.9v.9h-.9zM190.3,285.7h.9v.9h-.9zM193.9,273.1h.9v.9h-.9zM190.9,282.9h.9v.9h-.9zM186.5,283.8h.9v.9h-.9zM190.1,282.1h.9v.9h-.9zM188.8,279.0h.9v.9h-.9zM196.8,263.1h.9v.9h-.9zM188.4,286.2h.9v.9h-.9zM198.5,262.1h.9v.9h-.9zM199.7,267.9h.9v.9h-.9zM185.5,284.0h.9v.9h-.9zM194.6,275.3h.9v.9h-.9zM195.3,270.3h.9v.9h-.9zM185.9,277.8h.9v.9h-.9zM192.4,280.0h.9v.9h-.9zM200.9,272.0h.9v.9h-.9zM200.4,273.2h.9v.9h-.9zM186.0,290.4h.9v.9h-.9zM182.9,292.1h.9v.9h-.9zM194.2,270.7h.9v.9h-.9zM193.6,281.2h.9v.9h-.9zM191.6,280.3h.9v.9h-.9zM189.8,276.5h.9v.9h-.9zM190.4,277.6h.9v.9h-.9zM198.3,265.3h.9v.9h-.9zM197.8,265.3h.9v.9h-.9zM184.0,276.1h.9v.9h-.9zM197.7,270.2h.9v.9h-.9zM193.3,280.7h.9v.9h-.9zM190.1,283.5h.9v.9h-.9zM197.0,276.1h.9v.9h-.9zM191.6,277.2h.9v.9h-.9zM191.4,271.6h.9v.9h-.9zM193.3,274.0h.9v.9h-.9zM198.0,277.9h.9v.9h-.9zM180.4,291.3h.9v.9h-.9zM197.2,270.5h.9v.9h-.9zM192.8,285.2h.9v.9h-.9zM199.8,271.5h.9v.9h-.9zM194.3,267.0h.9v.9h-.9zM189.9,273.8h.9v.9h-.9zM186.7,279.2h.9v.9h-.9zM190.4,280.5h.9v.9h-.9zM193.2,274.2h.9v.9h-.9zM184.4,286.0h.9v.9h-.9zM186.3,290.5h.9v.9h-.9zM193.1,298.0h.9v.9h-.9zM188.8,279.2h.9v.9h-.9zM192.7,284.5h.9v.9h-.9zM189.7,277.9h.9v.9h-.9zM188.1,286.1h.9v.9h-.9zM191.2,274.4h.9v.9h-.9zM182.7,282.1h.9v.9h-.9zM201.3,266.8h.9v.9h-.9zM196.7,278.5h.9v.9h-.9zM198.3,268.5h.9v.9h-.9zM186.5,285.3h.9v.9h-.9zM186.9,285.0h.9v.9h-.9zM190.7,288.3h.9v.9h-.9zM193.8,265.6h.9v.9h-.9zM184.8,286.5h.9v.9h-.9zM190.4,294.9h.9v.9h-.9zM188.8,282.2h.9v.9h-.9zM185.5,287.0h.9v.9h-.9zM181.4,287.4h.9v.9h-.9zM204.0,268.1h.9v.9h-.9zM195.8,278.7h.9v.9h-.9zM191.1,289.2h.9v.9h-.9zM199.7,270.3h.9v.9h-.9zM193.6,268.2h.9v.9h-.9zM192.4,281.9h.9v.9h-.9zM196.9,281.1h.9v.9h-.9zM199.3,269.6h.9v.9h-.9zM191.4,277.1h.9v.9h-.9zM199.4,273.2h.9v.9h-.9zM182.6,289.4h.9v.9h-.9zM200.0,264.5h.9v.9h-.9zM188.5,281.4h.9v.9h-.9zM189.8,273.3h.9v.9h-.9zM186.7,283.0h.9v.9h-.9zM196.8,290.9h.9v.9h-.9zM186.5,280.2h.9v.9h-.9zM189.0,282.3h.9v.9h-.9zM185.4,281.9h.9v.9h-.9zM197.3,273.3h.9v.9h-.9zM182.8,281.9h.9v.9h-.9zM194.8,277.4h.9v.9h-.9zM194.5,276.4h.9v.9h-.9zM188.8,291.2h.9v.9h-.9zM196.8,275.9h.9v.9h-.9zM185.7,278.7h.9v.9h-.9zM185.4,292.7h.9v.9h-.9zM188.9,283.4h.9v.9h-.9zM198.5,270.9h.9v.9h-.9zM189.4,274.9h.9v.9h-.9zM185.9,290.9h.9v.9h-.9zM196.1,278.8h.9v.9h-.9zM180.2,286.4h.9v.9h-.9zM208.8,280.1h.9v.9h-.9zM195.7,285.5h.9v.9h-.9zM194.2,282.4h.9v.9h-.9zM195.1,272.6h.9v.9h-.9zM188.7,285.3h.9v.9h-.9zM196.2,271.6h.9v.9h-.9zM204.9,264.3h.9v.9h-.9zM193.0,272.8h.9v.9h-.9zM197.2,270.7h.9v.9h-.9zM195.4,285.6h.9v.9h-.9zM194.8,285.2h.9v.9h-.9zM185.3,280.5h.9v.9h-.9zM187.4,279.3h.9v.9h-.9zM191.9,279.1h.9v.9h-.9zM183.2,286.9h.9v.9h-.9zM187.3,286.4h.9v.9h-.9zM201.1,263.6h.9v.9h-.9zM186.4,269.3h.9v.9h-.9zM186.6,280.9h.9v.9h-.9zM183.4,291.9h.9v.9h-.9zM192.0,278.8h.9v.9h-.9zM183.1,281.9h.9v.9h-.9zM187.9,281.2h.9v.9h-.9zM177.4,276.6h.9v.9h-.9zM195.7,270.3h.9v.9h-.9zM199.0,276.4h.9v.9h-.9zM188.1,287.4h.9v.9h-.9zM185.4,280.2h.9v.9h-.9zM202.2,262.3h.9v.9h-.9zM185.7,284.5h.9v.9h-.9zM188.6,280.2h.9v.9h-.9zM190.4,271.7h.9v.9h-.9zM188.2,282.4h.9v.9h-.9zM191.7,274.9h.9v.9h-.9zM192.9,272.8h.9v.9h-.9zM183.9,292.7h.9v.9h-.9zM196.6,270.5h.9v.9h-.9zM190.2,289.6h.9v.9h-.9zM193.4,275.4h.9v.9h-.9zM188.2,277.0h.9v.9h-.9zM192.4,285.0h.9v.9h-.9zM194.6,284.5h.9v.9h-.9zM188.7,285.6h.9v.9h-.9zM191.3,280.8h.9v.9h-.9zM202.2,272.7h.9v.9h-.9zM197.8,280.9h.9v.9h-.9zM197.6,275.1h.9v.9h-.9zM181.7,284.5h.9v.9h-.9zM187.5,282.0h.9v.9h-.9zM184.6,282.6h.9v.9h-.9zM190.4,281.5h.9v.9h-.9zM187.0,274.7h.9v.9h-.9zM189.6,293.2h.9v.9h-.9zM186.7,290.0h.9v.9h-.9zM185.4,275.1h.9v.9h-.9zM194.0,280.0h.9v.9h-.9zM185.7,290.2h.9v.9h-.9zM200.2,263.3h.9v.9h-.9zM186.7,281.1h.9v.9h-.9zM190.6,281.4h.9v.9h-.9zM197.4,271.0h.9v.9h-.9zM184.6,285.4h.9v.9h-.9zM201.8,262.5h.9v.9h-.9zM191.4,275.0h.9v.9h-.9zM189.0,288.1h.9v.9h-.9zM199.6,263.8h.9v.9h-.9zM193.9,282.9h.9v.9h-.9zM199.0,264.4h.9v.9h-.9zM187.3,292.6h.9v.9h-.9zM200.3,280.9h.9v.9h-.9zM197.5,268.2h.9v.9h-.9zM194.8,269.1h.9v.9h-.9zM188.8,276.8h.9v.9h-.9zM188.5,278.8h.9v.9h-.9zM193.8,269.6h.9v.9h-.9zM197.8,270.7h.9v.9h-.9zM178.6,276.1h.9v.9h-.9zM200.8,258.3h.9v.9h-.9zM201.2,283.8h.9v.9h-.9zM193.9,274.7h.9v.9h-.9zM188.8,282.5h.9v.9h-.9zM192.8,287.9h.9v.9h-.9zM188.9,293.2h.9v.9h-.9zM192.1,272.0h.9v.9h-.9zM194.5,282.4h.9v.9h-.9zM192.4,277.7h.9v.9h-.9zM185.8,284.8h.9v.9h-.9zM195.5,271.0h.9v.9h-.9zM182.4,284.2h.9v.9h-.9zM196.1,267.6h.9v.9h-.9zM194.5,281.1h.9v.9h-.9zM195.9,273.6h.9v.9h-.9zM182.6,290.1h.9v.9h-.9zM198.4,264.2h.9v.9h-.9zM190.0,284.8h.9v.9h-.9zM189.5,290.8h.9v.9h-.9zM195.4,280.9h.9v.9h-.9zM195.9,276.8h.9v.9h-.9zM182.9,285.4h.9v.9h-.9zM190.6,281.1h.9v.9h-.9zM190.5,268.2h.9v.9h-.9zM192.8,277.9h.9v.9h-.9zM186.9,284.0h.9v.9h-.9zM194.0,281.6h.9v.9h-.9zM191.4,283.1h.9v.9h-.9zM193.4,271.2h.9v.9h-.9zM197.0,269.9h.9v.9h-.9zM193.7,277.1h.9v.9h-.9zM197.9,271.2h.9v.9h-.9zM194.4,281.1h.9v.9h-.9zM197.0,282.4h.9v.9h-.9zM189.6,282.5h.9v.9h-.9zM192.2,283.7h.9v.9h-.9zM193.1,284.0h.9v.9h-.9zM195.9,268.1h.9v.9h-.9zM193.3,271.4h.9v.9h-.9zM192.1,268.6h.9v.9h-.9zM187.8,273.9h.9v.9h-.9zM194.1,273.8h.9v.9h-.9zM195.4,275.1h.9v.9h-.9zM198.1,270.1h.9v.9h-.9zM198.7,270.2h.9v.9h-.9zM196.8,264.8h.9v.9h-.9zM201.5,265.4h.9v.9h-.9zM189.6,292.1h.9v.9h-.9zM198.4,277.7h.9v.9h-.9zM189.8,291.1h.9v.9h-.9zM194.6,283.6h.9v.9h-.9zM186.3,274.6h.9v.9h-.9zM194.7,283.0h.9v.9h-.9zM182.5,285.3h.9v.9h-.9zM188.3,286.3h.9v.9h-.9zM204.0,262.8h.9v.9h-.9zM184.6,284.3h.9v.9h-.9zM195.1,270.9h.9v.9h-.9zM187.7,281.3h.9v.9h-.9zM195.0,267.8h.9v.9h-.9zM191.0,273.2h.9v.9h-.9zM197.6,280.2h.9v.9h-.9zM185.1,279.1h.9v.9h-.9zM201.3,262.7h.9v.9h-.9zM186.2,276.1h.9v.9h-.9zM192.7,284.5h.9v.9h-.9zM193.3,275.4h.9v.9h-.9zM197.4,273.3h.9v.9h-.9zM187.8,272.8h.9v.9h-.9zM194.0,263.0h.9v.9h-.9zM192.2,280.3h.9v.9h-.9zM201.4,268.1h.9v.9h-.9zM191.7,267.1h.9v.9h-.9zM193.3,274.2h.9v.9h-.9zM199.7,266.3h.9v.9h-.9zM197.8,274.9h.9v.9h-.9zM194.6,272.2h.9v.9h-.9zM190.8,280.9h.9v.9h-.9zM194.0,273.7h.9v.9h-.9zM203.2,273.7h.9v.9h-.9zM196.6,265.9h.9v.9h-.9zM186.2,292.5h.9v.9h-.9zM192.0,273.1h.9v.9h-.9zM200.5,267.4h.9v.9h-.9zM178.3,286.3h.9v.9h-.9zM187.7,279.8h.9v.9h-.9zM199.7,269.5h.9v.9h-.9zM199.4,269.7h.9v.9h-.9zM187.1,290.7h.9v.9h-.9zM194.4,268.2h.9v.9h-.9zM194.4,279.8h.9v.9h-.9zM182.5,280.4h.9v.9h-.9zM196.2,270.9h.9v.9h-.9zM196.9,270.1h.9v.9h-.9zM195.6,282.4h.9v.9h-.9zM193.8,274.7h.9v.9h-.9zM187.2,276.1h.9v.9h-.9zM190.8,273.1h.9v.9h-.9zM194.1,290.5h.9v.9h-.9zM196.0,274.6h.9v.9h-.9zM199.7,269.5h.9v.9h-.9zM190.4,289.1h.9v.9h-.9zM186.3,290.2h.9v.9h-.9zM192.2,277.1h.9v.9h-.9zM181.0,284.2h.9v.9h-.9zM204.6,257.9h.9v.9h-.9zM195.8,276.1h.9v.9h-.9zM193.2,280.3h.9v.9h-.9zM192.6,285.5h.9v.9h-.9zM191.2,278.7h.9v.9h-.9zM182.7,288.3h.9v.9h-.9zM196.5,271.7h.9v.9h-.9zM186.0,281.2h.9v.9h-.9zM194.5,275.1h.9v.9h-.9zM207.3,259.9h.9v.9h-.9zM191.3,293.2h.9v.9h-.9zM185.7,281.5h.9v.9h-.9zM194.1,269.3h.9v.9h-.9zM185.5,279.0h.9v.9h-.9zM200.6,278.1h.9v.9h-.9zM192.2,279.6h.9v.9h-.9zM195.8,284.3h.9v.9h-.9zM187.0,285.3h.9v.9h-.9zM196.4,271.3h.9v.9h-.9zM198.3,268.2h.9v.9h-.9zM184.7,286.9h.9v.9h-.9zM202.4,270.5h.9v.9h-.9zM189.4,276.9h.9v.9h-.9zM191.3,289.4h.9v.9h-.9zM190.6,279.0h.9v.9h-.9zM188.3,292.2h.9v.9h-.9zM205.0,261.9h.9v.9h-.9zM197.6,275.6h.9v.9h-.9zM185.8,291.6h.9v.9h-.9zM186.3,286.8h.9v.9h-.9zM192.8,280.3h.9v.9h-.9zM197.4,269.6h.9v.9h-.9zM198.4,263.6h.9v.9h-.9zM182.8,277.2h.9v.9h-.9zM197.0,281.3h.9v.9h-.9zM190.2,274.8h.9v.9h-.9zM187.4,293.4h.9v.9h-.9zM179.9,284.0h.9v.9h-.9zM186.6,279.3h.9v.9h-.9zM179.0,288.5h.9v.9h-.9zM185.7,272.7h.9v.9h-.9zM192.5,270.0h.9v.9h-.9zM192.8,288.7h.9v.9h-.9zM186.3,292.6h.9v.9h-.9zM194.3,285.5h.9v.9h-.9zM197.5,279.0h.9v.9h-.9zM197.0,275.9h.9v.9h-.9zM189.0,286.4h.9v.9h-.9zM193.3,289.5h.9v.9h-.9zM197.8,277.1h.9v.9h-.9zM197.1,277.2h.9v.9h-.9zM196.5,271.3h.9v.9h-.9zM190.3,284.9h.9v.9h-.9zM187.5,274.9h.9v.9h-.9zM190.6,286.0h.9v.9h-.9zM201.1,263.1h.9v.9h-.9zM195.6,275.3h.9v.9h-.9zM199.1,272.0h.9v.9h-.9zM194.2,279.8h.9v.9h-.9zM194.4,269.2h.9v.9h-.9zM188.9,286.5h.9v.9h-.9zM193.3,275.2h.9v.9h-.9zM188.2,278.4h.9v.9h-.9zM202.5,264.0h.9v.9h-.9zM190.3,292.0h.9v.9h-.9zM188.3,285.4h.9v.9h-.9zM194.2,274.5h.9v.9h-.9zM198.2,265.5h.9v.9h-.9zM190.0,287.3h.9v.9h-.9zM194.3,275.8h.9v.9h-.9zM183.5,291.8h.9v.9h-.9zM201.7,258.9h.9v.9h-.9zM198.3,273.7h.9v.9h-.9zM195.9,269.9h.9v.9h-.9zM191.9,277.3h.9v.9h-.9zM194.5,274.7h.9v.9h-.9zM203.6,263.8h.9v.9h-.9zM196.5,267.9h.9v.9h-.9zM191.9,278.2h.9v.9h-.9zM182.1,290.2h.9v.9h-.9zM194.5,275.5h.9v.9h-.9zM200.1,271.3h.9v.9h-.9zM196.5,267.3h.9v.9h-.9zM189.8,275.2h.9v.9h-.9zM189.7,287.4h.9v.9h-.9zM193.9,267.9h.9v.9h-.9zM198.9,271.9h.9v.9h-.9zM200.7,262.5h.9v.9h-.9zM202.4,279.4h.9v.9h-.9zM196.4,265.7h.9v.9h-.9zM196.9,275.2h.9v.9h-.9zM185.3,286.3h.9v.9h-.9zM184.3,277.3h.9v.9h-.9zM192.2,290.8h.9v.9h-.9zM201.3,275.1h.9v.9h-.9zM190.2,286.8h.9v.9h-.9zM190.0,272.6h.9v.9h-.9zM185.2,289.6h.9v.9h-.9zM189.7,295.5h.9v.9h-.9zM199.0,273.5h.9v.9h-.9zM194.4,271.5h.9v.9h-.9zM182.8,283.8h.9v.9h-.9zM189.8,286.2h.9v.9h-.9zM190.4,275.4h.9v.9h-.9zM192.0,287.6h.9v.9h-.9zM186.0,286.7h.9v.9h-.9zM196.2,266.5h.9v.9h-.9zM185.4,288.9h.9v.9h-.9zM192.9,280.5h.9v.9h-.9zM207.0,265.8h.9v.9h-.9zM193.7,273.7h.9v.9h-.9zM183.7,291.5h.9v.9h-.9zM202.9,296.5h.9v.9h-.9zM187.0,288.3h.9v.9h-.9zM179.9,288.9h.9v.9h-.9zM183.3,289.0h.9v.9h-.9zM190.9,277.2h.9v.9h-.9zM191.3,269.5h.9v.9h-.9zM191.4,270.0h.9v.9h-.9zM185.6,291.5h.9v.9h-.9zM200.2,261.5h.9v.9h-.9zM181.3,285.4h.9v.9h-.9zM184.3,286.6h.9v.9h-.9zM182.1,283.1h.9v.9h-.9zM191.3,277.2h.9v.9h-.9zM168.0,265.7h.9v.9h-.9zM182.9,285.6h.9v.9h-.9zM191.0,275.2h.9v.9h-.9zM192.0,272.0h.9v.9h-.9zM190.5,287.2h.9v.9h-.9zM179.6,285.1h.9v.9h-.9zM189.7,277.5h.9v.9h-.9zM187.7,282.2h.9v.9h-.9zM203.3,262.3h.9v.9h-.9zM189.5,280.3h.9v.9h-.9zM190.8,276.7h.9v.9h-.9zM196.8,271.9h.9v.9h-.9zM182.8,282.7h.9v.9h-.9zM185.0,284.7h.9v.9h-.9zM190.9,279.2h.9v.9h-.9zM184.2,283.0h.9v.9h-.9zM199.1,268.5h.9v.9h-.9zM192.4,277.6h.9v.9h-.9zM201.2,263.2h.9v.9h-.9zM186.5,292.1h.9v.9h-.9zM186.5,283.5h.9v.9h-.9zM188.9,278.5h.9v.9h-.9zM198.7,277.3h.9v.9h-.9zM192.4,278.5h.9v.9h-.9zM191.9,281.4h.9v.9h-.9zM195.2,267.9h.9v.9h-.9zM190.4,280.9h.9v.9h-.9zM188.7,276.8h.9v.9h-.9zM183.6,290.4h.9v.9h-.9zM183.8,287.5h.9v.9h-.9zM191.4,266.4h.9v.9h-.9zM187.7,277.8h.9v.9h-.9zM185.7,285.9h.9v.9h-.9zM182.0,289.5h.9v.9h-.9zM195.6,275.5h.9v.9h-.9zM185.1,285.5h.9v.9h-.9zM186.5,286.2h.9v.9h-.9zM187.8,282.1h.9v.9h-.9zM190.7,275.2h.9v.9h-.9zM189.9,277.8h.9v.9h-.9zM194.3,283.3h.9v.9h-.9zM200.6,265.2h.9v.9h-.9zM185.0,268.1h.9v.9h-.9zM193.1,281.1h.9v.9h-.9zM189.9,276.3h.9v.9h-.9zM186.1,291.2h.9v.9h-.9zM196.7,272.2h.9v.9h-.9zM204.7,277.7h.9v.9h-.9zM185.5,290.2h.9v.9h-.9zM188.5,283.4h.9v.9h-.9zM189.7,281.4h.9v.9h-.9zM196.6,274.3h.9v.9h-.9zM192.5,283.8h.9v.9h-.9zM193.5,286.5h.9v.9h-.9zM189.8,268.8h.9v.9h-.9zM191.7,277.0h.9v.9h-.9zM200.5,271.6h.9v.9h-.9zM192.1,278.0h.9v.9h-.9zM185.1,275.8h.9v.9h-.9zM191.3,280.1h.9v.9h-.9zM200.9,286.1h.9v.9h-.9zM201.2,270.2h.9v.9h-.9zM191.6,287.2h.9v.9h-.9zM193.1,283.7h.9v.9h-.9zM198.0,267.5h.9v.9h-.9zM192.6,275.5h.9v.9h-.9zM197.9,271.8h.9v.9h-.9zM197.2,279.5h.9v.9h-.9zM190.7,282.3h.9v.9h-.9zM197.6,273.3h.9v.9h-.9zM191.2,274.4h.9v.9h-.9zM188.1,285.8h.9v.9h-.9zM171.8,283.7h.9v.9h-.9zM191.9,282.2h.9v.9h-.9zM199.5,267.1h.9v.9h-.9zM192.9,273.9h.9v.9h-.9zM191.3,280.8h.9v.9h-.9zM191.9,279.3h.9v.9h-.9zM184.9,280.5h.9v.9h-.9zM189.3,278.1h.9v.9h-.9zM194.8,275.3h.9v.9h-.9zM204.9,268.5h.9v.9h-.9zM193.6,283.9h.9v.9h-.9zM195.4,270.7h.9v.9h-.9zM188.2,282.4h.9v.9h-.9zM188.4,287.2h.9v.9h-.9zM194.9,286.6h.9v.9h-.9zM181.7,285.3h.9v.9h-.9zM191.0,285.7h.9v.9h-.9zM181.0,288.1h.9v.9h-.9zM182.5,287.8h.9v.9h-.9zM210.8,256.5h.9v.9h-.9zM188.2,288.9h.9v.9h-.9zM186.5,280.1h.9v.9h-.9zM198.2,268.7h.9v.9h-.9zM201.8,267.5h.9v.9h-.9zM194.1,275.0h.9v.9h-.9zM190.5,279.7h.9v.9h-.9zM193.8,271.6h.9v.9h-.9zM184.4,288.8h.9v.9h-.9zM204.3,262.0h.9v.9h-.9zM193.3,277.9h.9v.9h-.9zM200.1,277.3h.9v.9h-.9zM198.7,268.2h.9v.9h-.9zM188.3,286.5h.9v.9h-.9zM181.7,284.7h.9v.9h-.9zM196.5,272.5h.9v.9h-.9zM176.5,284.2h.9v.9h-.9zM201.9,266.2h.9v.9h-.9zM181.9,287.4h.9v.9h-.9zM183.4,291.5h.9v.9h-.9zM196.3,278.9h.9v.9h-.9zM195.5,279.3h.9v.9h-.9zM191.5,286.7h.9v.9h-.9zM187.5,286.7h.9v.9h-.9zM199.7,268.5h.9v.9h-.9zM187.3,280.4h.9v.9h-.9zM187.8,290.3h.9v.9h-.9zM200.4,274.5h.9v.9h-.9zM188.6,279.1h.9v.9h-.9zM187.7,287.6h.9v.9h-.9zM196.0,280.0h.9v.9h-.9zM185.5,288.1h.9v.9h-.9zM190.3,283.7h.9v.9h-.9zM194.7,274.8h.9v.9h-.9zM207.8,261.3h.9v.9h-.9zM197.0,275.1h.9v.9h-.9zM189.7,279.8h.9v.9h-.9zM193.7,277.4h.9v.9h-.9zM200.0,267.0h.9v.9h-.9zM191.3,272.8h.9v.9h-.9zM188.5,285.0h.9v.9h-.9zM190.2,279.8h.9v.9h-.9zM186.7,283.2h.9v.9h-.9zM184.0,291.7h.9v.9h-.9zM182.6,290.2h.9v.9h-.9zM200.7,267.3h.9v.9h-.9zM196.3,277.3h.9v.9h-.9zM201.5,269.8h.9v.9h-.9zM190.3,286.6h.9v.9h-.9zM184.7,286.9h.9v.9h-.9zM187.2,280.9h.9v.9h-.9zM200.1,271.1h.9v.9h-.9zM200.0,261.7h.9v.9h-.9zM184.3,286.8h.9v.9h-.9zM191.7,275.5h.9v.9h-.9zM180.8,283.8h.9v.9h-.9zM188.1,273.5h.9v.9h-.9zM193.6,282.0h.9v.9h-.9zM201.0,263.6h.9v.9h-.9zM198.0,275.4h.9v.9h-.9zM185.6,289.5h.9v.9h-.9zM198.4,274.6h.9v.9h-.9zM189.8,278.0h.9v.9h-.9zM192.2,276.8h.9v.9h-.9zM183.9,281.6h.9v.9h-.9zM197.2,267.9h.9v.9h-.9zM188.3,275.4h.9v.9h-.9zM195.5,269.2h.9v.9h-.9zM198.3,271.5h.9v.9h-.9zM183.4,289.9h.9v.9h-.9zM193.0,280.6h.9v.9h-.9zM183.6,288.9h.9v.9h-.9zM190.2,279.9h.9v.9h-.9zM192.1,267.2h.9v.9h-.9zM187.8,290.7h.9v.9h-.9zM199.5,262.4h.9v.9h-.9zM193.8,284.0h.9v.9h-.9zM194.6,268.9h.9v.9h-.9zM190.1,278.0h.9v.9h-.9zM189.6,275.1h.9v.9h-.9zM182.7,280.9h.9v.9h-.9zM196.4,265.2h.9v.9h-.9zM193.8,268.7h.9v.9h-.9zM212.0,259.4h.9v.9h-.9zM190.2,287.3h.9v.9h-.9zM199.1,267.1h.9v.9h-.9zM191.5,275.1h.9v.9h-.9zM183.8,284.0h.9v.9h-.9zM184.9,282.4h.9v.9h-.9zM193.8,273.5h.9v.9h-.9zM183.1,282.1h.9v.9h-.9zM190.8,275.6h.9v.9h-.9zM195.6,272.3h.9v.9h-.9zM194.4,272.2h.9v.9h-.9zM203.3,260.2h.9v.9h-.9zM192.4,273.9h.9v.9h-.9zM190.6,269.6h.9v.9h-.9zM184.5,281.4h.9v.9h-.9zM189.1,279.1h.9v.9h-.9zM198.4,268.0h.9v.9h-.9zM195.6,266.2h.9v.9h-.9zM192.0,276.2h.9v.9h-.9zM198.4,283.6h.9v.9h-.9zM189.0,279.6h.9v.9h-.9zM192.5,275.6h.9v.9h-.9zM198.4,268.7h.9v.9h-.9zM182.6,288.2h.9v.9h-.9zM194.7,271.0h.9v.9h-.9zM184.1,286.7h.9v.9h-.9zM189.4,280.5h.9v.9h-.9zM196.6,280.4h.9v.9h-.9zM187.6,289.4h.9v.9h-.9zM196.4,271.3h.9v.9h-.9zM200.7,264.9h.9v.9h-.9zM194.6,277.1h.9v.9h-.9zM202.2,282.1h.9v.9h-.9zM199.8,263.4h.9v.9h-.9zM193.1,271.5h.9v.9h-.9zM198.7,264.3h.9v.9h-.9zM185.1,286.1h.9v.9h-.9zM187.3,286.2h.9v.9h-.9zM204.0,262.0h.9v.9h-.9zM194.4,270.9h.9v.9h-.9zM186.5,286.2h.9v.9h-.9zM200.3,273.0h.9v.9h-.9zM190.9,273.9h.9v.9h-.9zM180.1,285.2h.9v.9h-.9zM197.2,269.8h.9v.9h-.9zM196.7,270.9h.9v.9h-.9zM194.6,279.3h.9v.9h-.9zM190.0,276.8h.9v.9h-.9zM194.7,287.4h.9v.9h-.9zM193.7,273.8h.9v.9h-.9zM193.0,278.8h.9v.9h-.9zM192.9,282.3h.9v.9h-.9zM192.9,277.9h.9v.9h-.9zM191.5,275.2h.9v.9h-.9zM185.2,287.5h.9v.9h-.9zM198.5,269.1h.9v.9h-.9zM191.9,276.9h.9v.9h-.9zM185.9,291.7h.9v.9h-.9zM185.0,291.7h.9v.9h-.9zM192.4,282.9h.9v.9h-.9zM190.9,271.0h.9v.9h-.9zM189.1,288.9h.9v.9h-.9zM184.4,290.3h.9v.9h-.9zM185.2,287.6h.9v.9h-.9zM184.5,283.0h.9v.9h-.9zM202.8,259.4h.9v.9h-.9zM195.7,277.2h.9v.9h-.9zM188.5,283.8h.9v.9h-.9zM185.6,282.3h.9v.9h-.9zM185.4,291.3h.9v.9h-.9zM184.9,289.4h.9v.9h-.9zM192.0,272.3h.9v.9h-.9zM180.0,290.4h.9v.9h-.9zM183.6,284.1h.9v.9h-.9zM198.0,266.1h.9v.9h-.9zM188.9,282.1h.9v.9h-.9zM191.5,271.4h.9v.9h-.9zM197.6,275.0h.9v.9h-.9zM190.6,282.7h.9v.9h-.9zM202.7,269.1h.9v.9h-.9zM187.2,282.3h.9v.9h-.9zM198.7,276.2h.9v.9h-.9zM191.1,282.4h.9v.9h-.9zM194.8,277.4h.9v.9h-.9zM185.3,285.6h.9v.9h-.9zM187.4,275.1h.9v.9h-.9zM185.6,291.0h.9v.9h-.9zM189.3,288.3h.9v.9h-.9zM179.2,290.3h.9v.9h-.9zM190.1,284.0h.9v.9h-.9zM192.3,278.3h.9v.9h-.9zM189.7,269.6h.9v.9h-.9zM189.1,287.8h.9v.9h-.9zM208.2,265.7h.9v.9h-.9zM179.9,278.9h.9v.9h-.9zM194.0,279.3h.9v.9h-.9zM189.2,278.8h.9v.9h-.9zM183.3,282.7h.9v.9h-.9zM188.7,273.0h.9v.9h-.9zM192.8,269.9h.9v.9h-.9zM200.6,263.7h.9v.9h-.9zM192.6,278.0h.9v.9h-.9zM196.1,274.5h.9v.9h-.9zM199.9,267.5h.9v.9h-.9zM189.6,277.0h.9v.9h-.9zM195.3,270.5h.9v.9h-.9zM190.6,290.3h.9v.9h-.9zM184.2,287.6h.9v.9h-.9zM200.5,264.7h.9v.9h-.9zM187.2,284.0h.9v.9h-.9zM198.3,281.0h.9v.9h-.9zM189.9,277.5h.9v.9h-.9zM193.5,274.8h.9v.9h-.9zM183.5,281.7h.9v.9h-.9zM188.9,286.0h.9v.9h-.9zM193.7,266.2h.9v.9h-.9zM194.9,281.0h.9v.9h-.9zM196.6,268.0h.9v.9h-.9zM189.4,280.9h.9v.9h-.9zM201.9,267.9h.9v.9h-.9zM199.1,269.7h.9v.9h-.9zM185.5,269.9h.9v.9h-.9zM191.5,280.6h.9v.9h-.9zM199.1,261.5h.9v.9h-.9zM198.2,264.1h.9v.9h-.9zM200.8,272.6h.9v.9h-.9zM192.1,280.2h.9v.9h-.9zM194.4,270.8h.9v.9h-.9zM193.7,279.2h.9v.9h-.9zM181.6,281.7h.9v.9h-.9zM188.9,284.7h.9v.9h-.9zM185.7,274.3h.9v.9h-.9zM198.0,276.0h.9v.9h-.9zM186.0,287.3h.9v.9h-.9zM190.4,275.1h.9v.9h-.9zM191.9,272.8h.9v.9h-.9zM195.0,276.1h.9v.9h-.9zM189.6,282.9h.9v.9h-.9zM196.0,270.1h.9v.9h-.9zM188.6,278.2h.9v.9h-.9zM191.6,268.8h.9v.9h-.9zM198.4,270.1h.9v.9h-.9zM192.3,279.0h.9v.9h-.9zM196.3,271.3h.9v.9h-.9zM188.4,272.7h.9v.9h-.9zM185.4,291.3h.9v.9h-.9zM184.1,280.6h.9v.9h-.9zM198.2,267.6h.9v.9h-.9zM204.2,267.0h.9v.9h-.9zM184.3,285.6h.9v.9h-.9zM195.7,265.5h.9v.9h-.9zM198.8,268.6h.9v.9h-.9zM199.7,274.5h.9v.9h-.9zM192.0,275.9h.9v.9h-.9zM181.1,287.1h.9v.9h-.9zM190.6,272.2h.9v.9h-.9zM176.9,285.7h.9v.9h-.9zM186.9,286.6h.9v.9h-.9zM190.3,293.3h.9v.9h-.9zM192.3,275.2h.9v.9h-.9zM185.2,275.8h.9v.9h-.9zM197.2,274.9h.9v.9h-.9zM189.2,282.3h.9v.9h-.9zM199.8,274.3h.9v.9h-.9zM204.3,262.2h.9v.9h-.9zM193.0,270.0h.9v.9h-.9zM198.4,270.9h.9v.9h-.9zM194.1,280.7h.9v.9h-.9zM190.1,281.2h.9v.9h-.9zM178.5,287.0h.9v.9h-.9zM191.6,280.1h.9v.9h-.9zM199.4,268.6h.9v.9h-.9zM193.0,284.1h.9v.9h-.9zM176.9,288.4h.9v.9h-.9zM192.3,270.2h.9v.9h-.9zM186.3,289.7h.9v.9h-.9zM189.7,273.5h.9v.9h-.9zM195.1,279.4h.9v.9h-.9zM188.8,278.7h.9v.9h-.9zM192.1,280.4h.9v.9h-.9zM191.4,293.0h.9v.9h-.9zM202.7,260.7h.9v.9h-.9zM193.5,281.6h.9v.9h-.9zM196.1,269.9h.9v.9h-.9zM200.3,268.7h.9v.9h-.9zM192.8,278.0h.9v.9h-.9zM190.8,278.5h.9v.9h-.9zM198.7,269.7h.9v.9h-.9zM194.2,278.8h.9v.9h-.9zM199.4,273.5h.9v.9h-.9zM193.1,279.2h.9v.9h-.9zM198.4,268.6h.9v.9h-.9zM193.1,270.2h.9v.9h-.9zM195.2,275.6h.9v.9h-.9zM196.2,270.0h.9v.9h-.9zM199.1,273.7h.9v.9h-.9zM183.3,280.1h.9v.9h-.9zM202.4,264.4h.9v.9h-.9zM187.4,281.5h.9v.9h-.9zM195.3,285.8h.9v.9h-.9zM191.7,267.8h.9v.9h-.9zM186.5,269.5h.9v.9h-.9zM190.0,277.8h.9v.9h-.9zM186.6,282.2h.9v.9h-.9zM192.3,285.6h.9v.9h-.9zM194.5,275.4h.9v.9h-.9zM186.8,280.1h.9v.9h-.9zM189.9,283.1h.9v.9h-.9zM199.2,278.7h.9v.9h-.9zM200.2,264.1h.9v.9h-.9zM186.7,283.9h.9v.9h-.9zM190.9,293.8h.9v.9h-.9zM177.0,283.1h.9v.9h-.9zM190.5,281.4h.9v.9h-.9zM192.6,278.9h.9v.9h-.9zM183.0,282.7h.9v.9h-.9zM192.2,280.0h.9v.9h-.9zM195.7,280.3h.9v.9h-.9zM190.4,265.1h.9v.9h-.9zM185.2,289.4h.9v.9h-.9zM193.9,285.2h.9v.9h-.9zM189.9,283.6h.9v.9h-.9zM195.6,271.1h.9v.9h-.9zM189.8,286.7h.9v.9h-.9zM196.1,280.8h.9v.9h-.9zM196.6,278.7h.9v.9h-.9zM192.3,276.6h.9v.9h-.9zM189.0,290.7h.9v.9h-.9zM197.5,275.9h.9v.9h-.9zM192.4,285.1h.9v.9h-.9zM201.9,254.9h.9v.9h-.9zM197.6,268.3h.9v.9h-.9zM206.3,260.8h.9v.9h-.9zM194.3,278.1h.9v.9h-.9zM192.9,277.9h.9v.9h-.9zM190.6,271.7h.9v.9h-.9zM189.2,273.2h.9v.9h-.9zM184.3,277.9h.9v.9h-.9zM192.7,288.5h.9v.9h-.9zM189.9,277.9h.9v.9h-.9zM190.2,281.6h.9v.9h-.9zM188.5,280.3h.9v.9h-.9zM195.4,273.3h.9v.9h-.9zM193.6,279.6h.9v.9h-.9zM188.1,278.6h.9v.9h-.9zM201.7,266.9h.9v.9h-.9zM200.0,267.2h.9v.9h-.9zM185.6,285.2h.9v.9h-.9zM179.8,276.7h.9v.9h-.9zM195.8,277.6h.9v.9h-.9zM196.2,281.9h.9v.9h-.9zM195.5,279.6h.9v.9h-.9zM192.9,280.0h.9v.9h-.9zM201.9,263.4h.9v.9h-.9zM184.2,290.4h.9v.9h-.9zM198.9,270.5h.9v.9h-.9zM194.6,269.0h.9v.9h-.9zM189.9,293.0h.9v.9h-.9zM195.8,277.5h.9v.9h-.9zM186.8,289.3h.9v.9h-.9zM198.9,265.2h.9v.9h-.9zM189.1,268.5h.9v.9h-.9zM201.0,266.6h.9v.9h-.9zM194.0,274.8h.9v.9h-.9zM197.9,286.2h.9v.9h-.9zM183.8,289.6h.9v.9h-.9zM200.8,273.7h.9v.9h-.9zM194.9,273.0h.9v.9h-.9zM189.6,285.8h.9v.9h-.9zM194.0,274.0h.9v.9h-.9zM191.2,275.4h.9v.9h-.9zM177.2,287.7h.9v.9h-.9zM184.0,284.5h.9v.9h-.9zM201.2,267.2h.9v.9h-.9zM199.1,265.0h.9v.9h-.9zM189.7,278.9h.9v.9h-.9zM200.0,264.5h.9v.9h-.9zM194.0,276.8h.9v.9h-.9zM192.4,279.5h.9v.9h-.9zM191.4,271.2h.9v.9h-.9zM193.6,282.6h.9v.9h-.9zM191.4,282.4h.9v.9h-.9zM184.1,285.8h.9v.9h-.9zM186.5,280.1h.9v.9h-.9zM187.1,284.9h.9v.9h-.9zM187.5,288.0h.9v.9h-.9zM201.3,269.6h.9v.9h-.9zM193.9,279.7h.9v.9h-.9zM181.2,290.0h.9v.9h-.9zM188.2,289.8h.9v.9h-.9zM187.5,290.4h.9v.9h-.9zM201.2,272.7h.9v.9h-.9zM194.1,276.4h.9v.9h-.9zM187.3,290.9h.9v.9h-.9zM197.2,271.9h.9v.9h-.9zM189.9,278.5h.9v.9h-.9zM188.3,283.8h.9v.9h-.9zM192.8,274.1h.9v.9h-.9zM192.5,276.6h.9v.9h-.9zM191.6,275.9h.9v.9h-.9zM192.1,277.0h.9v.9h-.9zM191.9,286.5h.9v.9h-.9zM196.7,291.5h.9v.9h-.9zM197.3,267.6h.9v.9h-.9zM185.4,283.5h.9v.9h-.9zM193.5,280.0h.9v.9h-.9zM190.4,277.6h.9v.9h-.9zM199.2,267.8h.9v.9h-.9zM202.1,257.3h.9v.9h-.9zM196.7,269.5h.9v.9h-.9zM187.9,281.1h.9v.9h-.9zM189.0,288.5h.9v.9h-.9zM194.4,281.2h.9v.9h-.9zM185.5,282.1h.9v.9h-.9zM198.9,272.8h.9v.9h-.9zM192.1,281.9h.9v.9h-.9zM185.8,283.6h.9v.9h-.9zM192.0,288.9h.9v.9h-.9zM183.1,287.7h.9v.9h-.9zM182.9,279.9h.9v.9h-.9zM196.2,280.1h.9v.9h-.9zM198.6,277.6h.9v.9h-.9zM191.2,283.4h.9v.9h-.9zM188.9,291.4h.9v.9h-.9zM192.5,283.9h.9v.9h-.9zM197.5,271.2h.9v.9h-.9zM197.7,269.8h.9v.9h-.9zM193.8,269.1h.9v.9h-.9zM187.0,284.6h.9v.9h-.9zM193.2,284.4h.9v.9h-.9zM198.7,272.3h.9v.9h-.9zM192.6,281.4h.9v.9h-.9zM188.7,286.5h.9v.9h-.9zM183.8,283.1h.9v.9h-.9zM195.4,278.5h.9v.9h-.9zM190.8,276.4h.9v.9h-.9zM191.1,277.8h.9v.9h-.9zM192.0,276.8h.9v.9h-.9zM190.3,280.5h.9v.9h-.9zM182.4,291.5h.9v.9h-.9zM189.7,279.4h.9v.9h-.9zM184.3,287.5h.9v.9h-.9zM199.9,271.2h.9v.9h-.9zM185.3,286.4h.9v.9h-.9zM185.7,290.0h.9v.9h-.9zM202.3,267.2h.9v.9h-.9zM198.5,265.4h.9v.9h-.9zM200.0,265.5h.9v.9h-.9zM204.8,280.3h.9v.9h-.9zM199.3,284.5h.9v.9h-.9zM186.7,285.8h.9v.9h-.9zM194.9,279.6h.9v.9h-.9zM200.8,262.8h.9v.9h-.9zM195.0,274.8h.9v.9h-.9zM196.3,277.6h.9v.9h-.9zM185.4,289.7h.9v.9h-.9zM192.4,270.4h.9v.9h-.9zM191.7,276.6h.9v.9h-.9zM197.1,256.1h.9v.9h-.9zM185.4,285.1h.9v.9h-.9zM189.8,272.4h.9v.9h-.9zM189.2,287.5h.9v.9h-.9zM206.8,258.1h.9v.9h-.9zM194.8,274.9h.9v.9h-.9zM188.5,276.5h.9v.9h-.9zM190.9,284.3h.9v.9h-.9zM191.7,276.0h.9v.9h-.9zM197.7,273.7h.9v.9h-.9zM185.2,287.8h.9v.9h-.9zM194.8,271.3h.9v.9h-.9zM193.7,286.7h.9v.9h-.9zM188.5,285.5h.9v.9h-.9zM189.5,279.3h.9v.9h-.9zM190.7,283.3h.9v.9h-.9zM195.5,280.5h.9v.9h-.9zM179.1,280.6h.9v.9h-.9zM188.7,281.0h.9v.9h-.9zM193.4,269.7h.9v.9h-.9zM196.8,273.5h.9v.9h-.9zM196.2,281.1h.9v.9h-.9zM191.2,280.5h.9v.9h-.9zM195.4,277.3h.9v.9h-.9zM191.6,268.8h.9v.9h-.9zM196.2,279.3h.9v.9h-.9zM187.9,290.6h.9v.9h-.9zM193.2,276.8h.9v.9h-.9zM191.4,280.1h.9v.9h-.9zM172.3,284.0h.9v.9h-.9zM192.4,282.3h.9v.9h-.9zM188.6,279.6h.9v.9h-.9zM197.3,272.9h.9v.9h-.9zM185.9,280.1h.9v.9h-.9zM196.1,270.5h.9v.9h-.9zM192.1,267.6h.9v.9h-.9zM200.3,264.6h.9v.9h-.9zM190.5,279.8h.9v.9h-.9zM186.5,286.3h.9v.9h-.9zM190.3,281.7h.9v.9h-.9zM185.1,288.1h.9v.9h-.9zM204.8,261.7h.9v.9h-.9zM182.7,290.9h.9v.9h-.9zM198.5,265.3h.9v.9h-.9zM191.4,277.8h.9v.9h-.9zM195.6,272.4h.9v.9h-.9zM203.9,276.4h.9v.9h-.9zM193.5,265.5h.9v.9h-.9zM197.7,270.9h.9v.9h-.9zM204.1,273.0h.9v.9h-.9zM190.5,280.8h.9v.9h-.9zM184.6,279.2h.9v.9h-.9zM196.1,270.1h.9v.9h-.9zM193.8,279.8h.9v.9h-.9zM183.1,288.7h.9v.9h-.9zM194.0,274.5h.9v.9h-.9zM197.0,273.4h.9v.9h-.9zM198.3,274.7h.9v.9h-.9zM194.7,283.1h.9v.9h-.9zM191.2,281.1h.9v.9h-.9zM195.9,273.5h.9v.9h-.9zM191.1,280.1h.9v.9h-.9zM181.5,278.9h.9v.9h-.9zM186.8,280.9h.9v.9h-.9zM191.8,274.0h.9v.9h-.9zM196.2,269.7h.9v.9h-.9zM192.3,271.9h.9v.9h-.9zM191.3,274.7h.9v.9h-.9zM189.8,281.6h.9v.9h-.9zM185.2,283.4h.9v.9h-.9zM192.0,280.8h.9v.9h-.9zM186.8,288.5h.9v.9h-.9zM194.8,267.3h.9v.9h-.9zM188.6,287.6h.9v.9h-.9zM191.3,279.7h.9v.9h-.9zM187.1,285.9h.9v.9h-.9zM191.2,281.4h.9v.9h-.9zM192.8,266.9h.9v.9h-.9zM203.7,262.0h.9v.9h-.9zM190.9,279.2h.9v.9h-.9zM204.0,266.7h.9v.9h-.9zM189.4,289.3h.9v.9h-.9zM191.8,278.0h.9v.9h-.9zM194.0,276.1h.9v.9h-.9zM187.0,292.0h.9v.9h-.9zM195.4,278.6h.9v.9h-.9zM193.0,277.0h.9v.9h-.9zM188.2,282.4h.9v.9h-.9zM188.8,280.8h.9v.9h-.9zM192.8,285.2h.9v.9h-.9zM195.2,283.0h.9v.9h-.9zM193.9,281.8h.9v.9h-.9zM197.3,273.0h.9v.9h-.9zM197.1,265.5h.9v.9h-.9zM202.1,272.7h.9v.9h-.9zM188.6,281.3h.9v.9h-.9zM190.1,272.2h.9v.9h-.9zM188.6,287.6h.9v.9h-.9zM195.4,278.1h.9v.9h-.9zM193.8,277.1h.9v.9h-.9zM196.6,279.4h.9v.9h-.9zM202.4,258.0h.9v.9h-.9zM191.1,284.8h.9v.9h-.9zM198.8,273.4h.9v.9h-.9zM190.3,281.9h.9v.9h-.9zM192.5,296.1h.9v.9h-.9zM180.1,282.9h.9v.9h-.9zM188.5,279.5h.9v.9h-.9zM181.1,282.3h.9v.9h-.9zM188.0,272.0h.9v.9h-.9zM180.1,283.1h.9v.9h-.9zM195.7,271.0h.9v.9h-.9zM193.7,273.4h.9v.9h-.9zM200.5,257.9h.9v.9h-.9zM192.9,286.2h.9v.9h-.9zM193.0,271.9h.9v.9h-.9zM186.1,290.0h.9v.9h-.9zM188.6,283.1h.9v.9h-.9zM206.2,258.1h.9v.9h-.9zM196.2,269.2h.9v.9h-.9zM185.3,283.2h.9v.9h-.9zM187.6,277.0h.9v.9h-.9zM194.6,272.7h.9v.9h-.9zM203.1,268.1h.9v.9h-.9zM191.6,266.9h.9v.9h-.9zM194.0,273.0h.9v.9h-.9zM180.1,283.3h.9v.9h-.9zM197.7,284.7h.9v.9h-.9zM184.7,272.5h.9v.9h-.9zM191.8,272.2h.9v.9h-.9zM204.5,261.1h.9v.9h-.9zM187.8,285.1h.9v.9h-.9zM193.4,279.6h.9v.9h-.9zM200.1,270.2h.9v.9h-.9zM194.4,269.9h.9v.9h-.9zM196.9,281.2h.9v.9h-.9zM197.7,271.3h.9v.9h-.9zM188.3,268.4h.9v.9h-.9zM190.6,274.3h.9v.9h-.9zM184.0,287.6h.9v.9h-.9zM190.9,263.7h.9v.9h-.9zM196.6,278.6h.9v.9h-.9zM190.2,279.6h.9v.9h-.9zM190.5,281.1h.9v.9h-.9zM194.5,276.6h.9v.9h-.9zM199.4,281.3h.9v.9h-.9zM189.2,282.4h.9v.9h-.9zM194.3,271.2h.9v.9h-.9zM188.9,288.2h.9v.9h-.9zM193.5,284.6h.9v.9h-.9zM190.8,275.6h.9v.9h-.9zM196.1,279.8h.9v.9h-.9zM200.6,265.4h.9v.9h-.9zM195.5,268.8h.9v.9h-.9zM186.8,293.2h.9v.9h-.9zM186.5,287.3h.9v.9h-.9zM191.9,267.6h.9v.9h-.9zM197.8,274.6h.9v.9h-.9zM188.1,275.4h.9v.9h-.9zM186.0,284.0h.9v.9h-.9zM192.0,278.0h.9v.9h-.9zM193.9,276.1h.9v.9h-.9zM195.8,280.3h.9v.9h-.9zM190.5,283.0h.9v.9h-.9zM179.0,281.6h.9v.9h-.9zM189.8,282.2h.9v.9h-.9zM190.4,278.9h.9v.9h-.9zM185.2,281.9h.9v.9h-.9zM193.1,280.6h.9v.9h-.9zM190.5,281.3h.9v.9h-.9zM200.8,276.5h.9v.9h-.9zM191.4,294.6h.9v.9h-.9zM177.0,281.2h.9v.9h-.9zM201.2,260.3h.9v.9h-.9zM200.0,263.7h.9v.9h-.9zM197.9,277.1h.9v.9h-.9zM196.2,275.5h.9v.9h-.9zM193.6,272.3h.9v.9h-.9zM187.8,287.9h.9v.9h-.9zM200.0,282.9h.9v.9h-.9zM191.4,291.2h.9v.9h-.9zM187.8,280.6h.9v.9h-.9zM183.8,297.9h.9v.9h-.9zM188.6,285.5h.9v.9h-.9zM190.3,282.3h.9v.9h-.9zM193.3,269.7h.9v.9h-.9zM193.9,284.4h.9v.9h-.9zM191.4,275.8h.9v.9h-.9zM200.1,273.6h.9v.9h-.9zM181.1,288.0h.9v.9h-.9zM194.3,274.8h.9v.9h-.9zM199.0,263.1h.9v.9h-.9zM191.3,279.0h.9v.9h-.9zM200.1,269.5h.9v.9h-.9zM192.7,278.5h.9v.9h-.9zM188.7,292.9h.9v.9h-.9zM198.2,264.8h.9v.9h-.9zM198.4,272.1h.9v.9h-.9zM193.7,270.9h.9v.9h-.9zM188.0,283.2h.9v.9h-.9zM184.7,290.0h.9v.9h-.9zM180.7,280.7h.9v.9h-.9zM194.1,265.4h.9v.9h-.9zM201.8,265.7h.9v.9h-.9zM187.4,287.0h.9v.9h-.9zM200.9,265.2h.9v.9h-.9zM189.8,291.5h.9v.9h-.9zM198.9,265.3h.9v.9h-.9zM195.1,270.8h.9v.9h-.9zM201.3,265.8h.9v.9h-.9zM194.9,278.4h.9v.9h-.9zM198.2,266.6h.9v.9h-.9zM186.5,289.0h.9v.9h-.9zM187.0,277.8h.9v.9h-.9zM177.9,285.3h.9v.9h-.9zM193.2,279.9h.9v.9h-.9zM198.5,264.2h.9v.9h-.9zM182.2,279.5h.9v.9h-.9zM190.8,277.4h.9v.9h-.9zM198.0,269.5h.9v.9h-.9zM192.5,272.0h.9v.9h-.9zM179.1,282.4h.9v.9h-.9zM197.3,275.9h.9v.9h-.9zM184.4,288.7h.9v.9h-.9zM189.5,275.4h.9v.9h-.9zM194.6,272.3h.9v.9h-.9zM200.0,266.5h.9v.9h-.9zM189.3,276.3h.9v.9h-.9zM196.9,268.3h.9v.9h-.9zM180.6,279.4h.9v.9h-.9zM194.7,273.2h.9v.9h-.9zM196.3,277.2h.9v.9h-.9zM198.6,260.5h.9v.9h-.9zM194.7,276.4h.9v.9h-.9zM187.1,278.2h.9v.9h-.9zM183.1,290.0h.9v.9h-.9zM197.2,276.1h.9v.9h-.9zM198.8,268.7h.9v.9h-.9zM194.2,281.1h.9v.9h-.9zM197.2,266.8h.9v.9h-.9zM194.8,278.2h.9v.9h-.9zM189.6,269.4h.9v.9h-.9zM186.8,283.2h.9v.9h-.9zM194.1,271.8h.9v.9h-.9zM195.2,266.3h.9v.9h-.9zM192.7,269.5h.9v.9h-.9zM166.9,288.9h.9v.9h-.9zM187.4,287.3h.9v.9h-.9zM187.8,291.3h.9v.9h-.9zM189.3,264.4h.9v.9h-.9zM195.9,273.1h.9v.9h-.9zM191.0,279.2h.9v.9h-.9zM194.9,274.5h.9v.9h-.9zM193.1,276.9h.9v.9h-.9zM198.8,273.0h.9v.9h-.9zM201.2,263.0h.9v.9h-.9zM193.6,276.7h.9v.9h-.9zM188.1,288.5h.9v.9h-.9zM189.0,280.4h.9v.9h-.9zM198.5,276.7h.9v.9h-.9zM200.5,271.5h.9v.9h-.9zM181.7,289.0h.9v.9h-.9zM189.8,278.9h.9v.9h-.9zM195.6,263.0h.9v.9h-.9zM183.6,287.7h.9v.9h-.9zM198.4,281.2h.9v.9h-.9zM193.9,274.6h.9v.9h-.9zM192.7,296.9h.9v.9h-.9zM194.2,264.8h.9v.9h-.9zM198.9,272.3h.9v.9h-.9zM192.0,287.1h.9v.9h-.9zM199.0,265.0h.9v.9h-.9zM189.0,273.8h.9v.9h-.9zM192.1,273.4h.9v.9h-.9zM190.5,273.4h.9v.9h-.9zM199.6,257.5h.9v.9h-.9zM194.2,267.3h.9v.9h-.9zM191.0,281.8h.9v.9h-.9zM191.4,280.3h.9v.9h-.9zM190.7,284.2h.9v.9h-.9zM206.2,259.7h.9v.9h-.9zM189.0,278.1h.9v.9h-.9zM189.8,278.1h.9v.9h-.9zM187.5,288.9h.9v.9h-.9zM200.0,266.9h.9v.9h-.9zM195.3,277.3h.9v.9h-.9zM189.3,279.5h.9v.9h-.9zM193.3,276.6h.9v.9h-.9zM202.8,274.6h.9v.9h-.9zM194.4,272.7h.9v.9h-.9zM197.0,265.5h.9v.9h-.9zM205.7,261.3h.9v.9h-.9zM192.1,276.2h.9v.9h-.9zM202.3,257.3h.9v.9h-.9zM194.5,275.5h.9v.9h-.9zM184.5,285.5h.9v.9h-.9zM194.9,282.8h.9v.9h-.9zM201.9,265.1h.9v.9h-.9zM191.0,280.2h.9v.9h-.9zM203.2,271.8h.9v.9h-.9zM190.8,277.9h.9v.9h-.9zM202.9,267.3h.9v.9h-.9zM196.5,264.9h.9v.9h-.9zM194.8,271.9h.9v.9h-.9zM188.8,278.7h.9v.9h-.9zM193.6,294.1h.9v.9h-.9zM199.0,275.3h.9v.9h-.9zM191.0,275.7h.9v.9h-.9zM202.8,262.9h.9v.9h-.9zM189.3,292.1h.9v.9h-.9zM195.8,271.3h.9v.9h-.9zM179.8,288.1h.9v.9h-.9zM192.1,276.2h.9v.9h-.9zM196.7,268.3h.9v.9h-.9zM193.0,279.5h.9v.9h-.9zM192.8,283.5h.9v.9h-.9zM195.8,276.5h.9v.9h-.9zM184.6,284.0h.9v.9h-.9zM197.3,269.5h.9v.9h-.9zM191.8,281.0h.9v.9h-.9zM195.2,270.5h.9v.9h-.9zM201.7,265.9h.9v.9h-.9zM186.2,288.3h.9v.9h-.9zM189.4,285.5h.9v.9h-.9zM198.9,262.4h.9v.9h-.9zM193.1,279.7h.9v.9h-.9zM190.3,282.7h.9v.9h-.9zM198.0,276.9h.9v.9h-.9zM191.1,285.9h.9v.9h-.9zM189.4,278.6h.9v.9h-.9zM193.7,272.9h.9v.9h-.9zM203.4,268.2h.9v.9h-.9zM195.8,265.2h.9v.9h-.9zM203.2,261.3h.9v.9h-.9zM184.2,282.4h.9v.9h-.9zM187.5,282.4h.9v.9h-.9zM189.1,277.0h.9v.9h-.9zM187.4,292.1h.9v.9h-.9zM204.9,260.7h.9v.9h-.9zM191.6,275.5h.9v.9h-.9zM187.6,274.8h.9v.9h-.9zM190.7,279.3h.9v.9h-.9zM202.5,257.7h.9v.9h-.9zM185.1,277.1h.9v.9h-.9zM190.2,277.0h.9v.9h-.9zM174.1,284.3h.9v.9h-.9zM200.8,272.4h.9v.9h-.9zM198.5,264.1h.9v.9h-.9zM184.7,277.8h.9v.9h-.9zM197.6,269.8h.9v.9h-.9zM186.2,284.2h.9v.9h-.9zM187.5,291.4h.9v.9h-.9zM190.1,280.1h.9v.9h-.9zM188.5,285.1h.9v.9h-.9zM194.3,277.9h.9v.9h-.9zM189.4,276.4h.9v.9h-.9zM192.7,271.3h.9v.9h-.9zM175.4,286.8h.9v.9h-.9zM194.1,291.8h.9v.9h-.9zM197.7,271.4h.9v.9h-.9zM183.5,288.4h.9v.9h-.9zM193.9,272.2h.9v.9h-.9zM183.9,284.8h.9v.9h-.9zM199.5,273.2h.9v.9h-.9zM200.5,262.3h.9v.9h-.9zM184.1,289.5h.9v.9h-.9zM193.0,276.9h.9v.9h-.9zM191.1,257.9h.9v.9h-.9zM192.6,273.6h.9v.9h-.9zM194.8,269.0h.9v.9h-.9zM204.8,268.9h.9v.9h-.9zM183.4,293.7h.9v.9h-.9zM195.5,271.3h.9v.9h-.9zM180.2,287.2h.9v.9h-.9zM188.0,280.9h.9v.9h-.9zM186.9,286.2h.9v.9h-.9zM193.5,270.0h.9v.9h-.9zM193.8,275.8h.9v.9h-.9zM191.0,274.9h.9v.9h-.9zM198.5,274.4h.9v.9h-.9zM191.7,273.2h.9v.9h-.9zM189.6,286.9h.9v.9h-.9zM184.6,294.1h.9v.9h-.9zM200.2,265.2h.9v.9h-.9zM197.7,270.8h.9v.9h-.9zM189.6,283.1h.9v.9h-.9zM198.0,265.6h.9v.9h-.9zM195.9,292.7h.9v.9h-.9zM190.0,276.7h.9v.9h-.9zM190.3,274.2h.9v.9h-.9zM190.7,270.5h.9v.9h-.9zM193.2,275.4h.9v.9h-.9zM198.5,280.0h.9v.9h-.9zM196.4,269.3h.9v.9h-.9zM202.4,258.6h.9v.9h-.9zM195.7,272.5h.9v.9h-.9zM198.0,269.2h.9v.9h-.9zM185.9,282.5h.9v.9h-.9zM191.6,274.0h.9v.9h-.9zM197.0,266.8h.9v.9h-.9zM196.0,283.9h.9v.9h-.9zM189.1,286.9h.9v.9h-.9zM196.7,276.1h.9v.9h-.9zM203.5,274.5h.9v.9h-.9zM194.9,280.8h.9v.9h-.9zM202.5,259.1h.9v.9h-.9zM194.8,276.9h.9v.9h-.9zM190.3,276.2h.9v.9h-.9zM195.5,283.0h.9v.9h-.9zM188.8,276.9h.9v.9h-.9zM195.7,276.3h.9v.9h-.9zM199.5,267.4h.9v.9h-.9zM188.8,272.1h.9v.9h-.9zM190.6,284.1h.9v.9h-.9zM186.4,289.6h.9v.9h-.9zM200.2,266.9h.9v.9h-.9zM190.4,282.6h.9v.9h-.9zM197.2,273.0h.9v.9h-.9zM199.6,262.4h.9v.9h-.9zM197.1,265.6h.9v.9h-.9zM190.3,274.9h.9v.9h-.9zM188.5,273.8h.9v.9h-.9zM198.8,271.1h.9v.9h-.9zM189.5,279.6h.9v.9h-.9zM189.3,293.4h.9v.9h-.9zM192.8,272.4h.9v.9h-.9zM198.4,268.9h.9v.9h-.9zM200.2,265.9h.9v.9h-.9zM191.6,278.6h.9v.9h-.9zM190.7,286.0h.9v.9h-.9zM192.5,288.7h.9v.9h-.9zM192.6,290.4h.9v.9h-.9zM200.6,265.5h.9v.9h-.9zM197.9,276.8h.9v.9h-.9zM203.7,265.9h.9v.9h-.9zM196.4,265.9h.9v.9h-.9zM187.8,289.6h.9v.9h-.9zM186.9,283.5h.9v.9h-.9zM202.6,265.2h.9v.9h-.9zM200.5,269.1h.9v.9h-.9zM197.1,278.8h.9v.9h-.9zM192.9,280.0h.9v.9h-.9zM194.6,271.9h.9v.9h-.9zM188.0,290.9h.9v.9h-.9zM195.4,270.9h.9v.9h-.9zM215.0,274.8h.9v.9h-.9zM193.4,280.9h.9v.9h-.9zM193.1,273.6h.9v.9h-.9zM186.3,290.2h.9v.9h-.9zM190.3,290.9h.9v.9h-.9zM194.6,271.2h.9v.9h-.9zM190.7,283.0h.9v.9h-.9zM187.2,284.5h.9v.9h-.9zM186.5,272.8h.9v.9h-.9zM195.0,282.9h.9v.9h-.9zM184.6,293.5h.9v.9h-.9zM185.2,280.0h.9v.9h-.9zM188.3,286.5h.9v.9h-.9zM184.4,285.2h.9v.9h-.9zM194.2,286.6h.9v.9h-.9zM189.5,275.5h.9v.9h-.9zM187.4,291.4h.9v.9h-.9zM191.6,292.8h.9v.9h-.9zM186.4,282.4h.9v.9h-.9zM194.8,275.4h.9v.9h-.9zM180.5,285.2h.9v.9h-.9zM186.8,274.9h.9v.9h-.9zM198.2,276.1h.9v.9h-.9zM189.0,283.2h.9v.9h-.9zM199.0,282.8h.9v.9h-.9zM188.1,304.9h.9v.9h-.9zM203.7,266.3h.9v.9h-.9zM193.3,275.3h.9v.9h-.9zM185.4,290.1h.9v.9h-.9zM182.8,279.5h.9v.9h-.9zM203.2,264.2h.9v.9h-.9zM193.5,266.5h.9v.9h-.9zM204.3,256.7h.9v.9h-.9zM201.2,259.9h.9v.9h-.9zM199.5,268.9h.9v.9h-.9zM190.8,274.2h.9v.9h-.9zM194.6,284.9h.9v.9h-.9zM189.1,284.3h.9v.9h-.9zM198.4,270.8h.9v.9h-.9zM193.3,277.9h.9v.9h-.9zM188.8,282.0h.9v.9h-.9zM195.3,270.5h.9v.9h-.9zM192.2,270.4h.9v.9h-.9zM201.9,273.0h.9v.9h-.9zM185.7,292.5h.9v.9h-.9zM188.5,283.9h.9v.9h-.9zM183.3,278.4h.9v.9h-.9zM190.5,277.1h.9v.9h-.9zM177.9,289.1h.9v.9h-.9zM187.3,279.5h.9v.9h-.9zM191.8,284.1h.9v.9h-.9zM196.7,272.0h.9v.9h-.9zM203.2,264.1h.9v.9h-.9zM191.5,279.7h.9v.9h-.9zM187.9,283.1h.9v.9h-.9zM188.4,287.1h.9v.9h-.9zM184.8,291.3h.9v.9h-.9zM191.1,278.9h.9v.9h-.9zM195.0,266.8h.9v.9h-.9zM199.5,275.6h.9v.9h-.9zM186.6,281.6h.9v.9h-.9zM196.9,274.6h.9v.9h-.9zM194.5,277.5h.9v.9h-.9zM193.8,281.4h.9v.9h-.9zM183.1,288.4h.9v.9h-.9zM194.2,279.4h.9v.9h-.9zM201.4,258.1h.9v.9h-.9zM194.5,277.7h.9v.9h-.9zM186.3,291.5h.9v.9h-.9zM190.8,277.3h.9v.9h-.9zM199.5,278.5h.9v.9h-.9zM193.9,266.9h.9v.9h-.9zM192.5,273.7h.9v.9h-.9zM189.5,277.9h.9v.9h-.9zM200.7,261.0h.9v.9h-.9zM201.7,267.2h.9v.9h-.9zM200.7,262.9h.9v.9h-.9zM198.2,268.8h.9v.9h-.9zM196.6,263.9h.9v.9h-.9zM184.0,277.7h.9v.9h-.9zM195.1,284.9h.9v.9h-.9zM192.0,280.7h.9v.9h-.9zM199.9,280.9h.9v.9h-.9zM196.1,269.2h.9v.9h-.9zM181.1,283.3h.9v.9h-.9zM198.3,268.7h.9v.9h-.9zM194.4,280.6h.9v.9h-.9zM199.5,275.0h.9v.9h-.9zM190.6,277.5h.9v.9h-.9zM198.2,264.3h.9v.9h-.9zM195.5,270.0h.9v.9h-.9zM189.0,277.4h.9v.9h-.9zM195.1,278.6h.9v.9h-.9zM187.9,277.8h.9v.9h-.9zM183.4,290.5h.9v.9h-.9zM192.5,284.3h.9v.9h-.9zM199.8,269.6h.9v.9h-.9zM197.2,279.7h.9v.9h-.9zM193.2,280.7h.9v.9h-.9zM201.9,256.7h.9v.9h-.9zM203.2,262.7h.9v.9h-.9zM195.6,270.5h.9v.9h-.9zM189.6,286.8h.9v.9h-.9zM197.0,267.1h.9v.9h-.9zM198.3,273.6h.9v.9h-.9zM183.9,288.3h.9v.9h-.9zM187.7,286.4h.9v.9h-.9zM190.9,284.0h.9v.9h-.9zM197.3,263.0h.9v.9h-.9zM174.9,281.2h.9v.9h-.9zM197.5,268.4h.9v.9h-.9zM187.9,285.6h.9v.9h-.9zM184.8,283.3h.9v.9h-.9zM201.6,280.6h.9v.9h-.9zM191.6,285.7h.9v.9h-.9zM190.9,283.6h.9v.9h-.9zM195.2,278.8h.9v.9h-.9zM193.9,294.3h.9v.9h-.9zM195.0,280.8h.9v.9h-.9zM194.4,293.7h.9v.9h-.9zM193.4,284.3h.9v.9h-.9zM193.3,273.3h.9v.9h-.9zM198.8,282.3h.9v.9h-.9zM196.8,267.3h.9v.9h-.9zM186.5,280.8h.9v.9h-.9zM199.5,275.0h.9v.9h-.9zM191.6,282.7h.9v.9h-.9zM185.8,285.9h.9v.9h-.9zM195.9,265.7h.9v.9h-.9zM190.2,277.8h.9v.9h-.9zM197.1,272.4h.9v.9h-.9zM189.6,292.4h.9v.9h-.9zM183.9,291.2h.9v.9h-.9zM177.9,277.6h.9v.9h-.9zM195.6,280.3h.9v.9h-.9zM193.1,274.0h.9v.9h-.9zM195.9,283.6h.9v.9h-.9zM189.9,275.6h.9v.9h-.9zM189.4,280.0h.9v.9h-.9zM187.6,287.6h.9v.9h-.9zM184.8,282.6h.9v.9h-.9zM191.9,272.8h.9v.9h-.9zM196.6,275.3h.9v.9h-.9zM189.9,288.9h.9v.9h-.9zM194.7,274.9h.9v.9h-.9zM189.0,272.4h.9v.9h-.9zM199.7,264.2h.9v.9h-.9zM189.8,275.7h.9v.9h-.9zM193.6,285.5h.9v.9h-.9zM185.4,286.1h.9v.9h-.9zM193.5,273.8h.9v.9h-.9zM187.3,283.3h.9v.9h-.9zM190.6,273.1h.9v.9h-.9zM185.8,279.8h.9v.9h-.9zM187.6,285.7h.9v.9h-.9zM190.9,294.7h.9v.9h-.9zM189.8,270.6h.9v.9h-.9zM196.9,267.4h.9v.9h-.9zM191.4,280.8h.9v.9h-.9zM190.9,278.2h.9v.9h-.9zM195.5,263.1h.9v.9h-.9zM186.4,286.7h.9v.9h-.9zM202.9,268.1h.9v.9h-.9zM189.7,280.0h.9v.9h-.9zM194.0,266.6h.9v.9h-.9zM183.5,286.7h.9v.9h-.9zM197.1,273.3h.9v.9h-.9zM205.9,274.7h.9v.9h-.9zM201.8,259.3h.9v.9h-.9zM187.7,283.6h.9v.9h-.9zM193.6,296.8h.9v.9h-.9zM193.4,288.2h.9v.9h-.9zM188.9,287.0h.9v.9h-.9zM184.6,285.6h.9v.9h-.9zM192.3,284.8h.9v.9h-.9zM195.4,267.1h.9v.9h-.9zM189.5,295.8h.9v.9h-.9zM193.2,275.0h.9v.9h-.9zM184.0,282.4h.9v.9h-.9zM183.5,286.6h.9v.9h-.9zM193.1,287.7h.9v.9h-.9zM196.8,270.2h.9v.9h-.9zM200.5,272.0h.9v.9h-.9zM192.1,278.0h.9v.9h-.9zM180.7,291.2h.9v.9h-.9zM191.2,282.5h.9v.9h-.9zM193.4,287.8h.9v.9h-.9zM192.9,273.4h.9v.9h-.9zM188.5,285.4h.9v.9h-.9zM192.5,269.0h.9v.9h-.9zM192.6,282.3h.9v.9h-.9zM194.7,271.1h.9v.9h-.9zM193.9,271.3h.9v.9h-.9zM188.1,280.1h.9v.9h-.9zM197.5,262.6h.9v.9h-.9zM193.0,274.0h.9v.9h-.9zM175.6,278.7h.9v.9h-.9zM194.4,275.9h.9v.9h-.9zM197.9,268.9h.9v.9h-.9zM195.3,281.3h.9v.9h-.9zM198.3,269.0h.9v.9h-.9zM184.6,289.6h.9v.9h-.9zM187.7,280.5h.9v.9h-.9zM197.7,279.9h.9v.9h-.9zM203.4,266.6h.9v.9h-.9zM195.0,273.9h.9v.9h-.9zM196.1,275.8h.9v.9h-.9zM194.1,276.8h.9v.9h-.9zM181.4,280.2h.9v.9h-.9zM199.9,261.2h.9v.9h-.9zM201.2,266.9h.9v.9h-.9zM193.6,284.6h.9v.9h-.9zM199.7,265.0h.9v.9h-.9zM189.2,282.7h.9v.9h-.9zM192.3,278.0h.9v.9h-.9zM200.8,267.1h.9v.9h-.9zM194.3,275.1h.9v.9h-.9zM203.9,263.7h.9v.9h-.9zM198.2,275.7h.9v.9h-.9zM192.8,271.7h.9v.9h-.9zM191.7,282.2h.9v.9h-.9zM181.3,288.7h.9v.9h-.9zM182.5,291.4h.9v.9h-.9zM202.5,282.4h.9v.9h-.9zM198.5,291.1h.9v.9h-.9zM182.4,291.7h.9v.9h-.9zM184.8,281.5h.9v.9h-.9zM192.1,276.0h.9v.9h-.9zM198.9,270.7h.9v.9h-.9zM194.0,282.6h.9v.9h-.9zM184.5,280.3h.9v.9h-.9zM199.0,269.3h.9v.9h-.9zM190.8,277.4h.9v.9h-.9zM188.6,293.2h.9v.9h-.9zM190.1,278.6h.9v.9h-.9zM180.4,282.8h.9v.9h-.9zM196.6,273.6h.9v.9h-.9zM186.6,293.2h.9v.9h-.9zM189.1,284.1h.9v.9h-.9zM188.3,287.4h.9v.9h-.9zM188.3,273.5h.9v.9h-.9zM189.6,272.0h.9v.9h-.9zM197.6,266.8h.9v.9h-.9zM186.2,295.0h.9v.9h-.9zM184.7,277.3h.9v.9h-.9zM202.5,266.6h.9v.9h-.9zM189.0,270.1h.9v.9h-.9zM192.2,286.1h.9v.9h-.9zM193.1,260.6h.9v.9h-.9zM191.2,276.6h.9v.9h-.9zM180.4,287.3h.9v.9h-.9zM191.1,280.2h.9v.9h-.9zM193.2,277.5h.9v.9h-.9zM197.4,270.2h.9v.9h-.9zM195.1,267.5h.9v.9h-.9zM190.6,276.4h.9v.9h-.9zM193.7,280.2h.9v.9h-.9zM192.7,280.9h.9v.9h-.9zM198.2,266.3h.9v.9h-.9zM204.0,264.0h.9v.9h-.9zM185.6,282.1h.9v.9h-.9zM184.4,289.3h.9v.9h-.9zM188.6,285.9h.9v.9h-.9zM187.3,288.5h.9v.9h-.9zM188.7,287.7h.9v.9h-.9zM193.3,279.1h.9v.9h-.9zM185.9,292.1h.9v.9h-.9zM190.8,280.5h.9v.9h-.9zM189.9,300.5h.9v.9h-.9zM188.2,280.5h.9v.9h-.9zM199.3,286.3h.9v.9h-.9zM196.3,283.0h.9v.9h-.9zM195.5,272.1h.9v.9h-.9zM195.8,292.6h.9v.9h-.9zM193.2,277.1h.9v.9h-.9zM189.7,286.5h.9v.9h-.9zM192.2,276.3h.9v.9h-.9zM192.2,277.6h.9v.9h-.9zM192.1,296.4h.9v.9h-.9zM197.6,262.7h.9v.9h-.9zM183.0,279.6h.9v.9h-.9zM198.3,277.5h.9v.9h-.9zM193.8,276.6h.9v.9h-.9zM187.2,291.1h.9v.9h-.9zM193.1,280.1h.9v.9h-.9zM193.2,274.6h.9v.9h-.9zM192.1,279.4h.9v.9h-.9zM188.6,281.7h.9v.9h-.9zM195.6,264.1h.9v.9h-.9zM190.9,275.4h.9v.9h-.9zM205.4,264.2h.9v.9h-.9zM192.8,282.1h.9v.9h-.9zM188.1,283.9h.9v.9h-.9zM199.5,269.6h.9v.9h-.9zM199.9,273.6h.9v.9h-.9zM187.4,286.7h.9v.9h-.9zM184.7,290.6h.9v.9h-.9zM201.8,264.9h.9v.9h-.9zM195.5,271.1h.9v.9h-.9zM182.7,277.5h.9v.9h-.9zM190.4,276.9h.9v.9h-.9zM193.7,287.4h.9v.9h-.9zM192.3,269.2h.9v.9h-.9zM187.9,284.2h.9v.9h-.9zM185.5,281.1h.9v.9h-.9zM186.2,286.6h.9v.9h-.9zM204.9,260.2h.9v.9h-.9zM190.5,294.0h.9v.9h-.9zM203.4,259.9h.9v.9h-.9zM206.2,263.1h.9v.9h-.9zM180.8,281.9h.9v.9h-.9zM188.3,281.4h.9v.9h-.9zM195.2,274.6h.9v.9h-.9zM189.7,286.0h.9v.9h-.9zM198.7,273.5h.9v.9h-.9zM181.7,290.9h.9v.9h-.9zM190.7,278.8h.9v.9h-.9zM203.4,265.4h.9v.9h-.9zM187.4,285.0h.9v.9h-.9zM194.0,269.6h.9v.9h-.9zM195.4,272.2h.9v.9h-.9zM195.8,275.8h.9v.9h-.9zM204.4,271.2h.9v.9h-.9zM195.3,296.4h.9v.9h-.9zM200.1,272.4h.9v.9h-.9zM184.2,285.6h.9v.9h-.9zM198.8,277.4h.9v.9h-.9zM186.7,278.9h.9v.9h-.9zM196.4,280.4h.9v.9h-.9zM191.3,272.3h.9v.9h-.9zM189.9,273.0h.9v.9h-.9zM188.3,289.4h.9v.9h-.9zM185.9,286.6h.9v.9h-.9zM203.7,261.1h.9v.9h-.9zM200.8,268.6h.9v.9h-.9zM190.2,282.1h.9v.9h-.9zM194.0,274.0h.9v.9h-.9zM201.0,266.6h.9v.9h-.9zM191.1,282.2h.9v.9h-.9zM189.0,294.5h.9v.9h-.9zM187.1,279.5h.9v.9h-.9zM189.0,291.4h.9v.9h-.9zM183.5,287.3h.9v.9h-.9zM184.7,287.0h.9v.9h-.9zM189.8,285.2h.9v.9h-.9zM193.3,278.6h.9v.9h-.9zM192.7,285.7h.9v.9h-.9zM197.8,273.7h.9v.9h-.9zM187.6,272.5h.9v.9h-.9zM194.3,274.9h.9v.9h-.9zM192.3,279.7h.9v.9h-.9zM186.7,285.0h.9v.9h-.9zM190.0,281.8h.9v.9h-.9zM197.4,267.5h.9v.9h-.9zM202.3,258.9h.9v.9h-.9zM182.8,290.4h.9v.9h-.9zM197.0,265.1h.9v.9h-.9zM198.7,274.1h.9v.9h-.9zM190.1,273.1h.9v.9h-.9zM199.6,271.8h.9v.9h-.9zM203.1,266.6h.9v.9h-.9zM188.2,280.3h.9v.9h-.9zM201.9,262.9h.9v.9h-.9zM191.5,283.4h.9v.9h-.9zM193.0,274.9h.9v.9h-.9zM190.9,281.4h.9v.9h-.9zM188.7,292.9h.9v.9h-.9zM198.0,271.4h.9v.9h-.9zM194.1,275.5h.9v.9h-.9zM189.4,279.5h.9v.9h-.9zM197.8,286.2h.9v.9h-.9zM198.0,273.2h.9v.9h-.9zM190.4,289.2h.9v.9h-.9zM195.2,271.3h.9v.9h-.9zM191.3,292.8h.9v.9h-.9zM185.3,285.6h.9v.9h-.9zM186.1,293.9h.9v.9h-.9zM201.8,265.4h.9v.9h-.9zM191.0,289.7h.9v.9h-.9zM184.7,294.4h.9v.9h-.9zM196.1,273.8h.9v.9h-.9zM199.9,256.9h.9v.9h-.9zM192.3,275.7h.9v.9h-.9zM182.1,285.8h.9v.9h-.9zM198.0,270.5h.9v.9h-.9zM204.0,262.4h.9v.9h-.9zM187.1,284.5h.9v.9h-.9zM185.1,282.2h.9v.9h-.9zM203.1,259.7h.9v.9h-.9zM194.2,285.8h.9v.9h-.9zM191.8,281.8h.9v.9h-.9zM177.2,290.3h.9v.9h-.9zM185.4,284.9h.9v.9h-.9zM191.6,276.1h.9v.9h-.9zM183.8,284.7h.9v.9h-.9zM198.9,269.6h.9v.9h-.9zM191.8,283.8h.9v.9h-.9zM187.1,282.5h.9v.9h-.9zM186.8,279.7h.9v.9h-.9zM196.0,269.0h.9v.9h-.9zM181.3,288.4h.9v.9h-.9zM185.3,289.3h.9v.9h-.9zM189.5,270.7h.9v.9h-.9zM196.7,272.4h.9v.9h-.9zM188.1,282.2h.9v.9h-.9zM197.0,267.7h.9v.9h-.9zM187.8,291.9h.9v.9h-.9zM193.6,275.4h.9v.9h-.9zM189.5,280.9h.9v.9h-.9zM203.7,270.5h.9v.9h-.9zM191.3,280.5h.9v.9h-.9zM197.7,265.8h.9v.9h-.9zM190.2,276.1h.9v.9h-.9zM192.1,281.6h.9v.9h-.9zM189.5,287.7h.9v.9h-.9zM196.4,272.8h.9v.9h-.9zM195.2,277.2h.9v.9h-.9zM188.6,290.4h.9v.9h-.9zM192.3,291.0h.9v.9h-.9zM181.3,285.1h.9v.9h-.9zM192.5,285.7h.9v.9h-.9zM194.4,275.2h.9v.9h-.9zM198.9,270.7h.9v.9h-.9zM191.0,283.1h.9v.9h-.9zM192.5,274.9h.9v.9h-.9zM187.5,283.2h.9v.9h-.9zM190.9,278.7h.9v.9h-.9zM198.5,269.6h.9v.9h-.9zM187.5,276.5h.9v.9h-.9zM200.6,265.1h.9v.9h-.9zM195.8,273.9h.9v.9h-.9zM186.0,280.9h.9v.9h-.9zM192.4,275.0h.9v.9h-.9zM188.5,278.8h.9v.9h-.9zM195.8,275.9h.9v.9h-.9zM188.3,276.7h.9v.9h-.9zM195.2,280.7h.9v.9h-.9zM195.0,284.1h.9v.9h-.9zM183.1,279.5h.9v.9h-.9zM197.3,266.9h.9v.9h-.9zM200.2,271.3h.9v.9h-.9zM191.2,276.4h.9v.9h-.9zM183.2,287.9h.9v.9h-.9zM193.6,272.1h.9v.9h-.9zM191.2,283.2h.9v.9h-.9zM192.7,278.0h.9v.9h-.9zM182.0,290.0h.9v.9h-.9zM199.8,259.7h.9v.9h-.9zM196.0,276.0h.9v.9h-.9zM193.9,275.3h.9v.9h-.9zM189.8,275.4h.9v.9h-.9zM188.4,280.2h.9v.9h-.9zM187.1,284.4h.9v.9h-.9zM194.5,271.8h.9v.9h-.9zM187.8,278.6h.9v.9h-.9zM187.7,277.7h.9v.9h-.9zM191.0,281.6h.9v.9h-.9zM195.0,278.5h.9v.9h-.9zM188.0,271.1h.9v.9h-.9zM191.9,288.1h.9v.9h-.9zM196.4,284.1h.9v.9h-.9zM189.9,280.4h.9v.9h-.9zM180.6,286.0h.9v.9h-.9zM197.5,281.4h.9v.9h-.9zM191.6,277.0h.9v.9h-.9zM189.2,282.3h.9v.9h-.9zM184.1,279.4h.9v.9h-.9zM193.6,275.6h.9v.9h-.9zM185.2,281.7h.9v.9h-.9zM195.2,269.4h.9v.9h-.9zM186.8,286.2h.9v.9h-.9zM206.0,283.8h.9v.9h-.9zM183.5,284.9h.9v.9h-.9zM193.1,283.0h.9v.9h-.9zM190.8,283.4h.9v.9h-.9zM199.4,261.9h.9v.9h-.9zM196.5,263.7h.9v.9h-.9zM192.8,267.8h.9v.9h-.9zM185.8,288.8h.9v.9h-.9zM188.6,291.1h.9v.9h-.9zM190.0,280.4h.9v.9h-.9zM188.6,281.4h.9v.9h-.9zM193.2,273.3h.9v.9h-.9zM185.8,282.1h.9v.9h-.9zM199.0,272.3h.9v.9h-.9zM200.0,267.7h.9v.9h-.9zM193.2,288.3h.9v.9h-.9zM201.7,266.2h.9v.9h-.9zM178.6,290.2h.9v.9h-.9zM194.6,274.7h.9v.9h-.9zM181.9,285.3h.9v.9h-.9zM185.8,282.4h.9v.9h-.9zM206.0,271.3h.9v.9h-.9zM197.4,267.5h.9v.9h-.9zM197.4,265.3h.9v.9h-.9zM203.4,256.1h.9v.9h-.9zM188.8,284.8h.9v.9h-.9zM199.6,268.3h.9v.9h-.9zM193.3,278.2h.9v.9h-.9zM190.1,280.5h.9v.9h-.9zM200.7,262.1h.9v.9h-.9zM179.9,290.1h.9v.9h-.9zM178.8,287.4h.9v.9h-.9zM178.8,280.2h.9v.9h-.9zM186.8,293.2h.9v.9h-.9zM189.2,277.4h.9v.9h-.9zM192.6,290.8h.9v.9h-.9zM194.9,275.9h.9v.9h-.9zM183.1,280.2h.9v.9h-.9zM189.9,292.5h.9v.9h-.9zM194.4,274.4h.9v.9h-.9zM200.4,263.4h.9v.9h-.9zM198.6,274.0h.9v.9h-.9zM187.5,286.4h.9v.9h-.9zM183.8,291.0h.9v.9h-.9zM186.5,284.6h.9v.9h-.9zM197.9,273.3h.9v.9h-.9zM191.1,289.8h.9v.9h-.9zM183.6,278.8h.9v.9h-.9zM194.1,280.2h.9v.9h-.9zM186.6,286.2h.9v.9h-.9zM192.4,275.3h.9v.9h-.9zM188.8,278.3h.9v.9h-.9zM186.2,286.6h.9v.9h-.9zM179.9,288.4h.9v.9h-.9zM188.4,270.7h.9v.9h-.9zM192.5,282.6h.9v.9h-.9zM195.7,264.5h.9v.9h-.9zM200.6,265.2h.9v.9h-.9zM186.2,278.0h.9v.9h-.9zM186.9,294.4h.9v.9h-.9zM202.2,264.9h.9v.9h-.9zM194.9,275.1h.9v.9h-.9zM184.9,283.7h.9v.9h-.9zM198.4,275.9h.9v.9h-.9zM192.3,276.2h.9v.9h-.9zM189.2,285.6h.9v.9h-.9zM194.8,270.6h.9v.9h-.9zM189.9,270.9h.9v.9h-.9zM183.1,274.9h.9v.9h-.9zM194.5,275.2h.9v.9h-.9zM188.5,282.6h.9v.9h-.9zM187.1,273.2h.9v.9h-.9zM186.0,281.3h.9v.9h-.9zM200.9,268.6h.9v.9h-.9z" fill="#000"/>
<path d="M184.0,313.7h.9v.9h-.9zM189.8,320.5h.9v.9h-.9zM186.1,314.4h.9v.9h-.9zM197.7,317.4h.9v.9h-.9zM179.6,318.6h.9v.9h-.9zM186.2,314.9h.9v.9h-.9zM183.5,304.2h.9v.9h-.9zM195.5,297.3h.9v.9h-.9zM184.5,309.8h.9v.9h-.9zM183.7,317.7h.9v.9h-.9zM187.3,310.5h.9v.9h-.9zM189.7,311.5h.9v.9h-.9zM179.1,309.6h.9v.9h-.9zM181.8,308.8h.9v.9h-.9z" fill="#333"/>
<line x1="19.00" y1="309.00" x2="19.00" y2="229.00" stroke="#000" stroke-width="1.6"/>
<path d="M19.1,224.8 L16.3,230 L21.9,230Z" fill="#000"/>
<text transform="translate(23.40,324.30) rotate(-90)" x="0" y="0" font-size="10" font-weight="bold" text-anchor="middle" >YFP</text>
<text x="45.00" y="347.20" font-size="9.9" font-weight="bold" text-anchor="start" fill="#000" >GFP</text>
<line x1="68.80" y1="344.20" x2="228.00" y2="344.20" stroke="#000" stroke-width="1.6"/>
<path d="M232.5,344.2 L226.8,341.2 L226.8,347.2Z" fill="#000"/>
<defs><filter id="bl" x="-20%" y="-80%" width="140%" height="260%"><feGaussianBlur stdDeviation="0.8"/></filter><filter id="bl2" x="-50%" y="-5%" width="200%" height="110%"><feGaussianBlur stdDeviation="1.8"/></filter></defs>
<text x="280.60" y="210.60" font-size="25" font-weight="bold" text-anchor="start" fill="#000" >D</text>
<rect x="310.2" y="214.2" width="62.2" height="129.6" fill="#d3d3d3"/>
<g filter="url(#bl2)"><rect x="313" y="216" width="13" height="126" fill="#cecece"/><rect x="332" y="216" width="13" height="126" fill="#cbcbcb"/><rect x="356" y="216" width="12" height="126" fill="#cecece"/></g>
<text x="319.00" y="211.60" font-size="9.7" font-weight="bold" text-anchor="middle" fill="#000" >1</text>
<text x="339.80" y="211.60" font-size="9.7" font-weight="bold" text-anchor="middle" fill="#000" >2</text>
<text x="362.00" y="211.60" font-size="9.7" font-weight="bold" text-anchor="middle" fill="#000" >3</text>
<rect x="312" y="238.10" width="14.5" height="2.4" rx="1.2" fill="#484848" filter="url(#bl)"/>
<rect x="312.5" y="246.30" width="13.5" height="1.8" rx="1.2" fill="#9a9a9a" filter="url(#bl)"/>
<rect x="312" y="274.90" width="14.5" height="2.4" rx="1.2" fill="#4e4e4e" filter="url(#bl)"/>
<rect x="331" y="238.10" width="14.5" height="2.4" rx="1.2" fill="#484848" filter="url(#bl)"/>
<rect x="331" y="244.10" width="14.5" height="2.4" rx="1.2" fill="#565656" filter="url(#bl)"/>
<path d="M331.5,276.20 Q338.5,277.80 345.5,276.20 L345.5,278.50 Q338.5,280.60 331.5,278.50Z" fill="#393939" filter="url(#bl)"/>
<rect x="354.5" y="238.70" width="13.5" height="2.6" rx="1.2" fill="#3e3e3e" filter="url(#bl)"/>
<path d="M355,278.30 Q361.25,280.10 367.5,278.30 L367.5,280.40 Q361.25,282.70 355,280.40Z" fill="#4c4c4c" filter="url(#bl)"/>
<line x1="292.40" y1="239.30" x2="303.30" y2="239.30" stroke="#1c1c1c" stroke-width="1.3"/>
<path d="M306.3,239.3 L301.90000000000003,237.0 L301.90000000000003,241.60000000000002Z" fill="#000"/>
<line x1="292.40" y1="277.20" x2="303.30" y2="277.20" stroke="#1c1c1c" stroke-width="1.3"/>
<path d="M306.3,277.2 L301.90000000000003,274.9 L301.90000000000003,279.5Z" fill="#000"/>
<text x="390.20" y="210.90" font-size="26" font-weight="bold" text-anchor="start" fill="#000" >E</text>
<rect x="411.6" y="214.2" width="73.5" height="129.4" fill="#d3d3d3"/>
<g filter="url(#bl2)"><rect x="414" y="216" width="13" height="126" fill="#cdcdcd"/><rect x="438" y="216" width="12" height="126" fill="#c6c6c6"/><rect x="460" y="216" width="12" height="126" fill="#cecece"/></g>
<text x="420.60" y="211.70" font-size="9.7" font-weight="bold" text-anchor="middle" fill="#000" >1</text>
<text x="446.00" y="211.70" font-size="9.7" font-weight="bold" text-anchor="middle" fill="#000" >2</text>
<text x="467.20" y="211.70" font-size="9.7" font-weight="bold" text-anchor="middle" fill="#000" >3</text>
<rect x="414" y="248.80" width="13.5" height="2.2" rx="1.2" fill="#3e3e3e" filter="url(#bl)"/>
<rect x="414" y="252.10" width="13.5" height="2.2" rx="1.2" fill="#444444" filter="url(#bl)"/>
<rect x="414" y="257.00" width="13.5" height="2.2" rx="1.2" fill="#404040" filter="url(#bl)"/>
<rect x="414" y="265.10" width="13.5" height="2.2" rx="1.2" fill="#515151" filter="url(#bl)"/>
<rect x="414" y="294.90" width="13.5" height="2.2" rx="1.2" fill="#4c4c4c" filter="url(#bl)"/>
<rect x="437.5" y="250.70" width="13.5" height="2.6" rx="1.2" fill="#444444" filter="url(#bl)"/>
<rect x="437.5" y="265.30" width="13.5" height="2.6" rx="1.2" fill="#444444" filter="url(#bl)"/>
<rect x="437.5" y="276.90" width="13.5" height="2.6" rx="1.2" fill="#3e3e3e" filter="url(#bl)"/>
<rect x="437.5" y="296.80" width="13.5" height="2.6" rx="1.2" fill="#393939" filter="url(#bl)"/>
<rect x="459.5" y="251.10" width="13.5" height="2.6" rx="1.2" fill="#3d3d3d" filter="url(#bl)"/>
<rect x="459.5" y="297.70" width="13.5" height="2.6" rx="1.2" fill="#484848" filter="url(#bl)"/>
<line x1="393.00" y1="251.00" x2="405.00" y2="251.00" stroke="#1c1c1c" stroke-width="1.3"/>
<path d="M408,251 L403.6,248.7 L403.6,253.3Z" fill="#000"/>
<line x1="393.00" y1="296.90" x2="405.00" y2="296.90" stroke="#1c1c1c" stroke-width="1.3"/>
<path d="M408,296.9 L403.6,294.59999999999997 L403.6,299.2Z" fill="#000"/>
<line x1="29.30" y1="523.94" x2="254.00" y2="523.94" stroke="#a8a8a8" stroke-width="1"/>
<line x1="29.30" y1="505.38" x2="254.00" y2="505.38" stroke="#a8a8a8" stroke-width="1"/>
<line x1="29.30" y1="486.81" x2="254.00" y2="486.81" stroke="#a8a8a8" stroke-width="1"/>
<line x1="29.30" y1="468.25" x2="254.00" y2="468.25" stroke="#a8a8a8" stroke-width="1"/>
<line x1="29.30" y1="449.69" x2="254.00" y2="449.69" stroke="#a8a8a8" stroke-width="1"/>
<line x1="29.30" y1="431.12" x2="254.00" y2="431.12" stroke="#a8a8a8" stroke-width="1"/>
<line x1="29.30" y1="412.56" x2="254.00" y2="412.56" stroke="#a8a8a8" stroke-width="1"/>
<path d="M29.3,394 H254 V542.5" fill="none" stroke="#000" stroke-width="1.5"/>
<line x1="29.30" y1="393.40" x2="29.30" y2="543.10" stroke="#000" stroke-width="1.6"/>
<line x1="28.70" y1="542.50" x2="254.60" y2="542.50" stroke="#000" stroke-width="1.6"/>
<line x1="26.30" y1="542.50" x2="29.30" y2="542.50" stroke="#000" stroke-width="1.2"/>
<text transform="translate(24.40,545.00) scale(1.08,1)" font-size="8.2" font-weight="bold" stroke="#000" stroke-width="0.2" text-anchor="end">0</text>
<line x1="26.30" y1="523.94" x2="29.30" y2="523.94" stroke="#000" stroke-width="1.2"/>
<text transform="translate(24.40,526.44) scale(1.08,1)" font-size="8.2" font-weight="bold" stroke="#000" stroke-width="0.2" text-anchor="end">2</text>
<line x1="26.30" y1="505.38" x2="29.30" y2="505.38" stroke="#000" stroke-width="1.2"/>
<text transform="translate(24.40,507.88) scale(1.08,1)" font-size="8.2" font-weight="bold" stroke="#000" stroke-width="0.2" text-anchor="end">4</text>
<line x1="26.30" y1="486.81" x2="29.30" y2="486.81" stroke="#000" stroke-width="1.2"/>
<text transform="translate(24.40,489.31) scale(1.08,1)" font-size="8.2" font-weight="bold" stroke="#000" stroke-width="0.2" text-anchor="end">6</text>
<line x1="26.30" y1="468.25" x2="29.30" y2="468.25" stroke="#000" stroke-width="1.2"/>
<text transform="translate(24.40,470.75) scale(1.08,1)" font-size="8.2" font-weight="bold" stroke="#000" stroke-width="0.2" text-anchor="end">8</text>
<line x1="26.30" y1="449.69" x2="29.30" y2="449.69" stroke="#000" stroke-width="1.2"/>
<text transform="translate(24.40,452.19) scale(1.08,1)" font-size="8.2" font-weight="bold" stroke="#000" stroke-width="0.2" text-anchor="end">10</text>
<line x1="26.30" y1="431.12" x2="29.30" y2="431.12" stroke="#000" stroke-width="1.2"/>
<text transform="translate(24.40,433.62) scale(1.08,1)" font-size="8.2" font-weight="bold" stroke="#000" stroke-width="0.2" text-anchor="end">12</text>
<line x1="26.30" y1="412.56" x2="29.30" y2="412.56" stroke="#000" stroke-width="1.2"/>
<text transform="translate(24.40,415.06) scale(1.08,1)" font-size="8.2" font-weight="bold" stroke="#000" stroke-width="0.2" text-anchor="end">14</text>
<line x1="26.30" y1="394.00" x2="29.30" y2="394.00" stroke="#000" stroke-width="1.2"/>
<text transform="translate(24.40,396.50) scale(1.08,1)" font-size="8.2" font-weight="bold" stroke="#000" stroke-width="0.2" text-anchor="end">16</text>
<line x1="29.30" y1="542.50" x2="29.30" y2="546.30" stroke="#000" stroke-width="1.2"/>
<line x1="66.75" y1="542.50" x2="66.75" y2="546.30" stroke="#000" stroke-width="1.2"/>
<line x1="104.20" y1="542.50" x2="104.20" y2="546.30" stroke="#000" stroke-width="1.2"/>
<line x1="141.65" y1="542.50" x2="141.65" y2="546.30" stroke="#000" stroke-width="1.2"/>
<line x1="179.10" y1="542.50" x2="179.10" y2="546.30" stroke="#000" stroke-width="1.2"/>
<line x1="216.55" y1="542.50" x2="216.55" y2="546.30" stroke="#000" stroke-width="1.2"/>
<line x1="254.00" y1="542.50" x2="254.00" y2="546.30" stroke="#000" stroke-width="1.2"/>
<text x="48.02" y="560.10" font-size="11" font-weight="bold" text-anchor="middle" fill="#000" >0</text>
<text x="85.47" y="560.10" font-size="11" font-weight="bold" text-anchor="middle" fill="#000" >1</text>
<text x="122.92" y="560.10" font-size="11" font-weight="bold" text-anchor="middle" fill="#000" >2</text>
<text x="160.38" y="560.10" font-size="11" font-weight="bold" text-anchor="middle" fill="#000" >3</text>
<text x="197.82" y="560.10" font-size="11" font-weight="bold" text-anchor="middle" fill="#000" >4</text>
<text x="235.27" y="560.10" font-size="11" font-weight="bold" text-anchor="middle" fill="#000" >5</text>
<polyline points="48.02,533.22 160.38,530.43 235.27,527.65" fill="none" stroke="#000" stroke-width="1.6"/>
<polyline points="48.02,533.22 160.38,502.59 235.27,457.58" fill="none" stroke="#000" stroke-width="1.6"/>
<polyline points="48.02,533.22 160.38,469.18 235.27,402.82" fill="none" stroke="#000" stroke-width="1.6"/>
<polyline points="48.02,533.22 160.38,536.47 235.27,526.72" fill="none" stroke="#000" stroke-width="1.6"/>
<line x1="235.27" y1="521.62" x2="235.27" y2="532.75" stroke="#000" stroke-width="1.0"/>
<line x1="232.97" y1="521.62" x2="237.57" y2="521.62" stroke="#000" stroke-width="1.8"/>
<line x1="232.97" y1="532.75" x2="237.57" y2="532.75" stroke="#000" stroke-width="1.8"/>
<path d="M160.38,526.73 L164.07,530.43 L160.38,534.13 L156.68,530.43Z" fill="#000" stroke="#000" stroke-width="0.4"/>
<path d="M235.27,523.95 L238.97,527.65 L235.27,531.35 L231.57,527.65Z" fill="#000" stroke="#000" stroke-width="0.4"/>
<rect x="158.28" y="500.49" width="4.20" height="4.20" fill="#fff" stroke="#000" stroke-width="1.4"/>
<rect x="233.17" y="455.48" width="4.20" height="4.20" fill="#fff" stroke="#000" stroke-width="1.4"/>
<path d="M160.38,469.18 L160.38,465.18 M160.38,469.18 L156.57,467.94 M160.38,469.18 L158.02,472.41 M160.38,469.18 L162.73,472.41 M160.38,469.18 L164.18,467.94" stroke="#000" stroke-width="2.3" fill="none" stroke-linecap="round"/>
<path d="M235.27,402.82 L235.27,398.82 M235.27,402.82 L231.47,401.58 M235.27,402.82 L232.92,406.05 M235.27,402.82 L237.63,406.05 M235.27,402.82 L239.08,401.58" stroke="#000" stroke-width="2.3" fill="none" stroke-linecap="round"/>
<circle cx="160.38" cy="536.47" r="3.10" fill="#000"/>
<circle cx="235.27" cy="526.72" r="3.10" fill="#000"/>
<path d="M48.02,533.22 l0.00,-4.60 M48.02,533.22 l-3.98,-2.30 M48.02,533.22 l-3.98,2.30 M48.02,533.22 l-0.00,4.60 M48.02,533.22 l3.98,2.30 M48.02,533.22 l3.98,-2.30" stroke="#000" stroke-width="2" stroke-linecap="round"/>
<circle cx="48.02" cy="533.22" r="2.6" fill="#000"/>
<rect x="32" y="396.6" width="121.5" height="49.19999999999999" fill="#fff" stroke="#000" stroke-width="1.6"/>
<line x1="35.80" y1="404.30" x2="48.20" y2="404.30" stroke="#000" stroke-width="1.6"/>
<path d="M42.00,400.23 L46.07,404.30 L42.00,408.37 L37.93,404.30Z" fill="#000" stroke="#000" stroke-width="0.4"/>
<text x="50.80" y="408.20" font-size="10.6" font-weight="bold" stroke="#000" stroke-width="0.25" textLength="52.5" lengthAdjust="spacingAndGlyphs">0 ng/mL FL</text>
<line x1="35.80" y1="416.20" x2="48.20" y2="416.20" stroke="#000" stroke-width="1.6"/>
<rect x="39.69" y="413.89" width="4.62" height="4.62" fill="#fff" stroke="#000" stroke-width="1.4"/>
<text x="50.80" y="420.10" font-size="10.6" font-weight="bold" stroke="#000" stroke-width="0.25" textLength="58.8" lengthAdjust="spacingAndGlyphs">10 ng/mL FL</text>
<line x1="35.80" y1="428.00" x2="48.20" y2="428.00" stroke="#000" stroke-width="1.6"/>
<path d="M42.00,428.00 L42.00,423.60 M42.00,428.00 L37.82,426.64 M42.00,428.00 L39.41,431.56 M42.00,428.00 L44.59,431.56 M42.00,428.00 L46.18,426.64" stroke="#000" stroke-width="2.3" fill="none" stroke-linecap="round"/>
<text x="50.80" y="431.90" font-size="10.6" font-weight="bold" stroke="#000" stroke-width="0.25" textLength="58.5" lengthAdjust="spacingAndGlyphs">50 ng/mL FL</text>
<line x1="35.80" y1="440.20" x2="48.20" y2="440.20" stroke="#000" stroke-width="1.6"/>
<circle cx="42.00" cy="440.20" r="3.41" fill="#000"/>
<text x="50.80" y="444.10" font-size="10.6" font-weight="bold" stroke="#000" stroke-width="0.25" textLength="58.3" lengthAdjust="spacingAndGlyphs">50 ng/mL FL</text>
<text x="3.00" y="382.50" font-size="25" font-weight="bold" text-anchor="start" fill="#000" >F</text>
<text x="105.00" y="386.60" font-size="11.1" font-weight="bold" text-anchor="start" fill="#000" >NA10 + Flt3</text>
<text x="111.60" y="443.20" font-size="8.6" font-weight="bold" text-anchor="start" fill="#000" >+</text>
<text x="119.40" y="444.10" font-size="8.3" font-weight="bold" text-anchor="start" fill="#000" stroke="#000" stroke-width="0.2" textLength="31">AG1295</text>
<text transform="translate(12.30,467.00) rotate(-90)" x="0" y="0" font-size="11.6" font-weight="bold" text-anchor="middle"  textLength="117.5">Relative cell number</text>
<text x="97.50" y="573.80" font-size="10.9" font-weight="bold" text-anchor="start" fill="#000"  textLength="83.5">Days in Culture</text>
<line x1="283.60" y1="517.02" x2="511.00" y2="517.02" stroke="#a8a8a8" stroke-width="1"/>
<line x1="283.60" y1="492.43" x2="511.00" y2="492.43" stroke="#a8a8a8" stroke-width="1"/>
<line x1="283.60" y1="467.85" x2="511.00" y2="467.85" stroke="#a8a8a8" stroke-width="1"/>
<line x1="283.60" y1="443.27" x2="511.00" y2="443.27" stroke="#a8a8a8" stroke-width="1"/>
<line x1="283.60" y1="418.68" x2="511.00" y2="418.68" stroke="#a8a8a8" stroke-width="1"/>
<path d="M283.6,394.1 H511 V541.6" fill="none" stroke="#000" stroke-width="1.5"/>
<line x1="283.60" y1="393.50" x2="283.60" y2="542.20" stroke="#000" stroke-width="1.6"/>
<line x1="283.00" y1="541.60" x2="511.60" y2="541.60" stroke="#000" stroke-width="1.6"/>
<line x1="280.60" y1="541.60" x2="283.60" y2="541.60" stroke="#000" stroke-width="1.2"/>
<text transform="translate(280.20,544.10) scale(1.08,1)" font-size="8.2" font-weight="bold" stroke="#000" stroke-width="0.2" text-anchor="end">0</text>
<line x1="280.60" y1="517.02" x2="283.60" y2="517.02" stroke="#000" stroke-width="1.2"/>
<text transform="translate(280.20,519.52) scale(1.08,1)" font-size="8.2" font-weight="bold" stroke="#000" stroke-width="0.2" text-anchor="end">2</text>
<line x1="280.60" y1="492.43" x2="283.60" y2="492.43" stroke="#000" stroke-width="1.2"/>
<text transform="translate(280.20,494.93) scale(1.08,1)" font-size="8.2" font-weight="bold" stroke="#000" stroke-width="0.2" text-anchor="end">4</text>
<line x1="280.60" y1="467.85" x2="283.60" y2="467.85" stroke="#000" stroke-width="1.2"/>
<text transform="translate(280.20,470.35) scale(1.08,1)" font-size="8.2" font-weight="bold" stroke="#000" stroke-width="0.2" text-anchor="end">6</text>
<line x1="280.60" y1="443.27" x2="283.60" y2="443.27" stroke="#000" stroke-width="1.2"/>
<text transform="translate(280.20,445.77) scale(1.08,1)" font-size="8.2" font-weight="bold" stroke="#000" stroke-width="0.2" text-anchor="end">8</text>
<line x1="280.60" y1="418.68" x2="283.60" y2="418.68" stroke="#000" stroke-width="1.2"/>
<text transform="translate(280.20,421.18) scale(1.08,1)" font-size="8.2" font-weight="bold" stroke="#000" stroke-width="0.2" text-anchor="end">10</text>
<line x1="280.60" y1="394.10" x2="283.60" y2="394.10" stroke="#000" stroke-width="1.2"/>
<text transform="translate(280.20,396.60) scale(1.08,1)" font-size="8.2" font-weight="bold" stroke="#000" stroke-width="0.2" text-anchor="end">12</text>
<line x1="283.60" y1="541.60" x2="283.60" y2="545.40" stroke="#000" stroke-width="1.2"/>
<line x1="321.50" y1="541.60" x2="321.50" y2="545.40" stroke="#000" stroke-width="1.2"/>
<line x1="359.40" y1="541.60" x2="359.40" y2="545.40" stroke="#000" stroke-width="1.2"/>
<line x1="397.30" y1="541.60" x2="397.30" y2="545.40" stroke="#000" stroke-width="1.2"/>
<line x1="435.20" y1="541.60" x2="435.20" y2="545.40" stroke="#000" stroke-width="1.2"/>
<line x1="473.10" y1="541.60" x2="473.10" y2="545.40" stroke="#000" stroke-width="1.2"/>
<line x1="511.00" y1="541.60" x2="511.00" y2="545.40" stroke="#000" stroke-width="1.2"/>
<text x="302.00" y="560.10" font-size="11" font-weight="bold" text-anchor="middle" fill="#000" >0</text>
<text x="339.70" y="560.10" font-size="11" font-weight="bold" text-anchor="middle" fill="#000" >1</text>
<text x="377.20" y="560.10" font-size="11" font-weight="bold" text-anchor="middle" fill="#000" >2</text>
<text x="414.50" y="560.10" font-size="11" font-weight="bold" text-anchor="middle" fill="#000" >3</text>
<text x="452.50" y="560.10" font-size="11" font-weight="bold" text-anchor="middle" fill="#000" >4</text>
<text x="490.30" y="560.10" font-size="11" font-weight="bold" text-anchor="middle" fill="#000" >5</text>
<polyline points="302.55,529.31 416.25,533.36 492.05,532.14" fill="none" stroke="#000" stroke-width="1.6"/>
<polyline points="302.55,529.31 416.25,515.17 492.05,486.66" fill="none" stroke="#000" stroke-width="1.6"/>
<polyline points="302.55,529.31 416.25,491.94 492.05,426.06" fill="none" stroke="#000" stroke-width="1.6"/>
<polyline points="302.55,529.31 416.25,528.94 492.05,527.71" fill="none" stroke="#000" stroke-width="1.6"/>
<line x1="492.05" y1="479.04" x2="492.05" y2="494.28" stroke="#000" stroke-width="1.0"/>
<line x1="489.75" y1="479.04" x2="494.35" y2="479.04" stroke="#000" stroke-width="1.8"/>
<line x1="489.75" y1="494.28" x2="494.35" y2="494.28" stroke="#000" stroke-width="1.8"/>
<line x1="492.05" y1="413.15" x2="492.05" y2="438.96" stroke="#000" stroke-width="1.0"/>
<line x1="489.75" y1="413.15" x2="494.35" y2="413.15" stroke="#000" stroke-width="1.8"/>
<line x1="489.75" y1="438.96" x2="494.35" y2="438.96" stroke="#000" stroke-width="1.8"/>
<line x1="416.25" y1="485.80" x2="416.25" y2="498.09" stroke="#000" stroke-width="1.0"/>
<line x1="413.95" y1="485.80" x2="418.55" y2="485.80" stroke="#000" stroke-width="1.8"/>
<line x1="413.95" y1="498.09" x2="418.55" y2="498.09" stroke="#000" stroke-width="1.8"/>
<path d="M416.25,529.66 L419.95,533.36 L416.25,537.06 L412.55,533.36Z" fill="#000" stroke="#000" stroke-width="0.4"/>
<path d="M492.05,528.44 L495.75,532.14 L492.05,535.84 L488.35,532.14Z" fill="#000" stroke="#000" stroke-width="0.4"/>
<rect x="414.15" y="513.07" width="4.20" height="4.20" fill="#fff" stroke="#000" stroke-width="1.4"/>
<rect x="489.95" y="484.56" width="4.20" height="4.20" fill="#fff" stroke="#000" stroke-width="1.4"/>
<path d="M416.25,491.94 L416.25,487.94 M416.25,491.94 L412.45,490.71 M416.25,491.94 L413.90,495.18 M416.25,491.94 L418.60,495.18 M416.25,491.94 L420.05,490.71" stroke="#000" stroke-width="2.3" fill="none" stroke-linecap="round"/>
<path d="M492.05,426.06 L492.05,422.06 M492.05,426.06 L488.25,424.82 M492.05,426.06 L489.70,429.29 M492.05,426.06 L494.40,429.29 M492.05,426.06 L495.85,424.82" stroke="#000" stroke-width="2.3" fill="none" stroke-linecap="round"/>
<circle cx="416.25" cy="528.94" r="3.10" fill="#000"/>
<circle cx="492.05" cy="527.71" r="3.10" fill="#000"/>
<rect x="300.15" y="526.71" width="4.8" height="5.2" fill="#000"/>
<rect x="291.6" y="398" width="115.39999999999998" height="53.19999999999999" fill="#fff" stroke="#000" stroke-width="1.6"/>
<line x1="293.80" y1="405.70" x2="306.20" y2="405.70" stroke="#000" stroke-width="1.6"/>
<path d="M300.00,401.63 L304.07,405.70 L300.00,409.77 L295.93,405.70Z" fill="#000" stroke="#000" stroke-width="0.4"/>
<text x="308.80" y="409.60" font-size="10.6" font-weight="bold" stroke="#000" stroke-width="0.25" textLength="53" lengthAdjust="spacingAndGlyphs">0 ng/mL FL</text>
<line x1="293.80" y1="418.40" x2="306.20" y2="418.40" stroke="#000" stroke-width="1.6"/>
<rect x="297.69" y="416.09" width="4.62" height="4.62" fill="#fff" stroke="#000" stroke-width="1.4"/>
<text x="308.80" y="422.30" font-size="10.6" font-weight="bold" stroke="#000" stroke-width="0.25" textLength="58.3" lengthAdjust="spacingAndGlyphs">10 ng/mL FL</text>
<line x1="293.80" y1="431.50" x2="306.20" y2="431.50" stroke="#000" stroke-width="1.6"/>
<path d="M300.00,431.50 L300.00,427.10 M300.00,431.50 L295.82,430.14 M300.00,431.50 L297.41,435.06 M300.00,431.50 L302.59,435.06 M300.00,431.50 L304.18,430.14" stroke="#000" stroke-width="2.3" fill="none" stroke-linecap="round"/>
<text x="308.80" y="435.40" font-size="10.6" font-weight="bold" stroke="#000" stroke-width="0.25" textLength="58.3" lengthAdjust="spacingAndGlyphs">50 ng/mL FL</text>
<line x1="293.80" y1="444.30" x2="306.20" y2="444.30" stroke="#000" stroke-width="1.6"/>
<circle cx="300.00" cy="444.30" r="3.41" fill="#000"/>
<text x="308.80" y="448.20" font-size="10.6" font-weight="bold" stroke="#000" stroke-width="0.25" textLength="56" lengthAdjust="spacingAndGlyphs">50 ng/mL FL</text>
<text x="274.30" y="382.40" font-size="25" font-weight="bold" text-anchor="start" fill="#000" >G</text>
<text x="361.20" y="386.60" font-size="11.2" font-weight="bold" text-anchor="start" fill="#000" >ND13 + Flt3</text>
<text x="367.20" y="447.40" font-size="8.6" font-weight="bold" text-anchor="start" fill="#000" >+</text>
<text x="375.90" y="447.50" font-size="8.3" font-weight="bold" text-anchor="start" fill="#000" stroke="#000" stroke-width="0.2" textLength="29.5">AG1295</text>
<text transform="translate(269.10,461.10) rotate(-90)" x="0" y="0" font-size="11.5" font-weight="bold" text-anchor="middle"  textLength="114">Relative cell number</text>
<text x="367.50" y="574.40" font-size="10.9" font-weight="bold" text-anchor="start" fill="#000"  textLength="82.5">Days in Culture</text>
</g>
</svg></body></html>
